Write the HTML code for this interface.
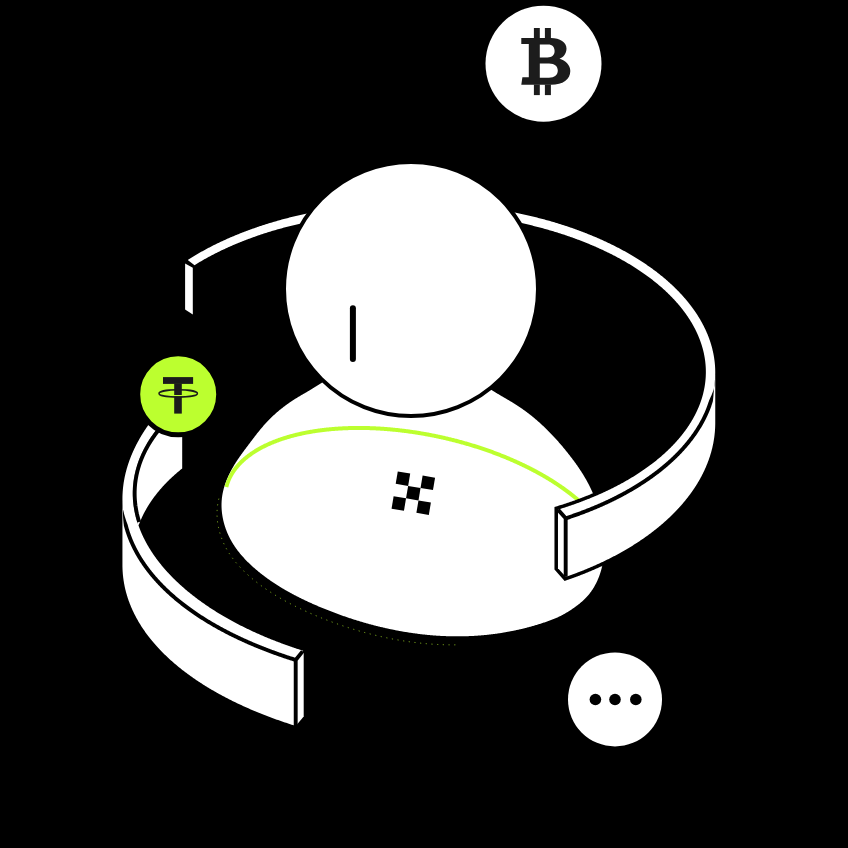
<!DOCTYPE html>
<html><head><meta charset="utf-8"><style>
html,body{margin:0;padding:0;background:#000;overflow:hidden;}
svg{display:block;}
</style></head><body>
<svg width="848" height="848" viewBox="0 0 848 848">
<defs><clipPath id="bc"><path d="M410.99,345.02 L410.36,344.96 L409.73,344.91 L409.11,344.87 L408.48,344.84 L407.85,344.81 L407.22,344.80 L406.59,344.78 L405.96,344.78 L405.32,344.78 L404.69,344.79 L404.06,344.81 L403.43,344.83 L402.79,344.86 L402.16,344.90 L401.52,344.95 L400.89,345.00 L400.25,345.06 L399.62,345.12 L398.98,345.19 L398.34,345.27 L397.71,345.35 L397.07,345.44 L396.43,345.54 L395.79,345.64 L395.15,345.75 L394.51,345.87 L393.87,345.99 L393.23,346.11 L392.59,346.25 L391.95,346.38 L391.31,346.53 L390.67,346.68 L390.03,346.83 L389.39,347.00 L388.75,347.16 L388.10,347.33 L387.46,347.51 L386.82,347.69 L386.18,347.88 L385.53,348.08 L384.89,348.27 L384.24,348.48 L383.60,348.69 L382.96,348.90 L382.31,349.12 L381.67,349.34 L381.02,349.57 L380.38,349.80 L379.73,350.04 L379.09,350.28 L378.44,350.53 L377.80,350.78 L377.15,351.03 L376.51,351.29 L375.86,351.56 L375.22,351.82 L374.57,352.10 L373.92,352.37 L373.28,352.65 L372.63,352.94 L371.99,353.22 L371.34,353.51 L370.70,353.81 L370.05,354.11 L369.40,354.41 L368.76,354.72 L368.11,355.03 L367.47,355.34 L366.82,355.66 L366.18,355.98 L365.53,356.30 L364.89,356.62 L364.24,356.95 L363.60,357.29 L362.95,357.62 L362.31,357.96 L361.66,358.30 L361.02,358.64 L360.37,358.99 L359.73,359.34 L359.09,359.69 L358.44,360.05 L357.80,360.40 L357.15,360.76 L356.51,361.12 L355.87,361.49 L355.23,361.85 L354.58,362.22 L353.94,362.59 L353.30,362.96 L352.66,363.34 L352.02,363.71 L351.38,364.09 L350.74,364.47 L350.10,364.85 L349.46,365.24 L348.82,365.62 L348.18,366.01 L347.54,366.39 L346.90,366.78 L346.26,367.17 L345.63,367.57 L344.99,367.96 L344.35,368.35 L343.72,368.75 L343.08,369.14 L342.44,369.54 L341.81,369.94 L341.17,370.34 L340.54,370.74 L339.91,371.14 L339.27,371.54 L338.64,371.94 L338.01,372.34 L337.38,372.74 L336.75,373.15 L336.12,373.55 L335.49,373.95 L334.86,374.36 L334.23,374.76 L333.60,375.16 L332.97,375.57 L332.35,375.97 L331.72,376.38 L331.10,376.78 L330.47,377.18 L329.85,377.59 L329.22,377.99 L328.60,378.39 L327.98,378.79 L327.36,379.19 L326.74,379.59 L326.12,379.99 L325.50,380.39 L324.88,380.79 L324.26,381.19 L323.64,381.58 L323.03,381.98 L322.41,382.37 L321.80,382.76 L321.18,383.16 L320.57,383.55 L319.96,383.94 L319.35,384.32 L318.74,384.71 L318.13,385.10 L317.52,385.48 L316.91,385.86 L316.30,386.24 L315.70,386.62 L315.09,387.00 L314.49,387.37 L313.88,387.74 L313.28,388.11 L312.68,388.48 L312.08,388.85 L311.48,389.21 L310.88,389.57 L310.28,389.93 L309.69,390.29 L309.09,390.64 L308.49,391.00 L307.90,391.35 L307.31,391.70 L306.72,392.04 L306.13,392.39 L305.54,392.73 L304.95,393.07 L304.36,393.42 L303.77,393.76 L303.18,394.10 L302.60,394.44 L302.01,394.78 L301.43,395.12 L300.85,395.47 L300.26,395.81 L299.68,396.15 L299.10,396.50 L298.52,396.85 L297.94,397.20 L297.36,397.55 L296.78,397.90 L296.21,398.26 L295.63,398.62 L295.05,398.98 L294.48,399.34 L293.90,399.71 L293.33,400.08 L292.75,400.46 L292.18,400.83 L291.61,401.21 L291.04,401.60 L290.47,401.98 L289.90,402.37 L289.33,402.76 L288.76,403.16 L288.20,403.56 L287.63,403.96 L287.07,404.36 L286.51,404.77 L285.95,405.18 L285.39,405.59 L284.83,406.01 L284.28,406.42 L283.72,406.84 L283.17,407.27 L282.62,407.70 L282.07,408.13 L281.52,408.56 L280.98,408.99 L280.43,409.43 L279.89,409.87 L279.35,410.31 L278.81,410.76 L278.28,411.21 L277.74,411.66 L277.21,412.12 L276.68,412.57 L276.15,413.03 L275.63,413.49 L275.11,413.96 L274.59,414.43 L274.07,414.90 L273.56,415.37 L273.04,415.84 L272.53,416.32 L272.03,416.80 L271.52,417.29 L271.02,417.77 L270.52,418.26 L270.03,418.75 L269.53,419.24 L269.05,419.74 L268.56,420.24 L268.08,420.74 L267.59,421.24 L267.12,421.74 L266.64,422.25 L266.17,422.76 L265.70,423.27 L265.24,423.78 L264.77,424.30 L264.31,424.82 L263.85,425.34 L263.40,425.86 L262.94,426.38 L262.49,426.91 L262.04,427.43 L261.60,427.96 L261.15,428.49 L260.71,429.03 L260.27,429.56 L259.83,430.09 L259.39,430.63 L258.96,431.17 L258.52,431.70 L258.09,432.24 L257.66,432.78 L257.23,433.33 L256.80,433.87 L256.38,434.41 L255.95,434.96 L255.53,435.50 L255.11,436.05 L254.68,436.59 L254.26,437.14 L253.84,437.69 L253.42,438.24 L253.00,438.79 L252.59,439.34 L252.17,439.89 L251.75,440.44 L251.34,440.99 L250.92,441.54 L250.50,442.09 L250.09,442.64 L249.67,443.19 L249.26,443.74 L248.84,444.29 L248.43,444.84 L248.01,445.39 L247.60,445.94 L247.18,446.49 L246.77,447.04 L246.35,447.60 L245.94,448.15 L245.52,448.70 L245.11,449.25 L244.70,449.80 L244.29,450.36 L243.87,450.91 L243.46,451.46 L243.06,452.02 L242.65,452.58 L242.24,453.13 L241.84,453.69 L241.43,454.25 L241.03,454.81 L240.63,455.38 L240.23,455.94 L239.83,456.50 L239.44,457.07 L239.04,457.64 L238.65,458.21 L238.26,458.78 L237.87,459.36 L237.48,459.93 L237.10,460.51 L236.72,461.09 L236.34,461.67 L235.96,462.26 L235.59,462.85 L235.22,463.43 L234.85,464.03 L234.48,464.62 L234.12,465.22 L233.76,465.82 L233.41,466.42 L233.05,467.02 L232.70,467.63 L232.36,468.24 L232.01,468.85 L231.68,469.47 L231.34,470.08 L231.01,470.70 L230.68,471.32 L230.36,471.94 L230.04,472.57 L229.72,473.20 L229.41,473.83 L229.11,474.46 L228.80,475.09 L228.51,475.72 L228.22,476.36 L227.93,477.00 L227.65,477.64 L227.37,478.28 L227.10,478.93 L226.83,479.57 L226.57,480.22 L226.31,480.87 L226.06,481.52 L225.82,482.18 L225.58,482.83 L225.34,483.49 L225.12,484.15 L224.89,484.81 L224.68,485.47 L224.47,486.13 L224.27,486.79 L224.07,487.46 L223.88,488.12 L223.70,488.79 L223.52,489.46 L223.35,490.13 L223.19,490.80 L223.03,491.48 L222.89,492.15 L222.75,492.83 L222.61,493.50 L222.49,494.18 L222.37,494.86 L222.26,495.54 L222.15,496.22 L222.06,496.90 L221.97,497.59 L221.89,498.27 L221.82,498.95 L221.76,499.64 L221.70,500.33 L221.65,501.01 L221.61,501.70 L221.58,502.39 L221.55,503.07 L221.53,503.76 L221.52,504.45 L221.52,505.14 L221.52,505.83 L221.53,506.52 L221.55,507.21 L221.58,507.90 L221.61,508.58 L221.65,509.27 L221.70,509.96 L221.76,510.65 L221.82,511.34 L221.89,512.03 L221.96,512.71 L222.05,513.40 L222.14,514.08 L222.23,514.77 L222.34,515.45 L222.45,516.14 L222.57,516.82 L222.69,517.50 L222.82,518.18 L222.96,518.86 L223.10,519.54 L223.25,520.22 L223.41,520.89 L223.57,521.57 L223.74,522.24 L223.92,522.91 L224.10,523.58 L224.29,524.25 L224.48,524.92 L224.69,525.59 L224.89,526.25 L225.11,526.91 L225.33,527.57 L225.55,528.23 L225.78,528.88 L226.02,529.54 L226.27,530.19 L226.52,530.84 L226.77,531.49 L227.03,532.13 L227.30,532.77 L227.57,533.41 L227.85,534.05 L228.14,534.68 L228.43,535.32 L228.72,535.95 L229.02,536.57 L229.33,537.20 L229.64,537.82 L229.96,538.43 L230.28,539.05 L230.61,539.66 L230.94,540.27 L231.28,540.87 L231.62,541.48 L231.97,542.07 L232.33,542.67 L232.69,543.26 L233.05,543.85 L233.42,544.44 L233.79,545.02 L234.17,545.60 L234.55,546.18 L234.94,546.75 L235.33,547.32 L235.73,547.89 L236.13,548.45 L236.54,549.02 L236.95,549.57 L237.36,550.13 L237.78,550.68 L238.20,551.23 L238.63,551.78 L239.06,552.33 L239.49,552.87 L239.93,553.40 L240.37,553.94 L240.82,554.47 L241.27,555.00 L241.72,555.53 L242.17,556.05 L242.63,556.58 L243.10,557.10 L243.57,557.61 L244.04,558.12 L244.51,558.64 L244.99,559.14 L245.47,559.65 L245.95,560.15 L246.43,560.65 L246.92,561.15 L247.41,561.64 L247.91,562.13 L248.41,562.62 L248.91,563.11 L249.41,563.59 L249.92,564.08 L250.42,564.56 L250.93,565.03 L251.45,565.51 L251.96,565.98 L252.48,566.45 L253.00,566.91 L253.52,567.38 L254.04,567.84 L254.57,568.30 L255.10,568.76 L255.63,569.21 L256.16,569.66 L256.69,570.11 L257.23,570.56 L257.76,571.01 L258.30,571.45 L258.84,571.89 L259.38,572.33 L259.93,572.76 L260.47,573.20 L261.02,573.63 L261.56,574.06 L262.11,574.49 L262.66,574.91 L263.21,575.33 L263.77,575.75 L264.32,576.17 L264.88,576.59 L265.43,577.00 L265.99,577.41 L266.55,577.82 L267.11,578.23 L267.67,578.64 L268.24,579.04 L268.80,579.44 L269.37,579.84 L269.94,580.24 L270.51,580.63 L271.08,581.03 L271.65,581.42 L272.22,581.81 L272.79,582.19 L273.37,582.58 L273.95,582.96 L274.52,583.34 L275.10,583.72 L275.68,584.10 L276.26,584.47 L276.84,584.85 L277.43,585.22 L278.01,585.59 L278.60,585.96 L279.19,586.32 L279.77,586.69 L280.36,587.05 L280.95,587.41 L281.54,587.77 L282.14,588.13 L282.73,588.48 L283.32,588.83 L283.92,589.18 L284.52,589.53 L285.11,589.88 L285.71,590.23 L286.31,590.57 L286.91,590.92 L287.51,591.26 L288.12,591.60 L288.72,591.93 L289.32,592.27 L289.93,592.60 L290.54,592.94 L291.14,593.27 L291.75,593.60 L292.36,593.93 L292.97,594.25 L293.58,594.58 L294.19,594.90 L294.81,595.22 L295.42,595.54 L296.03,595.86 L296.65,596.18 L297.26,596.49 L297.88,596.81 L298.50,597.12 L299.12,597.43 L299.74,597.74 L300.36,598.05 L300.98,598.35 L301.60,598.66 L302.22,598.96 L302.84,599.27 L303.47,599.57 L304.09,599.87 L304.72,600.17 L305.34,600.46 L305.97,600.76 L306.59,601.05 L307.22,601.35 L307.85,601.64 L308.48,601.93 L309.11,602.22 L309.74,602.50 L310.37,602.79 L311.00,603.08 L311.63,603.36 L312.27,603.64 L312.90,603.93 L313.53,604.21 L314.17,604.49 L314.80,604.76 L315.44,605.04 L316.07,605.32 L316.71,605.59 L317.35,605.86 L317.98,606.14 L318.62,606.41 L319.26,606.68 L319.90,606.95 L320.54,607.22 L321.18,607.48 L321.82,607.75 L322.46,608.01 L323.10,608.28 L323.74,608.54 L324.38,608.80 L325.02,609.06 L325.67,609.32 L326.31,609.58 L326.95,609.84 L327.60,610.09 L328.24,610.35 L328.89,610.60 L329.53,610.86 L330.18,611.11 L330.82,611.36 L331.47,611.61 L332.12,611.86 L332.76,612.10 L333.41,612.35 L334.06,612.60 L334.71,612.84 L335.36,613.08 L336.01,613.33 L336.66,613.57 L337.31,613.81 L337.96,614.04 L338.61,614.28 L339.26,614.52 L339.91,614.75 L340.56,614.99 L341.22,615.22 L341.87,615.45 L342.52,615.68 L343.18,615.91 L343.83,616.14 L344.49,616.37 L345.14,616.59 L345.80,616.82 L346.45,617.04 L347.11,617.27 L347.77,617.49 L348.42,617.71 L349.08,617.93 L349.74,618.15 L350.40,618.36 L351.05,618.58 L351.71,618.79 L352.37,619.01 L353.03,619.22 L353.69,619.43 L354.35,619.64 L355.01,619.85 L355.68,620.06 L356.34,620.26 L357.00,620.47 L357.66,620.67 L358.33,620.87 L358.99,621.08 L359.65,621.28 L360.32,621.48 L360.98,621.67 L361.64,621.87 L362.31,622.07 L362.98,622.26 L363.64,622.45 L364.31,622.65 L364.97,622.84 L365.64,623.03 L366.31,623.22 L366.98,623.40 L367.64,623.59 L368.31,623.77 L368.98,623.96 L369.65,624.14 L370.32,624.32 L370.99,624.50 L371.66,624.68 L372.33,624.86 L373.00,625.03 L373.67,625.21 L374.34,625.38 L375.01,625.55 L375.69,625.73 L376.36,625.90 L377.03,626.07 L377.70,626.23 L378.38,626.40 L379.05,626.56 L379.73,626.73 L380.40,626.89 L381.07,627.05 L381.75,627.21 L382.42,627.37 L383.10,627.53 L383.78,627.68 L384.45,627.84 L385.13,627.99 L385.81,628.15 L386.48,628.30 L387.16,628.45 L387.84,628.60 L388.52,628.74 L389.20,628.89 L389.87,629.03 L390.55,629.18 L391.23,629.32 L391.91,629.46 L392.59,629.60 L393.27,629.74 L393.95,629.87 L394.63,630.01 L395.31,630.14 L395.99,630.28 L396.68,630.41 L397.36,630.54 L398.04,630.67 L398.72,630.79 L399.40,630.92 L400.09,631.04 L400.77,631.17 L401.45,631.29 L402.14,631.41 L402.82,631.53 L403.50,631.65 L404.19,631.76 L404.87,631.88 L405.56,631.99 L406.24,632.11 L406.93,632.22 L407.61,632.33 L408.30,632.43 L408.98,632.54 L409.67,632.65 L410.35,632.75 L411.04,632.85 L411.73,632.95 L412.41,633.05 L413.10,633.15 L413.79,633.25 L414.47,633.35 L415.16,633.44 L415.85,633.53 L416.53,633.62 L417.22,633.71 L417.91,633.80 L418.60,633.89 L419.29,633.97 L419.98,634.06 L420.66,634.14 L421.35,634.22 L422.04,634.30 L422.73,634.38 L423.42,634.46 L424.11,634.53 L424.80,634.61 L425.49,634.68 L426.18,634.75 L426.87,634.82 L427.56,634.89 L428.25,634.95 L428.94,635.02 L429.63,635.08 L430.32,635.14 L431.01,635.20 L431.70,635.26 L432.39,635.32 L433.08,635.38 L433.77,635.43 L434.46,635.48 L435.15,635.53 L435.85,635.58 L436.54,635.63 L437.23,635.68 L437.92,635.72 L438.61,635.77 L439.30,635.81 L439.99,635.85 L440.69,635.89 L441.38,635.93 L442.07,635.96 L442.76,636.00 L443.45,636.03 L444.15,636.06 L444.84,636.09 L445.53,636.12 L446.22,636.15 L446.92,636.17 L447.61,636.19 L448.30,636.22 L448.99,636.24 L449.69,636.25 L450.38,636.27 L451.07,636.29 L451.76,636.30 L452.46,636.31 L453.15,636.32 L453.84,636.33 L454.53,636.34 L455.23,636.35 L455.92,636.35 L456.61,636.35 L457.30,636.35 L458.00,636.35 L458.69,636.35 L459.38,636.35 L460.07,636.34 L460.77,636.33 L461.46,636.32 L462.15,636.31 L462.85,636.30 L463.54,636.29 L464.23,636.27 L464.92,636.25 L465.62,636.24 L466.31,636.21 L467.00,636.19 L467.69,636.17 L468.38,636.14 L469.08,636.12 L469.77,636.09 L470.46,636.06 L471.15,636.02 L471.85,635.99 L472.54,635.95 L473.23,635.92 L473.92,635.88 L474.61,635.84 L475.31,635.79 L476.00,635.75 L476.69,635.70 L477.38,635.66 L478.07,635.61 L478.76,635.56 L479.45,635.50 L480.14,635.45 L480.83,635.39 L481.53,635.34 L482.22,635.28 L482.91,635.21 L483.60,635.15 L484.29,635.09 L484.98,635.02 L485.67,634.95 L486.36,634.88 L487.04,634.81 L487.73,634.74 L488.42,634.66 L489.11,634.59 L489.80,634.51 L490.49,634.43 L491.18,634.35 L491.87,634.26 L492.55,634.18 L493.24,634.09 L493.93,634.00 L494.62,633.91 L495.30,633.82 L495.99,633.73 L496.68,633.63 L497.36,633.53 L498.05,633.44 L498.73,633.34 L499.42,633.23 L500.10,633.13 L500.79,633.02 L501.47,632.92 L502.16,632.81 L502.84,632.69 L503.52,632.58 L504.21,632.47 L504.89,632.35 L505.57,632.23 L506.26,632.11 L506.94,631.99 L507.62,631.87 L508.30,631.74 L508.98,631.62 L509.66,631.49 L510.34,631.36 L511.03,631.23 L511.70,631.09 L512.38,630.96 L513.06,630.82 L513.74,630.68 L514.42,630.54 L515.10,630.40 L515.78,630.25 L516.45,630.11 L517.13,629.96 L517.81,629.81 L518.48,629.66 L519.16,629.51 L519.83,629.35 L520.51,629.19 L521.18,629.04 L521.86,628.88 L522.53,628.71 L523.20,628.55 L523.88,628.39 L524.55,628.22 L525.22,628.05 L525.89,627.88 L526.56,627.71 L527.23,627.53 L527.90,627.36 L528.57,627.18 L529.24,627.00 L529.91,626.82 L530.58,626.63 L531.24,626.45 L531.91,626.26 L532.58,626.07 L533.24,625.88 L533.91,625.69 L534.57,625.50 L535.24,625.30 L535.90,625.11 L536.57,624.91 L537.23,624.71 L537.89,624.50 L538.55,624.30 L539.21,624.09 L539.87,623.88 L540.53,623.67 L541.19,623.46 L541.85,623.25 L542.51,623.03 L543.17,622.82 L543.83,622.60 L544.48,622.38 L545.14,622.15 L545.79,621.93 L546.45,621.70 L547.10,621.48 L547.76,621.25 L548.41,621.01 L549.06,620.78 L549.71,620.54 L550.36,620.30 L551.01,620.06 L551.66,619.81 L552.30,619.56 L552.94,619.31 L553.59,619.05 L554.23,618.79 L554.87,618.53 L555.50,618.26 L556.14,617.99 L556.77,617.71 L557.40,617.43 L558.03,617.15 L558.66,616.86 L559.28,616.56 L559.91,616.26 L560.53,615.95 L561.14,615.64 L561.76,615.33 L562.37,615.00 L562.98,614.68 L563.59,614.35 L564.19,614.01 L564.79,613.67 L565.39,613.32 L565.99,612.97 L566.59,612.62 L567.18,612.26 L567.77,611.90 L568.36,611.53 L568.95,611.16 L569.54,610.79 L570.12,610.41 L570.71,610.03 L571.29,609.64 L571.86,609.25 L572.44,608.86 L573.02,608.47 L573.59,608.07 L574.16,607.66 L574.73,607.26 L575.30,606.85 L575.86,606.44 L576.43,606.02 L576.99,605.60 L577.54,605.18 L578.10,604.75 L578.65,604.32 L579.20,603.89 L579.74,603.45 L580.28,603.00 L580.81,602.56 L581.35,602.10 L581.87,601.65 L582.39,601.19 L582.91,600.72 L583.42,600.25 L583.93,599.77 L584.43,599.29 L584.93,598.81 L585.42,598.31 L585.90,597.82 L586.38,597.32 L586.85,596.81 L587.31,596.30 L587.77,595.78 L588.22,595.25 L588.66,594.72 L589.10,594.19 L589.53,593.65 L589.96,593.10 L590.37,592.55 L590.78,592.00 L591.19,591.44 L591.59,590.87 L591.98,590.30 L592.36,589.73 L592.74,589.15 L593.11,588.57 L593.47,587.98 L593.83,587.39 L594.19,586.79 L594.53,586.19 L594.87,585.59 L595.20,584.98 L595.53,584.37 L595.85,583.76 L596.16,583.14 L596.47,582.52 L596.77,581.89 L597.07,581.27 L597.35,580.63 L597.64,580.00 L597.91,579.36 L598.18,578.72 L598.45,578.08 L598.70,577.43 L598.95,576.79 L599.20,576.14 L599.44,575.48 L599.67,574.83 L599.90,574.17 L600.12,573.51 L600.34,572.85 L600.54,572.19 L600.75,571.52 L600.94,570.85 L601.13,570.19 L601.32,569.52 L601.50,568.84 L601.67,568.17 L601.84,567.50 L602.00,566.82 L602.16,566.14 L602.31,565.47 L602.45,564.79 L602.59,564.11 L602.72,563.43 L602.85,562.75 L602.97,562.07 L603.09,561.39 L603.20,560.70 L603.30,560.02 L603.40,559.33 L603.49,558.65 L603.58,557.96 L603.67,557.28 L603.74,556.59 L603.82,555.90 L603.88,555.21 L603.95,554.53 L604.00,553.84 L604.05,553.15 L604.10,552.46 L604.14,551.77 L604.18,551.08 L604.21,550.39 L604.24,549.69 L604.26,549.00 L604.28,548.31 L604.29,547.62 L604.30,546.93 L604.30,546.23 L604.30,545.54 L604.29,544.85 L604.28,544.15 L604.26,543.46 L604.24,542.77 L604.22,542.07 L604.19,541.38 L604.15,540.68 L604.12,539.99 L604.07,539.30 L604.03,538.60 L603.98,537.91 L603.92,537.22 L603.86,536.52 L603.80,535.83 L603.73,535.14 L603.66,534.44 L603.58,533.75 L603.50,533.06 L603.42,532.37 L603.33,531.67 L603.24,530.98 L603.15,530.29 L603.05,529.60 L602.95,528.91 L602.84,528.22 L602.73,527.53 L602.62,526.84 L602.50,526.15 L602.38,525.46 L602.25,524.77 L602.13,524.08 L601.99,523.40 L601.86,522.71 L601.72,522.03 L601.58,521.34 L601.44,520.66 L601.29,519.97 L601.14,519.29 L600.98,518.61 L600.83,517.93 L600.67,517.24 L600.50,516.56 L600.34,515.89 L600.17,515.21 L600.00,514.53 L599.82,513.85 L599.64,513.18 L599.46,512.50 L599.28,511.83 L599.09,511.16 L598.90,510.48 L598.71,509.81 L598.52,509.14 L598.32,508.48 L598.12,507.81 L597.92,507.14 L597.71,506.48 L597.50,505.81 L597.29,505.15 L597.08,504.49 L596.86,503.83 L596.64,503.17 L596.42,502.51 L596.19,501.86 L595.96,501.20 L595.73,500.55 L595.49,499.89 L595.25,499.24 L595.01,498.59 L594.77,497.95 L594.52,497.30 L594.27,496.66 L594.01,496.01 L593.75,495.37 L593.49,494.73 L593.23,494.09 L592.96,493.46 L592.69,492.82 L592.41,492.19 L592.14,491.56 L591.85,490.93 L591.57,490.30 L591.28,489.67 L590.99,489.05 L590.70,488.42 L590.40,487.80 L590.10,487.18 L589.79,486.57 L589.49,485.95 L589.18,485.33 L588.86,484.72 L588.55,484.11 L588.23,483.50 L587.90,482.89 L587.58,482.29 L587.25,481.68 L586.92,481.08 L586.58,480.47 L586.25,479.87 L585.91,479.27 L585.57,478.68 L585.22,478.08 L584.87,477.49 L584.52,476.89 L584.17,476.30 L583.81,475.71 L583.46,475.12 L583.10,474.53 L582.73,473.95 L582.37,473.36 L582.00,472.78 L581.63,472.20 L581.26,471.61 L580.88,471.03 L580.50,470.46 L580.12,469.88 L579.74,469.30 L579.36,468.73 L578.97,468.16 L578.58,467.58 L578.19,467.01 L577.80,466.44 L577.41,465.87 L577.01,465.31 L576.61,464.74 L576.21,464.18 L575.81,463.61 L575.40,463.05 L575.00,462.49 L574.59,461.93 L574.18,461.37 L573.77,460.81 L573.36,460.25 L572.94,459.69 L572.53,459.14 L572.11,458.58 L571.69,458.03 L571.27,457.48 L570.84,456.93 L570.42,456.38 L569.99,455.83 L569.57,455.28 L569.14,454.73 L568.71,454.18 L568.28,453.64 L567.85,453.09 L567.41,452.55 L566.98,452.00 L566.54,451.46 L566.10,450.92 L565.67,450.38 L565.23,449.84 L564.78,449.30 L564.34,448.76 L563.90,448.23 L563.45,447.69 L563.01,447.16 L562.56,446.62 L562.11,446.09 L561.66,445.56 L561.21,445.03 L560.75,444.50 L560.30,443.97 L559.84,443.45 L559.38,442.92 L558.93,442.39 L558.47,441.87 L558.01,441.35 L557.54,440.83 L557.08,440.31 L556.61,439.79 L556.15,439.27 L555.68,438.76 L555.21,438.24 L554.74,437.73 L554.27,437.22 L553.79,436.71 L553.32,436.20 L552.84,435.69 L552.37,435.19 L551.89,434.68 L551.41,434.18 L550.92,433.68 L550.44,433.18 L549.96,432.68 L549.47,432.18 L548.98,431.69 L548.49,431.19 L548.00,430.70 L547.51,430.21 L547.02,429.72 L546.53,429.23 L546.03,428.75 L545.53,428.26 L545.03,427.78 L544.53,427.30 L544.03,426.82 L543.53,426.34 L543.03,425.86 L542.52,425.39 L542.01,424.92 L541.51,424.45 L541.00,423.98 L540.48,423.51 L539.97,423.05 L539.46,422.58 L538.94,422.12 L538.42,421.66 L537.91,421.21 L537.38,420.75 L536.86,420.30 L536.34,419.84 L535.82,419.39 L535.29,418.95 L534.76,418.50 L534.23,418.06 L533.70,417.62 L533.17,417.18 L532.64,416.74 L532.10,416.30 L531.57,415.87 L531.03,415.44 L530.49,415.01 L529.95,414.58 L529.41,414.16 L528.86,413.73 L528.32,413.31 L527.77,412.89 L527.22,412.48 L526.67,412.06 L526.12,411.65 L525.57,411.24 L525.01,410.84 L524.46,410.43 L523.90,410.03 L523.34,409.63 L522.78,409.23 L522.22,408.84 L521.65,408.44 L521.09,408.05 L520.52,407.67 L519.95,407.28 L519.38,406.90 L518.81,406.52 L518.24,406.14 L517.66,405.76 L517.09,405.39 L516.51,405.02 L515.93,404.65 L515.35,404.28 L514.77,403.92 L514.18,403.55 L513.60,403.19 L513.01,402.83 L512.43,402.47 L511.84,402.12 L511.25,401.76 L510.66,401.41 L510.07,401.05 L509.48,400.70 L508.88,400.35 L508.29,399.99 L507.70,399.64 L507.10,399.29 L506.50,398.94 L505.91,398.59 L505.31,398.24 L504.71,397.89 L504.11,397.54 L503.51,397.19 L502.91,396.84 L502.31,396.48 L501.71,396.13 L501.11,395.78 L500.50,395.42 L499.90,395.07 L499.30,394.71 L498.70,394.35 L498.09,393.99 L497.49,393.63 L496.88,393.27 L496.28,392.91 L495.68,392.54 L495.07,392.17 L494.47,391.80 L493.87,391.43 L493.26,391.05 L492.66,390.68 L492.06,390.30 L491.45,389.92 L490.85,389.53 L490.25,389.14 L489.65,388.75 L489.04,388.36 L488.44,387.97 L487.84,387.57 L487.24,387.17 L486.64,386.77 L486.04,386.36 L485.44,385.95 L484.83,385.55 L484.23,385.14 L483.63,384.72 L483.03,384.31 L482.43,383.89 L481.83,383.48 L481.24,383.06 L480.64,382.64 L480.04,382.22 L479.44,381.79 L478.84,381.37 L478.24,380.94 L477.64,380.52 L477.04,380.09 L476.44,379.66 L475.85,379.23 L475.25,378.80 L474.65,378.37 L474.05,377.94 L473.45,377.51 L472.86,377.08 L472.26,376.64 L471.66,376.21 L471.06,375.78 L470.46,375.34 L469.87,374.91 L469.27,374.48 L468.67,374.04 L468.07,373.61 L467.48,373.18 L466.88,372.75 L466.28,372.32 L465.68,371.88 L465.08,371.45 L464.49,371.02 L463.89,370.59 L463.29,370.17 L462.69,369.74 L462.10,369.31 L461.50,368.89 L460.90,368.46 L460.30,368.04 L459.70,367.62 L459.10,367.20 L458.51,366.78 L457.91,366.36 L457.31,365.94 L456.71,365.53 L456.11,365.12 L455.51,364.71 L454.91,364.30 L454.31,363.89 L453.71,363.49 L453.12,363.08 L452.52,362.68 L451.92,362.29 L451.32,361.89 L450.72,361.50 L450.11,361.11 L449.51,360.72 L448.91,360.33 L448.31,359.95 L447.71,359.57 L447.11,359.20 L446.51,358.82 L445.91,358.45 L445.30,358.08 L444.70,357.72 L444.10,357.36 L443.50,357.00 L442.89,356.65 L442.29,356.30 L441.68,355.95 L441.08,355.61 L440.48,355.27 L439.87,354.94 L439.27,354.60 L438.66,354.28 L438.06,353.95 L437.45,353.64 L436.84,353.32 L436.24,353.01 L435.63,352.71 L435.02,352.40 L434.42,352.11 L433.81,351.82 L433.20,351.53 L432.59,351.25 L431.98,350.97 L431.37,350.70 L430.76,350.43 L430.15,350.17 L429.54,349.91 L428.93,349.66 L428.32,349.41 L427.70,349.17 L427.09,348.94 L426.48,348.71 L425.87,348.48 L425.25,348.26 L424.64,348.05 L424.02,347.85 L423.41,347.64 L422.79,347.45 L422.17,347.26 L421.56,347.08 L420.94,346.90 L420.32,346.74 L419.70,346.57 L419.09,346.42 L418.47,346.27 L417.85,346.12 L417.23,345.99 L416.60,345.86 L415.98,345.74 L415.36,345.62 L414.74,345.51 L414.11,345.41 L413.49,345.32 L412.87,345.23 L412.24,345.15 L411.62,345.08 Z"/></clipPath></defs>
<rect width="848" height="848" fill="#000"/>
<path d="M218.85,498.63 L218.69,499.30 L218.53,499.98 L218.39,500.65 L218.25,501.33 L218.11,502.00 L217.99,502.68 L217.87,503.36 L217.76,504.04 L217.65,504.72 L217.56,505.40 L217.47,506.09 L217.39,506.77 L217.32,507.45 L217.26,508.14 L217.20,508.83 L217.15,509.51 L217.11,510.20 L217.08,510.89 L217.05,511.57 L217.03,512.26 L217.02,512.95 L217.02,513.64 L217.02,514.33 L217.03,515.02 L217.05,515.71 L217.08,516.40 L217.11,517.08 L217.15,517.77 L217.20,518.46 L217.26,519.15 L217.32,519.84 L217.39,520.53 L217.46,521.21 L217.55,521.90 L217.64,522.58 L217.73,523.27 L217.84,523.95 L217.95,524.64 L218.07,525.32 L218.19,526.00 L218.32,526.68 L218.46,527.36 L218.60,528.04 L218.75,528.72 L218.91,529.39 L219.07,530.07 L219.24,530.74 L219.42,531.41 L219.60,532.08 L219.79,532.75 L219.98,533.42 L220.19,534.09 L220.39,534.75 L220.61,535.41 L220.83,536.07 L221.05,536.73 L221.28,537.38 L221.52,538.04 L221.77,538.69 L222.02,539.34 L222.27,539.99 L222.53,540.63 L222.80,541.27 L223.07,541.91 L223.35,542.55 L223.64,543.18 L223.93,543.82 L224.22,544.45 L224.52,545.07 L224.83,545.70 L225.14,546.32 L225.46,546.93 L225.78,547.55 L226.11,548.16 L226.44,548.77 L226.78,549.37 L227.12,549.98 L227.47,550.57 L227.83,551.17 L228.19,551.76 L228.55,552.35 L228.92,552.94 L229.29,553.52 L229.67,554.10 L230.05,554.68 L230.44,555.25 L230.83,555.82 L231.23,556.39 L231.63,556.95 L232.04,557.52 L232.45,558.07 L232.86,558.63 L233.28,559.18 L233.70,559.73 L234.13,560.28 L234.56,560.83 L234.99,561.37 L235.43,561.90 L235.87,562.44 L236.32,562.97 L236.77,563.50 L237.22,564.03 L237.67,564.55 L238.13,565.08 L238.60,565.60 L239.07,566.11 L239.54,566.62 L240.01,567.14 L240.49,567.64 L240.97,568.15 L241.45,568.65 L241.93,569.15 L242.42,569.65 L242.91,570.14 L243.41,570.63 L243.91,571.12 L244.41,571.61 L244.91,572.09 L245.42,572.58 L245.92,573.06 L246.43,573.53 L246.95,574.01 L247.46,574.48 L247.98,574.95 L248.50,575.41 L249.02,575.88 L249.54,576.34 L250.07,576.80 L250.60,577.26 L251.13,577.71 L251.66,578.16 L252.19,578.61 L252.73,579.06 L253.26,579.51 L253.80,579.95 L254.34,580.39 L254.88,580.83 L255.43,581.26 L255.97,581.70 L256.52,582.13 L257.06,582.56 L257.61,582.99 L258.16,583.41 L258.71,583.83 L259.27,584.25 L259.82,584.67 L260.38,585.09 L260.93,585.50 L261.49,585.91 L262.05,586.32 L262.61,586.73 L263.17,587.14 L263.74,587.54 L264.30,587.94 L264.87,588.34 L265.44,588.74 L266.01,589.13 L266.58,589.53 L267.15,589.92 L267.72,590.31 L268.29,590.69 L268.87,591.08 L269.45,591.46 L270.02,591.84 L270.60,592.22 L271.18,592.60 L271.76,592.97 L272.34,593.35 L272.93,593.72 L273.51,594.09 L274.10,594.46 L274.69,594.82 L275.27,595.19 L275.86,595.55 L276.45,595.91 L277.04,596.27 L277.64,596.63 L278.23,596.98 L278.82,597.33 L279.42,597.68 L280.02,598.03 L280.61,598.38 L281.21,598.73 L281.81,599.07 L282.41,599.42 L283.01,599.76 L283.62,600.10 L284.22,600.43 L284.82,600.77 L285.43,601.10 L286.04,601.44 L286.64,601.77 L287.25,602.10 L287.86,602.43 L288.47,602.75 L289.08,603.08 L289.69,603.40 L290.31,603.72 L290.92,604.04 L291.53,604.36 L292.15,604.68 L292.76,604.99 L293.38,605.31 L294.00,605.62 L294.62,605.93 L295.24,606.24 L295.86,606.55 L296.48,606.85 L297.10,607.16 L297.72,607.46 L298.34,607.77 L298.97,608.07 L299.59,608.37 L300.22,608.67 L300.84,608.96 L301.47,609.26 L302.09,609.55 L302.72,609.85 L303.35,610.14 L303.98,610.43 L304.61,610.72 L305.24,611.00 L305.87,611.29 L306.50,611.58 L307.13,611.86 L307.77,612.14 L308.40,612.43 L309.03,612.71 L309.67,612.99 L310.30,613.26 L310.94,613.54 L311.57,613.82 L312.21,614.09 L312.85,614.36 L313.48,614.64 L314.12,614.91 L314.76,615.18 L315.40,615.45 L316.04,615.72 L316.68,615.98 L317.32,616.25 L317.96,616.51 L318.60,616.78 L319.24,617.04 L319.88,617.30 L320.52,617.56 L321.17,617.82 L321.81,618.08 L322.45,618.34 L323.10,618.59 L323.74,618.85 L324.39,619.10 L325.03,619.36 L325.68,619.61 L326.32,619.86 L326.97,620.11 L327.62,620.36 L328.26,620.60 L328.91,620.85 L329.56,621.10 L330.21,621.34 L330.86,621.58 L331.51,621.83 L332.16,622.07 L332.81,622.31 L333.46,622.54 L334.11,622.78 L334.76,623.02 L335.41,623.25 L336.06,623.49 L336.72,623.72 L337.37,623.95 L338.02,624.18 L338.68,624.41 L339.33,624.64 L339.99,624.87 L340.64,625.09 L341.30,625.32 L341.95,625.54 L342.61,625.77 L343.27,625.99 L343.92,626.21 L344.58,626.43 L345.24,626.65 L345.90,626.86 L346.55,627.08 L347.21,627.29 L347.87,627.51 L348.53,627.72 L349.19,627.93 L349.85,628.14 L350.51,628.35 L351.18,628.56 L351.84,628.76 L352.50,628.97 L353.16,629.17 L353.83,629.37 L354.49,629.58 L355.15,629.78 L355.82,629.98 L356.48,630.17 L357.14,630.37 L357.81,630.57 L358.48,630.76 L359.14,630.95 L359.81,631.15 L360.47,631.34 L361.14,631.53 L361.81,631.72 L362.48,631.90 L363.14,632.09 L363.81,632.27 L364.48,632.46 L365.15,632.64 L365.82,632.82 L366.49,633.00 L367.16,633.18 L367.83,633.36 L368.50,633.53 L369.17,633.71 L369.84,633.88 L370.51,634.05 L371.19,634.23 L371.86,634.40 L372.53,634.57 L373.20,634.73 L373.88,634.90 L374.55,635.06 L375.23,635.23 L375.90,635.39 L376.57,635.55 L377.25,635.71 L377.92,635.87 L378.60,636.03 L379.28,636.18 L379.95,636.34 L380.63,636.49 L381.31,636.65 L381.98,636.80 L382.66,636.95 L383.34,637.10 L384.02,637.24 L384.70,637.39 L385.37,637.53 L386.05,637.68 L386.73,637.82 L387.41,637.96 L388.09,638.10 L388.77,638.24 L389.45,638.37 L390.13,638.51 L390.81,638.64 L391.49,638.78 L392.18,638.91 L392.86,639.04 L393.54,639.17 L394.22,639.29 L394.90,639.42 L395.59,639.54 L396.27,639.67 L396.95,639.79 L397.64,639.91 L398.32,640.03 L399.00,640.15 L399.69,640.26 L400.37,640.38 L401.06,640.49 L401.74,640.61 L402.43,640.72 L403.11,640.83 L403.80,640.93 L404.48,641.04 L405.17,641.15 L405.85,641.25 L406.54,641.35 L407.23,641.45 L407.91,641.55 L408.60,641.65 L409.29,641.75 L409.97,641.85 L410.66,641.94 L411.35,642.03 L412.03,642.12 L412.72,642.21 L413.41,642.30 L414.10,642.39 L414.79,642.47 L415.48,642.56 L416.16,642.64 L416.85,642.72 L417.54,642.80 L418.23,642.88 L418.92,642.96 L419.61,643.03 L420.30,643.11 L420.99,643.18 L421.68,643.25 L422.37,643.32 L423.06,643.39 L423.75,643.45 L424.44,643.52 L425.13,643.58 L425.82,643.64 L426.51,643.70 L427.20,643.76 L427.89,643.82 L428.58,643.88 L429.27,643.93 L429.96,643.98 L430.65,644.03 L431.35,644.08 L432.04,644.13 L432.73,644.18 L433.42,644.22 L434.11,644.27 L434.80,644.31 L435.49,644.35 L436.19,644.39 L436.88,644.43 L437.57,644.46 L438.26,644.50 L438.95,644.53 L439.65,644.56 L440.34,644.59 L441.03,644.62 L441.72,644.65 L442.42,644.67 L443.11,644.69 L443.80,644.72 L444.49,644.74 L445.19,644.75 L445.88,644.77 L446.57,644.79 L447.26,644.80 L447.96,644.81 L448.65,644.82 L449.34,644.83 L450.03,644.84 L450.73,644.85 L451.42,644.85 L452.11,644.85 L452.80,644.85 L453.50,644.85 L454.19,644.85 L454.88,644.85 L455.57,644.84 L456.27,644.83 L456.96,644.82" fill="none" stroke="#bcff2f" stroke-width="0.9" stroke-dasharray="1.2 4.5" opacity="0.7"/>
<path d="M410.99,345.02 L410.36,344.96 L409.73,344.91 L409.11,344.87 L408.48,344.84 L407.85,344.81 L407.22,344.80 L406.59,344.78 L405.96,344.78 L405.32,344.78 L404.69,344.79 L404.06,344.81 L403.43,344.83 L402.79,344.86 L402.16,344.90 L401.52,344.95 L400.89,345.00 L400.25,345.06 L399.62,345.12 L398.98,345.19 L398.34,345.27 L397.71,345.35 L397.07,345.44 L396.43,345.54 L395.79,345.64 L395.15,345.75 L394.51,345.87 L393.87,345.99 L393.23,346.11 L392.59,346.25 L391.95,346.38 L391.31,346.53 L390.67,346.68 L390.03,346.83 L389.39,347.00 L388.75,347.16 L388.10,347.33 L387.46,347.51 L386.82,347.69 L386.18,347.88 L385.53,348.08 L384.89,348.27 L384.24,348.48 L383.60,348.69 L382.96,348.90 L382.31,349.12 L381.67,349.34 L381.02,349.57 L380.38,349.80 L379.73,350.04 L379.09,350.28 L378.44,350.53 L377.80,350.78 L377.15,351.03 L376.51,351.29 L375.86,351.56 L375.22,351.82 L374.57,352.10 L373.92,352.37 L373.28,352.65 L372.63,352.94 L371.99,353.22 L371.34,353.51 L370.70,353.81 L370.05,354.11 L369.40,354.41 L368.76,354.72 L368.11,355.03 L367.47,355.34 L366.82,355.66 L366.18,355.98 L365.53,356.30 L364.89,356.62 L364.24,356.95 L363.60,357.29 L362.95,357.62 L362.31,357.96 L361.66,358.30 L361.02,358.64 L360.37,358.99 L359.73,359.34 L359.09,359.69 L358.44,360.05 L357.80,360.40 L357.15,360.76 L356.51,361.12 L355.87,361.49 L355.23,361.85 L354.58,362.22 L353.94,362.59 L353.30,362.96 L352.66,363.34 L352.02,363.71 L351.38,364.09 L350.74,364.47 L350.10,364.85 L349.46,365.24 L348.82,365.62 L348.18,366.01 L347.54,366.39 L346.90,366.78 L346.26,367.17 L345.63,367.57 L344.99,367.96 L344.35,368.35 L343.72,368.75 L343.08,369.14 L342.44,369.54 L341.81,369.94 L341.17,370.34 L340.54,370.74 L339.91,371.14 L339.27,371.54 L338.64,371.94 L338.01,372.34 L337.38,372.74 L336.75,373.15 L336.12,373.55 L335.49,373.95 L334.86,374.36 L334.23,374.76 L333.60,375.16 L332.97,375.57 L332.35,375.97 L331.72,376.38 L331.10,376.78 L330.47,377.18 L329.85,377.59 L329.22,377.99 L328.60,378.39 L327.98,378.79 L327.36,379.19 L326.74,379.59 L326.12,379.99 L325.50,380.39 L324.88,380.79 L324.26,381.19 L323.64,381.58 L323.03,381.98 L322.41,382.37 L321.80,382.76 L321.18,383.16 L320.57,383.55 L319.96,383.94 L319.35,384.32 L318.74,384.71 L318.13,385.10 L317.52,385.48 L316.91,385.86 L316.30,386.24 L315.70,386.62 L315.09,387.00 L314.49,387.37 L313.88,387.74 L313.28,388.11 L312.68,388.48 L312.08,388.85 L311.48,389.21 L310.88,389.57 L310.28,389.93 L309.69,390.29 L309.09,390.64 L308.49,391.00 L307.90,391.35 L307.31,391.70 L306.72,392.04 L306.13,392.39 L305.54,392.73 L304.95,393.07 L304.36,393.42 L303.77,393.76 L303.18,394.10 L302.60,394.44 L302.01,394.78 L301.43,395.12 L300.85,395.47 L300.26,395.81 L299.68,396.15 L299.10,396.50 L298.52,396.85 L297.94,397.20 L297.36,397.55 L296.78,397.90 L296.21,398.26 L295.63,398.62 L295.05,398.98 L294.48,399.34 L293.90,399.71 L293.33,400.08 L292.75,400.46 L292.18,400.83 L291.61,401.21 L291.04,401.60 L290.47,401.98 L289.90,402.37 L289.33,402.76 L288.76,403.16 L288.20,403.56 L287.63,403.96 L287.07,404.36 L286.51,404.77 L285.95,405.18 L285.39,405.59 L284.83,406.01 L284.28,406.42 L283.72,406.84 L283.17,407.27 L282.62,407.70 L282.07,408.13 L281.52,408.56 L280.98,408.99 L280.43,409.43 L279.89,409.87 L279.35,410.31 L278.81,410.76 L278.28,411.21 L277.74,411.66 L277.21,412.12 L276.68,412.57 L276.15,413.03 L275.63,413.49 L275.11,413.96 L274.59,414.43 L274.07,414.90 L273.56,415.37 L273.04,415.84 L272.53,416.32 L272.03,416.80 L271.52,417.29 L271.02,417.77 L270.52,418.26 L270.03,418.75 L269.53,419.24 L269.05,419.74 L268.56,420.24 L268.08,420.74 L267.59,421.24 L267.12,421.74 L266.64,422.25 L266.17,422.76 L265.70,423.27 L265.24,423.78 L264.77,424.30 L264.31,424.82 L263.85,425.34 L263.40,425.86 L262.94,426.38 L262.49,426.91 L262.04,427.43 L261.60,427.96 L261.15,428.49 L260.71,429.03 L260.27,429.56 L259.83,430.09 L259.39,430.63 L258.96,431.17 L258.52,431.70 L258.09,432.24 L257.66,432.78 L257.23,433.33 L256.80,433.87 L256.38,434.41 L255.95,434.96 L255.53,435.50 L255.11,436.05 L254.68,436.59 L254.26,437.14 L253.84,437.69 L253.42,438.24 L253.00,438.79 L252.59,439.34 L252.17,439.89 L251.75,440.44 L251.34,440.99 L250.92,441.54 L250.50,442.09 L250.09,442.64 L249.67,443.19 L249.26,443.74 L248.84,444.29 L248.43,444.84 L248.01,445.39 L247.60,445.94 L247.18,446.49 L246.77,447.04 L246.35,447.60 L245.94,448.15 L245.52,448.70 L245.11,449.25 L244.70,449.80 L244.29,450.36 L243.87,450.91 L243.46,451.46 L243.06,452.02 L242.65,452.58 L242.24,453.13 L241.84,453.69 L241.43,454.25 L241.03,454.81 L240.63,455.38 L240.23,455.94 L239.83,456.50 L239.44,457.07 L239.04,457.64 L238.65,458.21 L238.26,458.78 L237.87,459.36 L237.48,459.93 L237.10,460.51 L236.72,461.09 L236.34,461.67 L235.96,462.26 L235.59,462.85 L235.22,463.43 L234.85,464.03 L234.48,464.62 L234.12,465.22 L233.76,465.82 L233.41,466.42 L233.05,467.02 L232.70,467.63 L232.36,468.24 L232.01,468.85 L231.68,469.47 L231.34,470.08 L231.01,470.70 L230.68,471.32 L230.36,471.94 L230.04,472.57 L229.72,473.20 L229.41,473.83 L229.11,474.46 L228.80,475.09 L228.51,475.72 L228.22,476.36 L227.93,477.00 L227.65,477.64 L227.37,478.28 L227.10,478.93 L226.83,479.57 L226.57,480.22 L226.31,480.87 L226.06,481.52 L225.82,482.18 L225.58,482.83 L225.34,483.49 L225.12,484.15 L224.89,484.81 L224.68,485.47 L224.47,486.13 L224.27,486.79 L224.07,487.46 L223.88,488.12 L223.70,488.79 L223.52,489.46 L223.35,490.13 L223.19,490.80 L223.03,491.48 L222.89,492.15 L222.75,492.83 L222.61,493.50 L222.49,494.18 L222.37,494.86 L222.26,495.54 L222.15,496.22 L222.06,496.90 L221.97,497.59 L221.89,498.27 L221.82,498.95 L221.76,499.64 L221.70,500.33 L221.65,501.01 L221.61,501.70 L221.58,502.39 L221.55,503.07 L221.53,503.76 L221.52,504.45 L221.52,505.14 L221.52,505.83 L221.53,506.52 L221.55,507.21 L221.58,507.90 L221.61,508.58 L221.65,509.27 L221.70,509.96 L221.76,510.65 L221.82,511.34 L221.89,512.03 L221.96,512.71 L222.05,513.40 L222.14,514.08 L222.23,514.77 L222.34,515.45 L222.45,516.14 L222.57,516.82 L222.69,517.50 L222.82,518.18 L222.96,518.86 L223.10,519.54 L223.25,520.22 L223.41,520.89 L223.57,521.57 L223.74,522.24 L223.92,522.91 L224.10,523.58 L224.29,524.25 L224.48,524.92 L224.69,525.59 L224.89,526.25 L225.11,526.91 L225.33,527.57 L225.55,528.23 L225.78,528.88 L226.02,529.54 L226.27,530.19 L226.52,530.84 L226.77,531.49 L227.03,532.13 L227.30,532.77 L227.57,533.41 L227.85,534.05 L228.14,534.68 L228.43,535.32 L228.72,535.95 L229.02,536.57 L229.33,537.20 L229.64,537.82 L229.96,538.43 L230.28,539.05 L230.61,539.66 L230.94,540.27 L231.28,540.87 L231.62,541.48 L231.97,542.07 L232.33,542.67 L232.69,543.26 L233.05,543.85 L233.42,544.44 L233.79,545.02 L234.17,545.60 L234.55,546.18 L234.94,546.75 L235.33,547.32 L235.73,547.89 L236.13,548.45 L236.54,549.02 L236.95,549.57 L237.36,550.13 L237.78,550.68 L238.20,551.23 L238.63,551.78 L239.06,552.33 L239.49,552.87 L239.93,553.40 L240.37,553.94 L240.82,554.47 L241.27,555.00 L241.72,555.53 L242.17,556.05 L242.63,556.58 L243.10,557.10 L243.57,557.61 L244.04,558.12 L244.51,558.64 L244.99,559.14 L245.47,559.65 L245.95,560.15 L246.43,560.65 L246.92,561.15 L247.41,561.64 L247.91,562.13 L248.41,562.62 L248.91,563.11 L249.41,563.59 L249.92,564.08 L250.42,564.56 L250.93,565.03 L251.45,565.51 L251.96,565.98 L252.48,566.45 L253.00,566.91 L253.52,567.38 L254.04,567.84 L254.57,568.30 L255.10,568.76 L255.63,569.21 L256.16,569.66 L256.69,570.11 L257.23,570.56 L257.76,571.01 L258.30,571.45 L258.84,571.89 L259.38,572.33 L259.93,572.76 L260.47,573.20 L261.02,573.63 L261.56,574.06 L262.11,574.49 L262.66,574.91 L263.21,575.33 L263.77,575.75 L264.32,576.17 L264.88,576.59 L265.43,577.00 L265.99,577.41 L266.55,577.82 L267.11,578.23 L267.67,578.64 L268.24,579.04 L268.80,579.44 L269.37,579.84 L269.94,580.24 L270.51,580.63 L271.08,581.03 L271.65,581.42 L272.22,581.81 L272.79,582.19 L273.37,582.58 L273.95,582.96 L274.52,583.34 L275.10,583.72 L275.68,584.10 L276.26,584.47 L276.84,584.85 L277.43,585.22 L278.01,585.59 L278.60,585.96 L279.19,586.32 L279.77,586.69 L280.36,587.05 L280.95,587.41 L281.54,587.77 L282.14,588.13 L282.73,588.48 L283.32,588.83 L283.92,589.18 L284.52,589.53 L285.11,589.88 L285.71,590.23 L286.31,590.57 L286.91,590.92 L287.51,591.26 L288.12,591.60 L288.72,591.93 L289.32,592.27 L289.93,592.60 L290.54,592.94 L291.14,593.27 L291.75,593.60 L292.36,593.93 L292.97,594.25 L293.58,594.58 L294.19,594.90 L294.81,595.22 L295.42,595.54 L296.03,595.86 L296.65,596.18 L297.26,596.49 L297.88,596.81 L298.50,597.12 L299.12,597.43 L299.74,597.74 L300.36,598.05 L300.98,598.35 L301.60,598.66 L302.22,598.96 L302.84,599.27 L303.47,599.57 L304.09,599.87 L304.72,600.17 L305.34,600.46 L305.97,600.76 L306.59,601.05 L307.22,601.35 L307.85,601.64 L308.48,601.93 L309.11,602.22 L309.74,602.50 L310.37,602.79 L311.00,603.08 L311.63,603.36 L312.27,603.64 L312.90,603.93 L313.53,604.21 L314.17,604.49 L314.80,604.76 L315.44,605.04 L316.07,605.32 L316.71,605.59 L317.35,605.86 L317.98,606.14 L318.62,606.41 L319.26,606.68 L319.90,606.95 L320.54,607.22 L321.18,607.48 L321.82,607.75 L322.46,608.01 L323.10,608.28 L323.74,608.54 L324.38,608.80 L325.02,609.06 L325.67,609.32 L326.31,609.58 L326.95,609.84 L327.60,610.09 L328.24,610.35 L328.89,610.60 L329.53,610.86 L330.18,611.11 L330.82,611.36 L331.47,611.61 L332.12,611.86 L332.76,612.10 L333.41,612.35 L334.06,612.60 L334.71,612.84 L335.36,613.08 L336.01,613.33 L336.66,613.57 L337.31,613.81 L337.96,614.04 L338.61,614.28 L339.26,614.52 L339.91,614.75 L340.56,614.99 L341.22,615.22 L341.87,615.45 L342.52,615.68 L343.18,615.91 L343.83,616.14 L344.49,616.37 L345.14,616.59 L345.80,616.82 L346.45,617.04 L347.11,617.27 L347.77,617.49 L348.42,617.71 L349.08,617.93 L349.74,618.15 L350.40,618.36 L351.05,618.58 L351.71,618.79 L352.37,619.01 L353.03,619.22 L353.69,619.43 L354.35,619.64 L355.01,619.85 L355.68,620.06 L356.34,620.26 L357.00,620.47 L357.66,620.67 L358.33,620.87 L358.99,621.08 L359.65,621.28 L360.32,621.48 L360.98,621.67 L361.64,621.87 L362.31,622.07 L362.98,622.26 L363.64,622.45 L364.31,622.65 L364.97,622.84 L365.64,623.03 L366.31,623.22 L366.98,623.40 L367.64,623.59 L368.31,623.77 L368.98,623.96 L369.65,624.14 L370.32,624.32 L370.99,624.50 L371.66,624.68 L372.33,624.86 L373.00,625.03 L373.67,625.21 L374.34,625.38 L375.01,625.55 L375.69,625.73 L376.36,625.90 L377.03,626.07 L377.70,626.23 L378.38,626.40 L379.05,626.56 L379.73,626.73 L380.40,626.89 L381.07,627.05 L381.75,627.21 L382.42,627.37 L383.10,627.53 L383.78,627.68 L384.45,627.84 L385.13,627.99 L385.81,628.15 L386.48,628.30 L387.16,628.45 L387.84,628.60 L388.52,628.74 L389.20,628.89 L389.87,629.03 L390.55,629.18 L391.23,629.32 L391.91,629.46 L392.59,629.60 L393.27,629.74 L393.95,629.87 L394.63,630.01 L395.31,630.14 L395.99,630.28 L396.68,630.41 L397.36,630.54 L398.04,630.67 L398.72,630.79 L399.40,630.92 L400.09,631.04 L400.77,631.17 L401.45,631.29 L402.14,631.41 L402.82,631.53 L403.50,631.65 L404.19,631.76 L404.87,631.88 L405.56,631.99 L406.24,632.11 L406.93,632.22 L407.61,632.33 L408.30,632.43 L408.98,632.54 L409.67,632.65 L410.35,632.75 L411.04,632.85 L411.73,632.95 L412.41,633.05 L413.10,633.15 L413.79,633.25 L414.47,633.35 L415.16,633.44 L415.85,633.53 L416.53,633.62 L417.22,633.71 L417.91,633.80 L418.60,633.89 L419.29,633.97 L419.98,634.06 L420.66,634.14 L421.35,634.22 L422.04,634.30 L422.73,634.38 L423.42,634.46 L424.11,634.53 L424.80,634.61 L425.49,634.68 L426.18,634.75 L426.87,634.82 L427.56,634.89 L428.25,634.95 L428.94,635.02 L429.63,635.08 L430.32,635.14 L431.01,635.20 L431.70,635.26 L432.39,635.32 L433.08,635.38 L433.77,635.43 L434.46,635.48 L435.15,635.53 L435.85,635.58 L436.54,635.63 L437.23,635.68 L437.92,635.72 L438.61,635.77 L439.30,635.81 L439.99,635.85 L440.69,635.89 L441.38,635.93 L442.07,635.96 L442.76,636.00 L443.45,636.03 L444.15,636.06 L444.84,636.09 L445.53,636.12 L446.22,636.15 L446.92,636.17 L447.61,636.19 L448.30,636.22 L448.99,636.24 L449.69,636.25 L450.38,636.27 L451.07,636.29 L451.76,636.30 L452.46,636.31 L453.15,636.32 L453.84,636.33 L454.53,636.34 L455.23,636.35 L455.92,636.35 L456.61,636.35 L457.30,636.35 L458.00,636.35 L458.69,636.35 L459.38,636.35 L460.07,636.34 L460.77,636.33 L461.46,636.32 L462.15,636.31 L462.85,636.30 L463.54,636.29 L464.23,636.27 L464.92,636.25 L465.62,636.24 L466.31,636.21 L467.00,636.19 L467.69,636.17 L468.38,636.14 L469.08,636.12 L469.77,636.09 L470.46,636.06 L471.15,636.02 L471.85,635.99 L472.54,635.95 L473.23,635.92 L473.92,635.88 L474.61,635.84 L475.31,635.79 L476.00,635.75 L476.69,635.70 L477.38,635.66 L478.07,635.61 L478.76,635.56 L479.45,635.50 L480.14,635.45 L480.83,635.39 L481.53,635.34 L482.22,635.28 L482.91,635.21 L483.60,635.15 L484.29,635.09 L484.98,635.02 L485.67,634.95 L486.36,634.88 L487.04,634.81 L487.73,634.74 L488.42,634.66 L489.11,634.59 L489.80,634.51 L490.49,634.43 L491.18,634.35 L491.87,634.26 L492.55,634.18 L493.24,634.09 L493.93,634.00 L494.62,633.91 L495.30,633.82 L495.99,633.73 L496.68,633.63 L497.36,633.53 L498.05,633.44 L498.73,633.34 L499.42,633.23 L500.10,633.13 L500.79,633.02 L501.47,632.92 L502.16,632.81 L502.84,632.69 L503.52,632.58 L504.21,632.47 L504.89,632.35 L505.57,632.23 L506.26,632.11 L506.94,631.99 L507.62,631.87 L508.30,631.74 L508.98,631.62 L509.66,631.49 L510.34,631.36 L511.03,631.23 L511.70,631.09 L512.38,630.96 L513.06,630.82 L513.74,630.68 L514.42,630.54 L515.10,630.40 L515.78,630.25 L516.45,630.11 L517.13,629.96 L517.81,629.81 L518.48,629.66 L519.16,629.51 L519.83,629.35 L520.51,629.19 L521.18,629.04 L521.86,628.88 L522.53,628.71 L523.20,628.55 L523.88,628.39 L524.55,628.22 L525.22,628.05 L525.89,627.88 L526.56,627.71 L527.23,627.53 L527.90,627.36 L528.57,627.18 L529.24,627.00 L529.91,626.82 L530.58,626.63 L531.24,626.45 L531.91,626.26 L532.58,626.07 L533.24,625.88 L533.91,625.69 L534.57,625.50 L535.24,625.30 L535.90,625.11 L536.57,624.91 L537.23,624.71 L537.89,624.50 L538.55,624.30 L539.21,624.09 L539.87,623.88 L540.53,623.67 L541.19,623.46 L541.85,623.25 L542.51,623.03 L543.17,622.82 L543.83,622.60 L544.48,622.38 L545.14,622.15 L545.79,621.93 L546.45,621.70 L547.10,621.48 L547.76,621.25 L548.41,621.01 L549.06,620.78 L549.71,620.54 L550.36,620.30 L551.01,620.06 L551.66,619.81 L552.30,619.56 L552.94,619.31 L553.59,619.05 L554.23,618.79 L554.87,618.53 L555.50,618.26 L556.14,617.99 L556.77,617.71 L557.40,617.43 L558.03,617.15 L558.66,616.86 L559.28,616.56 L559.91,616.26 L560.53,615.95 L561.14,615.64 L561.76,615.33 L562.37,615.00 L562.98,614.68 L563.59,614.35 L564.19,614.01 L564.79,613.67 L565.39,613.32 L565.99,612.97 L566.59,612.62 L567.18,612.26 L567.77,611.90 L568.36,611.53 L568.95,611.16 L569.54,610.79 L570.12,610.41 L570.71,610.03 L571.29,609.64 L571.86,609.25 L572.44,608.86 L573.02,608.47 L573.59,608.07 L574.16,607.66 L574.73,607.26 L575.30,606.85 L575.86,606.44 L576.43,606.02 L576.99,605.60 L577.54,605.18 L578.10,604.75 L578.65,604.32 L579.20,603.89 L579.74,603.45 L580.28,603.00 L580.81,602.56 L581.35,602.10 L581.87,601.65 L582.39,601.19 L582.91,600.72 L583.42,600.25 L583.93,599.77 L584.43,599.29 L584.93,598.81 L585.42,598.31 L585.90,597.82 L586.38,597.32 L586.85,596.81 L587.31,596.30 L587.77,595.78 L588.22,595.25 L588.66,594.72 L589.10,594.19 L589.53,593.65 L589.96,593.10 L590.37,592.55 L590.78,592.00 L591.19,591.44 L591.59,590.87 L591.98,590.30 L592.36,589.73 L592.74,589.15 L593.11,588.57 L593.47,587.98 L593.83,587.39 L594.19,586.79 L594.53,586.19 L594.87,585.59 L595.20,584.98 L595.53,584.37 L595.85,583.76 L596.16,583.14 L596.47,582.52 L596.77,581.89 L597.07,581.27 L597.35,580.63 L597.64,580.00 L597.91,579.36 L598.18,578.72 L598.45,578.08 L598.70,577.43 L598.95,576.79 L599.20,576.14 L599.44,575.48 L599.67,574.83 L599.90,574.17 L600.12,573.51 L600.34,572.85 L600.54,572.19 L600.75,571.52 L600.94,570.85 L601.13,570.19 L601.32,569.52 L601.50,568.84 L601.67,568.17 L601.84,567.50 L602.00,566.82 L602.16,566.14 L602.31,565.47 L602.45,564.79 L602.59,564.11 L602.72,563.43 L602.85,562.75 L602.97,562.07 L603.09,561.39 L603.20,560.70 L603.30,560.02 L603.40,559.33 L603.49,558.65 L603.58,557.96 L603.67,557.28 L603.74,556.59 L603.82,555.90 L603.88,555.21 L603.95,554.53 L604.00,553.84 L604.05,553.15 L604.10,552.46 L604.14,551.77 L604.18,551.08 L604.21,550.39 L604.24,549.69 L604.26,549.00 L604.28,548.31 L604.29,547.62 L604.30,546.93 L604.30,546.23 L604.30,545.54 L604.29,544.85 L604.28,544.15 L604.26,543.46 L604.24,542.77 L604.22,542.07 L604.19,541.38 L604.15,540.68 L604.12,539.99 L604.07,539.30 L604.03,538.60 L603.98,537.91 L603.92,537.22 L603.86,536.52 L603.80,535.83 L603.73,535.14 L603.66,534.44 L603.58,533.75 L603.50,533.06 L603.42,532.37 L603.33,531.67 L603.24,530.98 L603.15,530.29 L603.05,529.60 L602.95,528.91 L602.84,528.22 L602.73,527.53 L602.62,526.84 L602.50,526.15 L602.38,525.46 L602.25,524.77 L602.13,524.08 L601.99,523.40 L601.86,522.71 L601.72,522.03 L601.58,521.34 L601.44,520.66 L601.29,519.97 L601.14,519.29 L600.98,518.61 L600.83,517.93 L600.67,517.24 L600.50,516.56 L600.34,515.89 L600.17,515.21 L600.00,514.53 L599.82,513.85 L599.64,513.18 L599.46,512.50 L599.28,511.83 L599.09,511.16 L598.90,510.48 L598.71,509.81 L598.52,509.14 L598.32,508.48 L598.12,507.81 L597.92,507.14 L597.71,506.48 L597.50,505.81 L597.29,505.15 L597.08,504.49 L596.86,503.83 L596.64,503.17 L596.42,502.51 L596.19,501.86 L595.96,501.20 L595.73,500.55 L595.49,499.89 L595.25,499.24 L595.01,498.59 L594.77,497.95 L594.52,497.30 L594.27,496.66 L594.01,496.01 L593.75,495.37 L593.49,494.73 L593.23,494.09 L592.96,493.46 L592.69,492.82 L592.41,492.19 L592.14,491.56 L591.85,490.93 L591.57,490.30 L591.28,489.67 L590.99,489.05 L590.70,488.42 L590.40,487.80 L590.10,487.18 L589.79,486.57 L589.49,485.95 L589.18,485.33 L588.86,484.72 L588.55,484.11 L588.23,483.50 L587.90,482.89 L587.58,482.29 L587.25,481.68 L586.92,481.08 L586.58,480.47 L586.25,479.87 L585.91,479.27 L585.57,478.68 L585.22,478.08 L584.87,477.49 L584.52,476.89 L584.17,476.30 L583.81,475.71 L583.46,475.12 L583.10,474.53 L582.73,473.95 L582.37,473.36 L582.00,472.78 L581.63,472.20 L581.26,471.61 L580.88,471.03 L580.50,470.46 L580.12,469.88 L579.74,469.30 L579.36,468.73 L578.97,468.16 L578.58,467.58 L578.19,467.01 L577.80,466.44 L577.41,465.87 L577.01,465.31 L576.61,464.74 L576.21,464.18 L575.81,463.61 L575.40,463.05 L575.00,462.49 L574.59,461.93 L574.18,461.37 L573.77,460.81 L573.36,460.25 L572.94,459.69 L572.53,459.14 L572.11,458.58 L571.69,458.03 L571.27,457.48 L570.84,456.93 L570.42,456.38 L569.99,455.83 L569.57,455.28 L569.14,454.73 L568.71,454.18 L568.28,453.64 L567.85,453.09 L567.41,452.55 L566.98,452.00 L566.54,451.46 L566.10,450.92 L565.67,450.38 L565.23,449.84 L564.78,449.30 L564.34,448.76 L563.90,448.23 L563.45,447.69 L563.01,447.16 L562.56,446.62 L562.11,446.09 L561.66,445.56 L561.21,445.03 L560.75,444.50 L560.30,443.97 L559.84,443.45 L559.38,442.92 L558.93,442.39 L558.47,441.87 L558.01,441.35 L557.54,440.83 L557.08,440.31 L556.61,439.79 L556.15,439.27 L555.68,438.76 L555.21,438.24 L554.74,437.73 L554.27,437.22 L553.79,436.71 L553.32,436.20 L552.84,435.69 L552.37,435.19 L551.89,434.68 L551.41,434.18 L550.92,433.68 L550.44,433.18 L549.96,432.68 L549.47,432.18 L548.98,431.69 L548.49,431.19 L548.00,430.70 L547.51,430.21 L547.02,429.72 L546.53,429.23 L546.03,428.75 L545.53,428.26 L545.03,427.78 L544.53,427.30 L544.03,426.82 L543.53,426.34 L543.03,425.86 L542.52,425.39 L542.01,424.92 L541.51,424.45 L541.00,423.98 L540.48,423.51 L539.97,423.05 L539.46,422.58 L538.94,422.12 L538.42,421.66 L537.91,421.21 L537.38,420.75 L536.86,420.30 L536.34,419.84 L535.82,419.39 L535.29,418.95 L534.76,418.50 L534.23,418.06 L533.70,417.62 L533.17,417.18 L532.64,416.74 L532.10,416.30 L531.57,415.87 L531.03,415.44 L530.49,415.01 L529.95,414.58 L529.41,414.16 L528.86,413.73 L528.32,413.31 L527.77,412.89 L527.22,412.48 L526.67,412.06 L526.12,411.65 L525.57,411.24 L525.01,410.84 L524.46,410.43 L523.90,410.03 L523.34,409.63 L522.78,409.23 L522.22,408.84 L521.65,408.44 L521.09,408.05 L520.52,407.67 L519.95,407.28 L519.38,406.90 L518.81,406.52 L518.24,406.14 L517.66,405.76 L517.09,405.39 L516.51,405.02 L515.93,404.65 L515.35,404.28 L514.77,403.92 L514.18,403.55 L513.60,403.19 L513.01,402.83 L512.43,402.47 L511.84,402.12 L511.25,401.76 L510.66,401.41 L510.07,401.05 L509.48,400.70 L508.88,400.35 L508.29,399.99 L507.70,399.64 L507.10,399.29 L506.50,398.94 L505.91,398.59 L505.31,398.24 L504.71,397.89 L504.11,397.54 L503.51,397.19 L502.91,396.84 L502.31,396.48 L501.71,396.13 L501.11,395.78 L500.50,395.42 L499.90,395.07 L499.30,394.71 L498.70,394.35 L498.09,393.99 L497.49,393.63 L496.88,393.27 L496.28,392.91 L495.68,392.54 L495.07,392.17 L494.47,391.80 L493.87,391.43 L493.26,391.05 L492.66,390.68 L492.06,390.30 L491.45,389.92 L490.85,389.53 L490.25,389.14 L489.65,388.75 L489.04,388.36 L488.44,387.97 L487.84,387.57 L487.24,387.17 L486.64,386.77 L486.04,386.36 L485.44,385.95 L484.83,385.55 L484.23,385.14 L483.63,384.72 L483.03,384.31 L482.43,383.89 L481.83,383.48 L481.24,383.06 L480.64,382.64 L480.04,382.22 L479.44,381.79 L478.84,381.37 L478.24,380.94 L477.64,380.52 L477.04,380.09 L476.44,379.66 L475.85,379.23 L475.25,378.80 L474.65,378.37 L474.05,377.94 L473.45,377.51 L472.86,377.08 L472.26,376.64 L471.66,376.21 L471.06,375.78 L470.46,375.34 L469.87,374.91 L469.27,374.48 L468.67,374.04 L468.07,373.61 L467.48,373.18 L466.88,372.75 L466.28,372.32 L465.68,371.88 L465.08,371.45 L464.49,371.02 L463.89,370.59 L463.29,370.17 L462.69,369.74 L462.10,369.31 L461.50,368.89 L460.90,368.46 L460.30,368.04 L459.70,367.62 L459.10,367.20 L458.51,366.78 L457.91,366.36 L457.31,365.94 L456.71,365.53 L456.11,365.12 L455.51,364.71 L454.91,364.30 L454.31,363.89 L453.71,363.49 L453.12,363.08 L452.52,362.68 L451.92,362.29 L451.32,361.89 L450.72,361.50 L450.11,361.11 L449.51,360.72 L448.91,360.33 L448.31,359.95 L447.71,359.57 L447.11,359.20 L446.51,358.82 L445.91,358.45 L445.30,358.08 L444.70,357.72 L444.10,357.36 L443.50,357.00 L442.89,356.65 L442.29,356.30 L441.68,355.95 L441.08,355.61 L440.48,355.27 L439.87,354.94 L439.27,354.60 L438.66,354.28 L438.06,353.95 L437.45,353.64 L436.84,353.32 L436.24,353.01 L435.63,352.71 L435.02,352.40 L434.42,352.11 L433.81,351.82 L433.20,351.53 L432.59,351.25 L431.98,350.97 L431.37,350.70 L430.76,350.43 L430.15,350.17 L429.54,349.91 L428.93,349.66 L428.32,349.41 L427.70,349.17 L427.09,348.94 L426.48,348.71 L425.87,348.48 L425.25,348.26 L424.64,348.05 L424.02,347.85 L423.41,347.64 L422.79,347.45 L422.17,347.26 L421.56,347.08 L420.94,346.90 L420.32,346.74 L419.70,346.57 L419.09,346.42 L418.47,346.27 L417.85,346.12 L417.23,345.99 L416.60,345.86 L415.98,345.74 L415.36,345.62 L414.74,345.51 L414.11,345.41 L413.49,345.32 L412.87,345.23 L412.24,345.15 L411.62,345.08 Z" fill="#fff"/>
<path clip-path="url(#bc)" d="M226.30,487.07 L226.39,486.70 L226.49,486.33 L226.59,485.96 L226.69,485.59 L226.80,485.22 L226.91,484.85 L227.02,484.48 L227.14,484.12 L227.26,483.75 L227.38,483.39 L227.51,483.02 L227.63,482.66 L227.77,482.29 L227.90,481.93 L228.04,481.57 L228.18,481.21 L228.32,480.85 L228.47,480.49 L228.62,480.13 L228.77,479.77 L228.93,479.42 L229.09,479.06 L229.25,478.70 L229.41,478.35 L229.58,478.00 L229.75,477.64 L229.93,477.29 L230.11,476.94 L230.29,476.59 L230.47,476.24 L230.66,475.89 L230.85,475.55 L231.04,475.20 L231.23,474.85 L231.43,474.51 L231.64,474.16 L231.84,473.82 L232.05,473.48 L232.26,473.14 L232.47,472.80 L232.69,472.46 L232.91,472.12 L233.13,471.78 L233.36,471.45 L233.59,471.11 L233.82,470.78 L234.05,470.44 L234.29,470.11 L234.53,469.78 L234.77,469.45 L235.02,469.12 L235.27,468.79 L235.52,468.46 L235.78,468.13 L236.04,467.81 L236.30,467.48 L236.56,467.16 L236.83,466.84 L237.10,466.51 L237.37,466.19 L237.65,465.87 L237.93,465.56 L238.21,465.24 L238.50,464.92 L238.78,464.61 L239.07,464.29 L239.37,463.98 L239.66,463.67 L239.96,463.35 L240.27,463.04 L240.57,462.73 L240.88,462.43 L241.19,462.12 L241.50,461.81 L241.82,461.51 L242.14,461.21 L242.46,460.90 L242.79,460.60 L243.12,460.30 L243.45,460.00 L243.78,459.70 L244.12,459.41 L244.46,459.11 L244.80,458.82 L245.14,458.52 L245.49,458.23 L245.84,457.94 L246.19,457.65 L246.55,457.36 L246.91,457.07 L247.27,456.79 L247.64,456.50 L248.00,456.22 L248.37,455.94 L248.75,455.65 L249.12,455.37 L249.50,455.09 L249.88,454.82 L250.26,454.54 L250.65,454.26 L251.04,453.99 L251.43,453.72 L251.83,453.44 L252.22,453.17 L252.62,452.90 L253.03,452.64 L253.43,452.37 L253.84,452.10 L254.25,451.84 L254.66,451.58 L255.08,451.31 L255.50,451.05 L255.92,450.79 L256.34,450.54 L256.77,450.28 L257.20,450.02 L257.63,449.77 L258.06,449.52 L258.50,449.27 L258.94,449.02 L259.38,448.77 L259.83,448.52 L260.27,448.27 L260.72,448.03 L261.18,447.78 L261.63,447.54 L262.09,447.30 L262.55,447.06 L263.01,446.82 L263.48,446.59 L263.94,446.35 L264.41,446.12 L264.89,445.88 L265.36,445.65 L265.84,445.42 L266.32,445.19 L266.80,444.97 L267.29,444.74 L267.77,444.51 L268.26,444.29 L268.76,444.07 L269.25,443.85 L269.75,443.63 L270.25,443.41 L270.75,443.20 L271.25,442.98 L271.76,442.77 L272.27,442.55 L272.78,442.34 L273.29,442.13 L273.81,441.93 L274.33,441.72 L274.85,441.52 L275.37,441.31 L275.90,441.11 L276.42,440.91 L276.95,440.71 L277.49,440.51 L278.02,440.32 L278.56,440.12 L279.10,439.93 L279.64,439.73 L280.18,439.54 L280.73,439.35 L281.28,439.17 L281.83,438.98 L282.38,438.80 L282.93,438.61 L283.49,438.43 L284.05,438.25 L284.61,438.07 L285.17,437.89 L285.74,437.72 L286.31,437.54 L286.88,437.37 L287.45,437.20 L288.02,437.03 L288.60,436.86 L289.18,436.70 L289.76,436.53 L290.34,436.37 L290.93,436.20 L291.51,436.04 L292.10,435.88 L292.69,435.73 L293.29,435.57 L293.88,435.42 L294.48,435.26 L295.08,435.11 L295.68,434.96 L296.28,434.81 L296.88,434.66 L297.49,434.52 L298.10,434.38 L298.71,434.23 L299.32,434.09 L299.94,433.95 L300.56,433.81 L301.17,433.68 L301.79,433.54 L302.42,433.41 L303.04,433.28 L303.67,433.15 L304.29,433.02 L304.92,432.89 L305.56,432.77 L306.19,432.65 L306.82,432.52 L307.46,432.40 L308.10,432.28 L308.74,432.17 L309.38,432.05 L310.03,431.94 L310.67,431.82 L311.32,431.71 L311.97,431.60 L312.62,431.49 L313.28,431.39 L313.93,431.28 L314.59,431.18 L315.24,431.08 L315.90,430.98 L316.57,430.88 L317.23,430.78 L317.89,430.69 L318.56,430.60 L319.23,430.50 L319.90,430.41 L320.57,430.32 L321.24,430.24 L321.92,430.15 L322.59,430.07 L323.27,429.99 L323.95,429.91 L324.63,429.83 L325.31,429.75 L325.99,429.67 L326.68,429.60 L327.37,429.53 L328.05,429.46 L328.74,429.39 L329.43,429.32 L330.13,429.25 L330.82,429.19 L331.52,429.13 L332.21,429.06 L332.91,429.00 L333.61,428.95 L334.31,428.89 L335.01,428.84 L335.72,428.78 L336.42,428.73 L337.13,428.68 L337.84,428.63 L338.55,428.59 L339.26,428.54 L339.97,428.50 L340.68,428.46 L341.39,428.42 L342.11,428.38 L342.83,428.34 L343.54,428.31 L344.26,428.27 L344.98,428.24 L345.70,428.21 L346.43,428.18 L347.15,428.16 L347.88,428.13 L348.60,428.11 L349.33,428.09 L350.06,428.07 L350.79,428.05 L351.52,428.03 L352.25,428.02 L352.98,428.00 L353.72,427.99 L354.45,427.98 L355.19,427.97 L355.93,427.97 L356.66,427.96 L357.40,427.96 L358.14,427.95 L358.88,427.95 L359.63,427.96 L360.37,427.96 L361.11,427.96 L361.86,427.97 L362.60,427.98 L363.35,427.99 L364.10,428.00 L364.85,428.01 L365.60,428.02 L366.35,428.04 L367.10,428.06 L367.85,428.08 L368.60,428.10 L369.36,428.12 L370.11,428.15 L370.87,428.17 L371.62,428.20 L372.38,428.23 L373.14,428.26 L373.89,428.29 L374.65,428.33 L375.41,428.36 L376.17,428.40 L376.93,428.44 L377.70,428.48 L378.46,428.52 L379.22,428.57 L379.99,428.61 L380.75,428.66 L381.52,428.71 L382.28,428.76 L383.05,428.81 L383.81,428.86 L384.58,428.92 L385.35,428.98 L386.12,429.04 L386.89,429.10 L387.66,429.16 L388.43,429.22 L389.20,429.29 L389.97,429.35 L390.74,429.42 L391.51,429.49 L392.29,429.56 L393.06,429.64 L393.83,429.71 L394.61,429.79 L395.38,429.87 L396.16,429.95 L396.93,430.03 L397.71,430.11 L398.48,430.20 L399.26,430.28 L400.03,430.37 L400.81,430.46 L401.59,430.55 L402.37,430.64 L403.14,430.74 L403.92,430.83 L404.70,430.93 L405.48,431.03 L406.26,431.13 L407.03,431.23 L407.81,431.34 L408.59,431.44 L409.37,431.55 L410.15,431.66 L410.93,431.77 L411.71,431.88 L412.49,431.99 L413.27,432.11 L414.05,432.23 L414.83,432.34 L415.61,432.46 L416.39,432.59 L417.17,432.71 L417.95,432.83 L418.73,432.96 L419.51,433.09 L420.30,433.22 L421.08,433.35 L421.86,433.48 L422.64,433.61 L423.42,433.75 L424.20,433.89 L424.98,434.02 L425.76,434.16 L426.54,434.31 L427.32,434.45 L428.10,434.59 L428.88,434.74 L429.66,434.89 L430.44,435.04 L431.22,435.19 L431.99,435.34 L432.77,435.49 L433.55,435.65 L434.33,435.81 L435.11,435.97 L435.89,436.13 L436.66,436.29 L437.44,436.45 L438.22,436.62 L439.00,436.78 L439.77,436.95 L440.55,437.12 L441.32,437.29 L442.10,437.46 L442.88,437.63 L443.65,437.81 L444.42,437.99 L445.20,438.16 L445.97,438.34 L446.75,438.52 L447.52,438.71 L448.29,438.89 L449.06,439.08 L449.83,439.26 L450.60,439.45 L451.37,439.64 L452.14,439.83 L452.91,440.03 L453.68,440.22 L454.45,440.42 L455.22,440.61 L455.99,440.81 L456.75,441.01 L457.52,441.21 L458.28,441.42 L459.05,441.62 L459.81,441.83 L460.58,442.03 L461.34,442.24 L462.10,442.45 L462.86,442.66 L463.62,442.88 L464.38,443.09 L465.14,443.31 L465.90,443.52 L466.66,443.74 L467.42,443.96 L468.17,444.18 L468.93,444.41 L469.68,444.63 L470.44,444.86 L471.19,445.08 L471.94,445.31 L472.69,445.54 L473.44,445.77 L474.19,446.00 L474.94,446.24 L475.69,446.47 L476.44,446.71 L477.18,446.95 L477.93,447.18 L478.67,447.42 L479.42,447.67 L480.16,447.91 L480.90,448.15 L481.64,448.40 L482.38,448.65 L483.12,448.89 L483.86,449.14 L484.59,449.40 L485.33,449.65 L486.06,449.90 L486.80,450.16 L487.53,450.41 L488.26,450.67 L488.99,450.93 L489.72,451.19 L490.45,451.45 L491.17,451.71 L491.90,451.98 L492.62,452.24 L493.34,452.51 L494.07,452.77 L494.79,453.04 L495.51,453.31 L496.22,453.58 L496.94,453.86 L497.66,454.13 L498.37,454.41 L499.09,454.68 L499.80,454.96 L500.51,455.24 L501.22,455.52 L501.93,455.80 L502.63,456.08 L503.34,456.36 L504.04,456.65 L504.74,456.93 L505.45,457.22 L506.15,457.51 L506.84,457.80 L507.54,458.09 L508.24,458.38 L508.93,458.67 L509.63,458.97 L510.32,459.26 L511.01,459.56 L511.70,459.86 L512.38,460.16 L513.07,460.46 L513.75,460.76 L514.43,461.06 L515.12,461.36 L515.80,461.67 L516.47,461.97 L517.15,462.28 L517.82,462.58 L518.50,462.89 L519.17,463.20 L519.84,463.51 L520.51,463.83 L521.18,464.14 L521.84,464.45 L522.50,464.77 L523.17,465.08 L523.83,465.40 L524.49,465.72 L525.14,466.04 L525.80,466.36 L526.45,466.68 L527.10,467.00 L527.75,467.33 L528.40,467.65 L529.05,467.97 L529.69,468.30 L530.34,468.63 L530.98,468.96 L531.62,469.29 L532.25,469.62 L532.89,469.95 L533.52,470.28 L534.16,470.61 L534.79,470.95 L535.42,471.28 L536.04,471.62 L536.67,471.96 L537.29,472.29 L537.91,472.63 L538.53,472.97 L539.15,473.31 L539.76,473.66 L540.38,474.00 L540.99,474.34 L541.60,474.69 L542.20,475.03 L542.81,475.38 L543.41,475.72 L544.02,476.07 L544.62,476.42 L545.21,476.77 L545.81,477.12 L546.40,477.47 L546.99,477.83 L547.58,478.18 L548.17,478.53 L548.76,478.89 L549.34,479.24 L549.92,479.60 L550.50,479.96 L551.08,480.32 L551.65,480.67 L552.22,481.03 L552.79,481.39 L553.36,481.76 L553.93,482.12 L554.49,482.48 L555.06,482.84 L555.62,483.21 L556.17,483.57 L556.73,483.94 L557.28,484.31 L557.83,484.67 L558.38,485.04 L558.93,485.41 L559.47,485.78 L560.02,486.15 L560.56,486.52 L561.09,486.89 L561.63,487.27 L562.16,487.64 L562.69,488.01 L563.22,488.39 L563.75,488.76 L564.27,489.14 L564.79,489.52 L565.31,489.89 L565.83,490.27 L566.34,490.65 L566.85,491.03 L567.36,491.41 L567.87,491.79 L568.38,492.17 L568.88,492.55 L569.38,492.93 L569.88,493.32 L570.37,493.70 L570.87,494.08 L571.36,494.47 L571.84,494.85 L572.33,495.24 L572.81,495.63 L573.29,496.01 L573.77,496.40 L574.25,496.79 L574.72,497.18 L575.19,497.57 L575.66,497.95 L576.13,498.35 L576.59,498.74 L577.05,499.13 L577.51,499.52 L577.97,499.91 L578.42,500.30 L578.87,500.70 L579.32,501.09 L579.76,501.48 L580.21,501.88 L580.65,502.27 L581.08,502.67 L581.52,503.07 L581.95,503.46 L582.38,503.86 L582.81,504.26 L583.23,504.65 L583.66,505.05 L584.08,505.45 L584.49,505.85 L584.91,506.25 L585.32,506.65 L585.73,507.05 L586.13,507.45 L586.54,507.85 L586.94,508.25 L587.34,508.65 L587.73,509.05 L588.12,509.46 L588.51,509.86 L588.90,510.26 L589.29,510.66 L589.67,511.07 L590.05,511.47 L590.42,511.88 L590.80,512.28 L591.17,512.69 L591.54,513.09 L591.90,513.50 L592.26,513.90 L592.62,514.31 L592.98,514.71 L593.34,515.12 L593.69,515.53 L594.04,515.93 L594.38,516.34 L594.73,516.75 L595.07,517.15 L595.40,517.56 L595.74,517.97 L596.07,518.38 L596.40,518.79 L596.73,519.20 L597.05,519.60 L597.37,520.01 L597.69,520.42 L598.00,520.83 L598.31,521.24 L598.62,521.65 L598.93,522.06 L599.23,522.47 L599.53,522.88 L599.83,523.29 L600.12,523.70 L600.42,524.11 L600.70,524.52 L600.99,524.93 L601.27,525.34 L601.55,525.75 L601.83,526.16 L602.10,526.57 L602.38,526.99 L602.64,527.40 L602.91,527.81 L603.17,528.22 L603.43,528.63 L603.69,529.04 L603.94,529.45 L604.19,529.86 L604.44,530.27 L604.68,530.69 L604.93,531.10 L605.17,531.51 L605.40,531.92 L605.63,532.33 L605.86,532.74 L606.09,533.15 L606.31,533.56 L606.54,533.97 L606.75,534.38 L606.97,534.80 L607.18,535.21 L607.39,535.62 L607.59,536.03 L607.80,536.44 L608.00,536.85 L608.19,537.26 L608.39,537.67 L608.58,538.08 L608.77,538.49 L608.95,538.90 L609.13,539.31 L609.31,539.72 L609.49,540.13 L609.66,540.54 L609.83,540.95 L609.99,541.36 L610.16,541.76 L610.32,542.17 L610.47,542.58 L610.63,542.99 L610.78,543.40 L610.93,543.81 L611.07,544.21 L611.21,544.62 L611.35,545.03 L611.49,545.43 L611.62,545.84 L611.75,546.25 L611.88,546.65 L612.00,547.06 L612.12,547.46 L612.24,547.87 L612.35,548.28 L612.46,548.68 L612.57,549.08 L612.67,549.49 L612.77,549.89 L612.87,550.30 L612.97,550.70 L613.06,551.10 L613.15,551.51 L613.24,551.91 L613.32,552.31 L613.40,552.71 L613.48,553.11 L613.55,553.51 L613.62,553.91 L613.69,554.31 L613.75,554.71 L613.81,555.11 L613.87,555.51 L613.93,555.91 L613.98,556.31 L614.03,556.71 L614.07,557.10 L614.11,557.50 L614.15,557.90 L614.19,558.29 L614.22,558.69 L614.25,559.08 L614.28,559.48 L614.30,559.87 L614.32,560.27 L614.34,560.66 L614.35,561.05 L614.37,561.45 L614.37,561.84 L614.38,562.23 L614.38,562.62 L614.38,563.01 L614.37,563.40 L614.37,563.79 L614.36,564.18 L614.34,564.57 L614.32,564.95 L614.30,565.34 L614.28,565.73 L614.25,566.11 L614.23,566.50 L614.19,566.88 L614.16,567.27 L614.12,567.65 L614.08,568.03 L614.03,568.42 L613.98,568.80 L613.93,569.18 L613.88,569.56 L613.82,569.94 L613.76,570.32 L613.69,570.70 L613.63,571.07 L613.56,571.45 L613.48,571.83 L613.41,572.20 L613.33,572.58 L613.25,572.95 L613.16,573.33 L613.07,573.70 L612.98,574.07 L612.88,574.45 L612.79,574.82 L612.68,575.19 L612.58,575.56 L612.47,575.93 L612.36,576.30 L612.25,576.66 L612.13,577.03 L612.01,577.40 L611.89,577.76 L611.76,578.13 L611.63,578.49 L611.50,578.85 L611.37,579.22 L611.23,579.58 L611.09,579.94 L610.94,580.30 L610.79,580.66 L610.64,581.02 L610.49,581.37 L610.33,581.73 L610.17,582.09 L610.01,582.44 L609.84,582.79 L609.68,583.15 L609.50,583.50 L609.33,583.85 L609.15,584.20 L608.97,584.55 L608.79,584.90 L608.60,585.25 L608.41,585.60 L608.21,585.94 L608.02,586.29 L607.82,586.63 L607.62,586.98 L607.41,587.32 L607.20,587.66 L606.99,588.00 L606.78,588.34 L606.56,588.68 L606.34,589.02 L606.11,589.36 L605.89,589.69 L605.66,590.03 L605.43,590.36 L605.19,590.70 L604.95,591.03 L604.71,591.36 L604.47,591.69 L604.22,592.02 L603.97,592.35 L603.72,592.68 L603.46,593.01 L603.20,593.33 L602.94,593.66 L602.67,593.98 L602.41,594.30 L602.13,594.62 L601.86,594.94 L601.58,595.26 L601.30,595.58 L601.02,595.90 L600.74,596.22 L600.45,596.53 L600.16,596.84 L599.86,597.16 L599.56,597.47 L599.26,597.78 L598.96,598.09 L598.66,598.40" fill="none" stroke="#bcff2f" stroke-width="4"/>
<g transform="translate(413.3 493.15) rotate(9.5)" fill="#000">
<rect x="-6.3" y="-6.3" width="12.6" height="12.6"/>
<rect x="-18.9" y="-18.9" width="12.6" height="12.6"/>
<rect x="6.3" y="-18.9" width="12.6" height="12.6"/>
<rect x="-18.9" y="6.3" width="12.6" height="12.6"/>
<rect x="6.3" y="6.3" width="12.6" height="12.6"/>
</g>
<g fill="none" stroke="#000" stroke-width="7" stroke-linejoin="miter" stroke-miterlimit="10">
<path d="M194.56,265.16 L195.33,264.68 L196.10,264.21 L196.87,263.73 L197.65,263.26 L198.42,262.79 L199.21,262.33 L199.99,261.86 L200.78,261.40 L201.57,260.93 L202.37,260.47 L203.17,260.01 L203.97,259.55 L204.78,259.10 L205.59,258.65 L206.40,258.19 L207.22,257.74 L208.04,257.29 L208.86,256.85 L209.69,256.40 L210.52,255.96 L211.35,255.52 L212.19,255.08 L213.03,254.64 L213.87,254.21 L214.72,253.77 L215.57,253.34 L216.42,252.91 L217.27,252.48 L218.13,252.06 L218.99,251.63 L219.86,251.21 L220.73,250.79 L221.60,250.37 L222.47,249.95 L223.35,249.54 L224.23,249.13 L225.11,248.71 L226.00,248.31 L226.89,247.90 L227.78,247.49 L228.68,247.09 L229.58,246.69 L230.48,246.29 L231.38,245.89 L232.29,245.50 L233.20,245.11 L234.11,244.71 L235.03,244.33 L235.95,243.94 L236.87,243.55 L237.80,243.17 L238.72,242.79 L239.65,242.41 L240.59,242.03 L241.52,241.66 L242.46,241.29 L243.40,240.92 L244.35,240.55 L245.30,240.18 L246.25,239.82 L247.20,239.45 L248.15,239.09 L249.11,238.74 L250.07,238.38 L251.03,238.03 L252.00,237.67 L252.97,237.33 L253.94,236.98 L254.91,236.63 L255.89,236.29 L256.87,235.95 L257.85,235.61 L258.83,235.27 L259.82,234.94 L260.81,234.61 L261.80,234.28 L262.79,233.95 L263.79,233.62 L264.79,233.30 L265.79,232.98 L266.79,232.66 L267.80,232.34 L268.80,232.03 L269.82,231.71 L270.83,231.40 L271.84,231.09 L272.86,230.79 L273.88,230.49 L274.90,230.18 L275.93,229.88 L276.95,229.59 L277.98,229.29 L279.01,229.00 L280.04,228.71 L281.08,228.42 L282.12,228.14 L283.16,227.85 L284.20,227.57 L285.24,227.29 L286.29,227.02 L287.33,226.74 L288.38,226.47 L289.43,226.20 L290.49,225.94 L291.54,225.67 L292.60,225.41 L293.66,225.15 L294.72,224.89 L295.79,224.63 L296.85,224.38 L297.92,224.13 L298.99,223.88 L300.06,223.64 L301.13,223.39 L302.21,223.15 L303.28,222.91 L304.36,222.67 L305.44,222.44 L306.52,222.21 L307.61,221.98 L308.69,221.75 L309.78,221.53 L310.87,221.30 L311.96,221.08 L313.05,220.87 L314.14,220.65 L315.24,220.44 L316.33,220.23 L317.43,220.02 L318.53,219.81 L319.63,219.61 L320.74,219.41 L321.84,219.21 L322.95,219.02 L324.06,218.82 L325.16,218.63 L326.27,218.44 L327.39,218.26 L328.50,218.07 L329.61,217.89 L330.73,217.71 L331.85,217.54 L332.97,217.36 L334.09,217.19 L335.21,217.02 L336.33,216.85 L337.45,216.69 L338.58,216.53 L339.70,216.37 L340.83,216.21 L341.96,216.06 L343.09,215.91 L344.22,215.76 L345.35,215.61 L346.49,215.47 L347.62,215.32 L348.76,215.19 L349.89,215.05 L351.03,214.91 L352.17,214.78 L353.31,214.65 L354.45,214.53 L355.59,214.40 L356.73,214.28 L357.87,214.16 L359.02,214.04 L360.16,213.93 L361.31,213.82 L362.46,213.71 L363.60,213.60 L364.75,213.50 L365.90,213.39 L367.05,213.30 L368.20,213.20 L369.35,213.10 L370.51,213.01 L371.66,212.92 L372.81,212.84 L373.97,212.75 L375.12,212.67 L376.28,212.59 L377.43,212.51 L378.59,212.44 L379.75,212.37 L380.91,212.30 L382.06,212.23 L383.22,212.17 L384.38,212.11 L385.54,212.05 L386.70,211.99 L387.86,211.94 L389.02,211.89 L390.19,211.84 L391.35,211.79 L392.51,211.75 L393.67,211.71 L394.84,211.67 L396.00,211.63 L397.16,211.60 L398.33,211.57 L399.49,211.54 L400.66,211.52 L401.82,211.49 L402.99,211.47 L404.15,211.45 L405.32,211.44 L406.48,211.43 L407.65,211.42 L408.82,211.41 L409.98,211.40 L411.15,211.40 L412.31,211.40 L413.48,211.40 L414.65,211.41 L415.81,211.41 L416.98,211.42 L418.14,211.44 L419.31,211.45 L420.48,211.47 L421.64,211.49 L422.81,211.51 L423.97,211.54 L425.14,211.56 L426.30,211.60 L427.47,211.63 L428.63,211.66 L429.80,211.70 L430.96,211.74 L432.13,211.79 L433.29,211.83 L434.45,211.88 L435.62,211.93 L436.78,211.98 L437.94,212.04 L439.11,212.10 L440.27,212.16 L441.43,212.22 L442.59,212.29 L443.75,212.36 L444.91,212.43 L446.07,212.50 L447.23,212.58 L448.39,212.66 L449.54,212.74 L450.70,212.82 L451.86,212.91 L453.02,212.99 L454.17,213.09 L455.33,213.18 L456.48,213.28 L457.63,213.38 L458.79,213.48 L459.94,213.58 L461.09,213.69 L462.24,213.80 L463.39,213.91 L464.54,214.02 L465.69,214.14 L466.84,214.26 L467.98,214.38 L469.13,214.50 L470.28,214.63 L471.42,214.76 L472.56,214.89 L473.71,215.02 L474.85,215.16 L475.99,215.30 L477.13,215.44 L478.26,215.58 L479.40,215.73 L480.54,215.88 L481.67,216.03 L482.81,216.18 L483.94,216.34 L485.07,216.50 L486.20,216.66 L487.33,216.82 L488.46,216.99 L489.59,217.16 L490.72,217.33 L491.84,217.50 L492.97,217.68 L494.09,217.86 L495.21,218.04 L496.33,218.22 L497.45,218.41 L498.57,218.59 L499.68,218.79 L500.80,218.98 L501.91,219.17 L503.02,219.37 L504.13,219.57 L505.24,219.78 L506.35,219.98 L507.45,220.19 L508.56,220.40 L509.66,220.61 L510.76,220.82 L511.86,221.04 L512.96,221.26 L514.06,221.48 L515.15,221.71 L516.25,221.93 L517.34,222.16 L518.43,222.40 L519.52,222.63 L520.61,222.87 L521.69,223.10 L522.77,223.35 L523.86,223.59 L524.94,223.83 L526.02,224.08 L527.09,224.33 L528.17,224.59 L529.24,224.84 L530.31,225.10 L531.38,225.36 L532.45,225.62 L533.51,225.88 L534.58,226.15 L535.64,226.42 L536.70,226.69 L537.76,226.97 L538.81,227.24 L539.87,227.52 L540.92,227.80 L541.97,228.08 L543.01,228.37 L544.06,228.66 L545.10,228.94 L546.15,229.24 L547.19,229.53 L548.22,229.83 L549.26,230.13 L550.29,230.43 L551.32,230.73 L552.35,231.04 L553.38,231.34 L554.40,231.65 L555.42,231.97 L556.44,232.28 L557.46,232.60 L558.48,232.92 L559.49,233.24 L560.50,233.56 L561.51,233.88 L562.51,234.21 L563.52,234.54 L564.52,234.87 L565.52,235.21 L566.51,235.54 L567.51,235.88 L568.50,236.22 L569.49,236.57 L570.47,236.91 L571.46,237.26 L572.44,237.61 L573.42,237.96 L574.39,238.31 L575.37,238.67 L576.34,239.03 L577.31,239.38 L578.27,239.75 L579.24,240.11 L580.20,240.48 L581.15,240.84 L582.11,241.22 L583.06,241.59 L584.01,241.96 L584.96,242.34 L585.90,242.72 L586.85,243.10 L587.79,243.48 L588.72,243.86 L589.65,244.25 L590.59,244.64 L591.51,245.03 L592.44,245.42 L593.36,245.82 L594.28,246.21 L595.20,246.61 L596.11,247.01 L597.02,247.42 L597.93,247.82 L598.83,248.23 L599.73,248.64 L600.63,249.05 L601.53,249.46 L602.42,249.87 L603.31,250.29 L604.20,250.71 L605.08,251.13 L605.96,251.55 L606.84,251.97 L607.72,252.40 L608.59,252.83 L609.46,253.26 L610.32,253.69 L611.18,254.12 L612.04,254.56 L612.90,254.99 L613.75,255.43 L614.60,255.87 L615.45,256.32 L616.29,256.76 L617.13,257.21 L617.96,257.66 L618.80,258.11 L619.63,258.56 L620.45,259.01 L621.28,259.47 L622.10,259.92 L622.91,260.38 L623.73,260.84 L624.54,261.31 L625.35,261.77 L626.15,262.24 L626.95,262.70 L627.74,263.17 L628.54,263.64 L629.33,264.12 L630.11,264.59 L630.90,265.07 L631.68,265.55 L632.45,266.02 L633.22,266.51 L633.99,266.99 L634.76,267.47 L635.52,267.96 L636.28,268.45 L637.03,268.94 L637.78,269.43 L638.53,269.92 L639.28,270.42 L640.02,270.91 L640.75,271.41 L641.49,271.91 L642.21,272.41 L642.94,272.91 L643.66,273.41 L644.38,273.92 L645.10,274.43 L645.81,274.94 L646.51,275.45 L647.22,275.96 L647.92,276.47 L648.61,276.98 L649.31,277.50 L650.00,278.02 L650.68,278.54 L651.36,279.06 L652.04,279.58 L652.71,280.10 L653.38,280.63 L654.05,281.15 L654.71,281.68 L655.37,282.21 L656.02,282.74 L656.67,283.27 L657.32,283.81 L657.96,284.34 L658.60,284.88 L659.24,285.42 L659.87,285.95 L660.49,286.50 L661.12,287.04 L661.74,287.58 L662.35,288.12 L662.96,288.67 L663.57,289.22 L664.17,289.76 L664.77,290.31 L665.37,290.86 L665.96,291.42 L666.55,291.97 L667.13,292.52 L667.71,293.08 L668.28,293.64 L668.85,294.20 L669.42,294.76 L669.98,295.32 L670.54,295.88 L671.10,296.44 L671.65,297.01 L672.19,297.57 L672.74,298.14 L673.27,298.71 L673.81,299.27 L674.34,299.84 L674.86,300.42 L675.38,300.99 L675.90,301.56 L676.41,302.14 L676.92,302.71 L677.43,303.29 L677.93,303.87 L678.42,304.45 L678.92,305.03 L679.40,305.61 L679.89,306.19 L680.37,306.77 L680.84,307.36 L681.31,307.94 L681.78,308.53 L682.24,309.11 L682.70,309.70 L683.15,310.29 L683.60,310.88 L684.05,311.47 L684.49,312.06 L684.92,312.66 L685.36,313.25 L685.78,313.85 L686.21,314.44 L686.63,315.04 L687.04,315.64 L687.45,316.23 L687.86,316.83 L688.26,317.43 L688.65,318.03 L689.05,318.64 L689.44,319.24 L689.82,319.84 L690.20,320.45 L690.57,321.05 L690.94,321.66 L691.31,322.26 L691.67,322.87 L692.03,323.48 L692.38,324.09 L692.73,324.70 L693.07,325.31 L693.41,325.92 L693.75,326.53 L694.08,327.14 L694.41,327.76 L694.73,328.37 L695.04,328.98 L695.36,329.60 L695.66,330.21 L695.97,330.83 L696.27,331.45 L696.56,332.07 L696.85,332.68 L697.14,333.30 L697.42,333.92 L697.69,334.54 L697.97,335.16 L698.23,335.79 L698.50,336.41 L698.75,337.03 L699.01,337.65 L699.26,338.28 L699.50,338.90 L699.74,339.52 L699.98,340.15 L700.21,340.77 L700.43,341.40 L700.66,342.03 L700.87,342.65 L701.09,343.28 L701.29,343.91 L701.50,344.54 L701.70,345.17 L701.89,345.79 L702.08,346.42 L702.26,347.05 L702.44,347.68 L702.62,348.31 L702.79,348.94 L702.96,349.58 L703.12,350.21 L703.28,350.84 L703.43,351.47 L703.58,352.10 L703.72,352.74 L703.86,353.37 L703.99,354.00 L704.12,354.64 L704.25,355.27 L704.37,355.90 L704.48,356.54 L704.59,357.17 L704.70,357.81 L704.80,358.44 L704.90,359.08 L704.99,359.71 L705.08,360.35 L705.16,360.98 L705.24,361.62 L705.31,362.26 L705.38,362.89 L705.44,363.53 L705.50,364.16 L705.56,364.80 L705.61,365.44 L705.65,366.07 L705.70,366.71 L705.73,367.35 L705.76,367.98 L705.79,368.62 L705.81,369.26 L705.83,369.89 L705.84,370.53 L705.85,371.17 L705.85,371.80 L705.85,372.44 L705.85,373.08 L705.84,373.72 L705.82,374.35 L705.80,374.99 L705.78,375.62 L705.75,376.26 L705.71,376.90 L705.68,377.53 L705.63,378.17 L705.58,378.81 L705.53,379.44 L705.47,380.08 L705.41,380.71 L705.35,381.35 L705.28,381.98 L705.20,382.62 L705.12,383.25 L705.03,383.89 L704.94,384.52 L704.85,385.16 L704.75,385.79 L704.65,386.42 L704.54,387.06 L704.43,387.69 L704.31,388.32 L704.18,388.96 L704.06,389.59 L703.93,390.22 L703.79,390.85 L703.65,391.48 L703.50,392.12 L703.35,392.75 L703.20,393.38 L703.04,394.01 L702.88,394.64 L702.71,395.27 L702.53,395.89 L702.36,396.52 L702.17,397.15 L701.99,397.78 L701.79,398.41 L701.60,399.03 L701.40,399.66 L701.19,400.28 L700.98,400.91 L700.77,401.53 L700.55,402.16 L700.32,402.78 L700.09,403.40 L699.86,404.03 L699.62,404.65 L699.38,405.27 L699.13,405.89 L698.88,406.51 L698.63,407.13 L698.37,407.75 L698.10,408.37 L697.83,408.99 L697.56,409.61 L697.28,410.22 L697.00,410.84 L696.71,411.46 L696.42,412.07 L696.12,412.68 L695.82,413.30 L695.51,413.91 L695.20,414.52 L694.89,415.13 L694.57,415.75 L694.24,416.36 L693.92,416.96 L693.58,417.57 L693.25,418.18 L692.90,418.79 L692.56,419.39 L692.21,420.00 L691.85,420.60 L691.49,421.21 L691.13,421.81 L690.76,422.41 L690.39,423.01 L690.01,423.62 L689.63,424.22 L689.24,424.81 L688.85,425.41 L688.46,426.01 L688.06,426.61 L687.66,427.20 L687.25,427.79 L686.83,428.39 L686.42,428.98 L686.00,429.57 L685.57,430.16 L685.14,430.75 L684.71,431.34 L684.27,431.93 L683.83,432.52 L683.38,433.10 L682.93,433.69 L682.47,434.27 L682.01,434.85 L681.55,435.43 L681.08,436.02 L680.61,436.59 L680.13,437.17 L679.65,437.75 L679.16,438.33 L678.67,438.90 L678.18,439.48 L677.68,440.05 L677.18,440.62 L676.67,441.19 L676.16,441.76 L675.64,442.33 L675.13,442.90 L674.60,443.46 L674.07,444.03 L673.54,444.59 L673.01,445.16 L672.47,445.72 L671.92,446.28 L671.37,446.84 L670.82,447.39 L670.26,447.95 L669.70,448.51 L669.14,449.06 L668.57,449.61 L668.00,450.16 L667.42,450.72 L666.84,451.26 L666.25,451.81 L665.66,452.36 L665.07,452.90 L664.47,453.45 L663.87,453.99 L663.27,454.53 L662.66,455.07 L662.05,455.61 L661.43,456.15 L660.81,456.68 L660.18,457.22 L659.55,457.75 L658.92,458.28 L658.28,458.81 L657.64,459.34 L657.00,459.87 L656.35,460.39 L655.70,460.92 L655.04,461.44 L654.38,461.96 L653.72,462.48 L653.05,463.00 L652.38,463.52 L651.70,464.03 L651.02,464.55 L650.34,465.06 L649.65,465.57 L648.96,466.08 L648.27,466.59 L647.57,467.09 L646.87,467.60 L646.16,468.10 L645.45,468.60 L644.74,469.10 L644.02,469.60 L643.30,470.10 L642.58,470.59 L641.85,471.09 L641.12,471.58 L640.39,472.07 L639.65,472.56 L638.91,473.05 L638.16,473.53 L637.41,474.02 L636.66,474.50 L635.90,474.98 L635.14,475.46 L634.38,475.93 L633.61,476.41 L632.84,476.88 L632.07,477.36 L631.29,477.83 L630.51,478.29 L629.72,478.76 L628.94,479.23 L628.14,479.69 L627.35,480.15 L626.55,480.61 L625.75,481.07 L624.94,481.53 L624.14,481.98 L623.32,482.43 L622.51,482.89 L621.69,483.33 L620.87,483.78 L620.04,484.23 L619.22,484.67 L618.38,485.11 L617.55,485.55 L616.71,485.99 L615.87,486.43 L615.03,486.86 L614.18,487.30 L613.33,487.73 L612.47,488.16 L611.61,488.58 L610.75,489.01 L609.89,489.43 L609.02,489.85 L608.15,490.27 L607.28,490.69 L606.40,491.10 L605.53,491.52 L604.64,491.93 L603.76,492.34 L602.87,492.75 L601.98,493.15 L601.08,493.56 L600.19,493.96 L599.29,494.36 L598.38,494.76 L597.48,495.15 L596.57,495.55 L595.66,495.94 L594.74,496.33 L593.82,496.72 L592.90,497.10 L591.98,497.49 L591.05,497.87 L590.12,498.25 L589.19,498.63 L588.26,499.00 L587.32,499.37 L586.38,499.75 L585.43,500.12 L584.49,500.48 L583.54,500.85 L582.59,501.21 L581.63,501.57 L580.68,501.93 L579.72,502.29 L578.76,502.64 L577.79,503.00 L576.82,503.35 L575.86,503.69 L574.88,504.04 L573.91,504.38 L572.93,504.73 L571.95,505.07 L570.97,505.40 L569.98,505.74 L568.99,506.07 L568.00,506.40 L567.01,506.73 L566.02,507.06 L565.02,507.38 L564.02,507.71 L563.02,508.03 L562.01,508.34 L561.01,508.66 L560.00,508.97 L558.98,509.28 L557.97,509.59 L557.97,568.14 L565.68,576.86 L565.68,576.86 L566.72,576.50 L567.77,576.14 L568.81,575.77 L569.85,575.40 L570.89,575.03 L571.92,574.66 L572.95,574.28 L573.98,573.91 L575.01,573.53 L576.03,573.14 L577.05,572.76 L578.07,572.37 L579.09,571.98 L580.10,571.59 L581.11,571.19 L582.12,570.79 L583.13,570.39 L584.13,569.99 L585.13,569.58 L586.12,569.18 L587.12,568.77 L588.11,568.36 L589.10,567.94 L590.09,567.52 L591.07,567.11 L592.05,566.68 L593.03,566.26 L594.00,565.83 L594.97,565.40 L595.94,564.97 L596.90,564.54 L597.87,564.10 L598.83,563.67 L599.78,563.23 L600.74,562.78 L601.69,562.34 L602.64,561.89 L603.58,561.44 L604.52,560.99 L605.46,560.54 L606.39,560.08 L607.33,559.62 L608.26,559.16 L609.18,558.70 L610.10,558.24 L611.02,557.77 L611.94,557.30 L612.85,556.83 L613.76,556.35 L614.67,555.88 L615.57,555.40 L616.47,554.92 L617.37,554.44 L618.26,553.95 L619.15,553.46 L620.04,552.98 L620.92,552.48 L621.80,551.99 L622.68,551.50 L623.55,551.00 L624.42,550.50 L625.29,550.00 L626.15,549.49 L627.01,548.99 L627.87,548.48 L628.72,547.97 L629.57,547.46 L630.42,546.94 L631.26,546.43 L632.10,545.91 L632.93,545.39 L633.76,544.87 L634.59,544.35 L635.42,543.82 L636.24,543.29 L637.05,542.76 L637.87,542.23 L638.68,541.70 L639.48,541.16 L640.29,540.62 L641.09,540.08 L641.88,539.54 L642.67,539.00 L643.46,538.45 L644.25,537.90 L645.03,537.36 L645.80,536.80 L646.58,536.25 L647.34,535.70 L648.11,535.14 L648.87,534.58 L649.63,534.02 L650.38,533.46 L651.13,532.90 L651.88,532.33 L652.62,531.76 L653.36,531.19 L654.10,530.62 L654.83,530.05 L655.55,529.47 L656.28,528.90 L657.00,528.32 L657.71,527.74 L658.42,527.16 L659.13,526.58 L659.83,525.99 L660.53,525.40 L661.23,524.82 L661.92,524.23 L662.61,523.64 L663.29,523.04 L663.97,522.45 L664.64,521.85 L665.32,521.25 L665.98,520.65 L666.65,520.05 L667.30,519.45 L667.96,518.84 L668.61,518.24 L669.26,517.63 L669.90,517.02 L670.54,516.41 L671.17,515.80 L671.80,515.18 L672.43,514.57 L673.05,513.95 L673.66,513.33 L674.28,512.71 L674.89,512.09 L675.49,511.47 L676.09,510.85 L676.69,510.22 L677.28,509.59 L677.87,508.96 L678.45,508.33 L679.03,507.70 L679.60,507.07 L680.17,506.44 L680.74,505.80 L681.30,505.16 L681.86,504.53 L682.41,503.89 L682.96,503.25 L683.51,502.60 L684.05,501.96 L684.58,501.32 L685.11,500.67 L685.64,500.02 L686.16,499.37 L686.68,498.72 L687.19,498.07 L687.70,497.42 L688.21,496.77 L688.71,496.11 L689.20,495.46 L689.69,494.80 L690.18,494.14 L690.66,493.48 L691.14,492.82 L691.61,492.16 L692.08,491.50 L692.55,490.83 L693.01,490.17 L693.46,489.50 L693.91,488.83 L694.36,488.16 L694.80,487.49 L695.24,486.82 L695.67,486.15 L696.10,485.48 L696.52,484.81 L696.94,484.13 L697.36,483.46 L697.77,482.78 L698.17,482.10 L698.57,481.42 L698.97,480.74 L699.36,480.06 L699.74,479.38 L700.13,478.70 L700.50,478.01 L700.88,477.33 L701.24,476.64 L701.61,475.96 L701.97,475.27 L702.32,474.58 L702.67,473.89 L703.01,473.20 L703.35,472.51 L703.69,471.82 L704.02,471.13 L704.35,470.44 L704.67,469.74 L704.98,469.05 L705.30,468.36 L705.60,467.66 L705.90,466.96 L706.20,466.27 L706.49,465.57 L706.78,464.87 L707.07,464.17 L707.34,463.47 L707.62,462.77 L707.89,462.07 L708.15,461.36 L708.41,460.66 L708.67,459.96 L708.92,459.25 L709.16,458.55 L709.40,457.84 L709.64,457.14 L709.87,456.43 L710.09,455.72 L710.31,455.02 L710.53,454.31 L710.74,453.60 L710.95,452.89 L711.15,452.18 L711.35,451.47 L711.54,450.76 L711.73,450.05 L711.91,449.34 L712.09,448.63 L712.26,447.91 L712.43,447.20 L712.59,446.49 L712.75,445.77 L712.90,445.06 L713.05,444.35 L713.20,443.63 L713.34,442.92 L713.47,442.20 L713.60,441.49 L713.72,440.77 L713.84,440.05 L713.96,439.34 L714.07,438.62 L714.17,437.90 L714.27,437.18 L714.37,436.47 L714.46,435.75 L714.54,435.03 L714.62,434.31 L714.70,433.59 L714.77,432.87 L714.84,432.16 L714.90,431.44 L714.95,430.72 L715.00,430.00 L715.05,429.28 L715.09,428.56 L715.13,427.84 L715.16,427.12 L715.19,426.40 L715.21,425.68 L715.23,424.96 L715.24,424.24 L715.25,423.52 L715.25,422.80 L715.25,372.47 L715.25,371.79 L715.24,371.11 L715.23,370.43 L715.21,369.76 L715.19,369.08 L715.16,368.40 L715.13,367.72 L715.09,367.05 L715.05,366.37 L715.01,365.69 L714.96,365.01 L714.90,364.34 L714.84,363.66 L714.78,362.98 L714.71,362.31 L714.63,361.63 L714.55,360.95 L714.47,360.28 L714.38,359.60 L714.28,358.92 L714.18,358.25 L714.08,357.57 L713.97,356.90 L713.86,356.22 L713.74,355.55 L713.62,354.87 L713.49,354.20 L713.36,353.52 L713.22,352.85 L713.08,352.18 L712.93,351.50 L712.78,350.83 L712.62,350.16 L712.46,349.49 L712.29,348.82 L712.12,348.14 L711.95,347.47 L711.77,346.80 L711.58,346.13 L711.39,345.46 L711.20,344.79 L711.00,344.12 L710.79,343.46 L710.58,342.79 L710.37,342.12 L710.15,341.45 L709.93,340.79 L709.70,340.12 L709.47,339.46 L709.23,338.79 L708.99,338.13 L708.74,337.46 L708.49,336.80 L708.23,336.14 L707.97,335.47 L707.71,334.81 L707.44,334.15 L707.16,333.49 L706.88,332.83 L706.60,332.17 L706.31,331.51 L706.01,330.85 L705.71,330.20 L705.41,329.54 L705.10,328.88 L704.79,328.23 L704.47,327.57 L704.15,326.92 L703.82,326.27 L703.49,325.61 L703.16,324.96 L702.81,324.31 L702.47,323.66 L702.12,323.01 L701.76,322.36 L701.41,321.72 L701.04,321.07 L700.67,320.42 L700.30,319.78 L699.92,319.13 L699.54,318.49 L699.15,317.85 L698.76,317.20 L698.37,316.56 L697.97,315.92 L697.56,315.28 L697.15,314.64 L696.74,314.01 L696.32,313.37 L695.90,312.74 L695.47,312.10 L695.04,311.47 L694.60,310.83 L694.16,310.20 L693.71,309.57 L693.26,308.94 L692.81,308.31 L692.35,307.68 L691.89,307.06 L691.42,306.43 L690.95,305.81 L690.47,305.18 L689.99,304.56 L689.50,303.94 L689.01,303.32 L688.52,302.70 L688.02,302.08 L687.51,301.46 L687.01,300.85 L686.50,300.23 L685.98,299.62 L685.46,299.01 L684.93,298.40 L684.40,297.79 L683.87,297.18 L683.33,296.57 L682.79,295.96 L682.24,295.36 L681.69,294.75 L681.14,294.15 L680.58,293.55 L680.01,292.95 L679.44,292.35 L678.87,291.75 L678.29,291.16 L677.71,290.56 L677.13,289.97 L676.54,289.37 L675.94,288.78 L675.35,288.19 L674.75,287.60 L674.14,287.02 L673.53,286.43 L672.91,285.85 L672.30,285.26 L671.67,284.68 L671.05,284.10 L670.41,283.52 L669.78,282.94 L669.14,282.37 L668.50,281.79 L667.85,281.22 L667.20,280.65 L666.54,280.08 L665.88,279.51 L665.22,278.94 L664.55,278.38 L663.88,277.81 L663.20,277.25 L662.52,276.69 L661.84,276.13 L661.15,275.57 L660.46,275.01 L659.77,274.46 L659.07,273.90 L658.36,273.35 L657.66,272.80 L656.94,272.25 L656.23,271.70 L655.51,271.16 L654.79,270.61 L654.06,270.07 L653.33,269.53 L652.60,268.99 L651.86,268.45 L651.12,267.92 L650.37,267.38 L649.62,266.85 L648.87,266.32 L648.11,265.79 L647.35,265.26 L646.58,264.74 L645.81,264.21 L645.04,263.69 L644.27,263.17 L643.49,262.65 L642.70,262.13 L641.92,261.62 L641.13,261.11 L640.33,260.59 L639.53,260.08 L638.73,259.58 L637.93,259.07 L637.12,258.56 L636.31,258.06 L635.49,257.56 L634.67,257.06 L633.85,256.56 L633.02,256.07 L632.19,255.58 L631.36,255.08 L630.52,254.59 L629.68,254.11 L628.84,253.62 L627.99,253.14 L627.14,252.65 L626.29,252.17 L625.43,251.69 L624.57,251.22 L623.70,250.74 L622.84,250.27 L621.97,249.80 L621.09,249.33 L620.21,248.86 L619.33,248.40 L618.45,247.94 L617.56,247.48 L616.67,247.02 L615.78,246.56 L614.88,246.11 L613.98,245.65 L613.08,245.20 L612.17,244.75 L611.26,244.31 L610.35,243.86 L609.43,243.42 L608.51,242.98 L607.59,242.54 L606.66,242.10 L605.73,241.67 L604.80,241.24 L603.87,240.81 L602.93,240.38 L601.99,239.95 L601.04,239.53 L600.10,239.11 L599.15,238.69 L598.19,238.27 L597.24,237.85 L596.28,237.44 L595.32,237.03 L594.35,236.62 L593.39,236.21 L592.42,235.81 L591.44,235.41 L590.47,235.01 L589.49,234.61 L588.51,234.21 L587.52,233.82 L586.53,233.43 L585.54,233.04 L584.55,232.65 L583.56,232.27 L582.56,231.89 L581.56,231.51 L580.55,231.13 L579.55,230.75 L578.54,230.38 L577.53,230.01 L576.51,229.64 L575.50,229.27 L574.48,228.91 L573.45,228.55 L572.43,228.19 L571.40,227.83 L570.37,227.48 L569.34,227.12 L568.31,226.77 L567.27,226.42 L566.23,226.08 L565.19,225.73 L564.14,225.39 L563.10,225.05 L562.05,224.72 L561.00,224.38 L559.94,224.05 L558.89,223.72 L557.83,223.40 L556.77,223.07 L555.70,222.75 L554.64,222.43 L553.57,222.11 L552.50,221.80 L551.43,221.49 L550.35,221.18 L549.28,220.87 L548.20,220.56 L547.12,220.26 L546.04,219.96 L544.95,219.66 L543.86,219.37 L542.77,219.07 L541.68,218.78 L540.59,218.49 L539.49,218.21 L538.40,217.93 L537.30,217.64 L536.20,217.37 L535.09,217.09 L533.99,216.82 L532.88,216.55 L531.77,216.28 L530.66,216.01 L529.55,215.75 L528.43,215.49 L527.32,215.23 L526.20,214.97 L525.08,214.72 L523.96,214.47 L522.83,214.22 L521.71,213.98 L520.58,213.73 L519.45,213.49 L518.32,213.25 L517.19,213.02 L516.06,212.78 L514.92,212.55 L513.78,212.33 L512.65,212.10 L511.51,211.88 L510.36,211.66 L509.22,211.44 L508.08,211.23 L506.93,211.01 L505.78,210.80 L504.63,210.60 L503.48,210.39 L502.33,210.19 L501.18,209.99 L500.02,209.79 L498.87,209.60 L497.71,209.41 L496.55,209.22 L495.39,209.03 L494.23,208.85 L493.06,208.66 L491.90,208.49 L490.73,208.31 L489.57,208.14 L488.40,207.97 L487.23,207.80 L486.06,207.63 L484.89,207.47 L483.72,207.31 L482.54,207.15 L481.37,207.00 L480.19,206.84 L479.02,206.69 L477.84,206.55 L476.66,206.40 L475.48,206.26 L474.30,206.12 L473.12,205.98 L471.93,205.85 L470.75,205.72 L469.57,205.59 L468.38,205.47 L467.19,205.34 L466.01,205.22 L464.82,205.10 L463.63,204.99 L462.44,204.88 L461.25,204.77 L460.06,204.66 L458.87,204.55 L457.67,204.45 L456.48,204.35 L455.29,204.26 L454.09,204.16 L452.90,204.07 L451.70,203.98 L450.51,203.90 L449.31,203.82 L448.11,203.74 L446.91,203.66 L445.71,203.58 L444.51,203.51 L443.31,203.44 L442.11,203.38 L440.91,203.31 L439.71,203.25 L438.51,203.19 L437.31,203.14 L436.11,203.08 L434.91,203.03 L433.70,202.98 L432.50,202.94 L431.30,202.90 L430.09,202.86 L428.89,202.82 L427.68,202.79 L426.48,202.75 L425.28,202.73 L424.07,202.70 L422.87,202.68 L421.66,202.66 L420.46,202.64 L419.25,202.62 L418.04,202.61 L416.84,202.60 L415.63,202.59 L414.43,202.59 L413.22,202.59 L412.02,202.59 L410.81,202.59 L409.61,202.60 L408.40,202.61 L407.20,202.62 L405.99,202.63 L404.79,202.65 L403.58,202.67 L402.38,202.70 L401.17,202.72 L399.97,202.75 L398.76,202.78 L397.56,202.81 L396.36,202.85 L395.15,202.89 L393.95,202.93 L392.75,202.98 L391.55,203.02 L390.35,203.07 L389.14,203.13 L387.94,203.18 L386.74,203.24 L385.54,203.30 L384.34,203.36 L383.14,203.43 L381.94,203.50 L380.75,203.57 L379.55,203.64 L378.35,203.72 L377.16,203.80 L375.96,203.88 L374.76,203.97 L373.57,204.06 L372.38,204.15 L371.18,204.24 L369.99,204.33 L368.80,204.43 L367.61,204.53 L366.42,204.64 L365.23,204.74 L364.04,204.85 L362.85,204.97 L361.66,205.08 L360.48,205.20 L359.29,205.32 L358.11,205.44 L356.92,205.57 L355.74,205.69 L354.56,205.82 L353.38,205.96 L352.20,206.09 L351.02,206.23 L349.84,206.37 L348.66,206.52 L347.49,206.66 L346.31,206.81 L345.14,206.97 L343.97,207.12 L342.79,207.28 L341.62,207.44 L340.46,207.60 L339.29,207.76 L338.12,207.93 L336.96,208.10 L335.79,208.28 L334.63,208.45 L333.47,208.63 L332.31,208.81 L331.15,208.99 L329.99,209.18 L328.83,209.37 L327.68,209.56 L326.52,209.75 L325.37,209.95 L324.22,210.15 L323.07,210.35 L321.92,210.55 L320.78,210.76 L319.63,210.97 L318.49,211.18 L317.35,211.40 L316.21,211.61 L315.07,211.83 L313.93,212.06 L312.80,212.28 L311.66,212.51 L310.53,212.74 L309.40,212.97 L308.27,213.21 L307.14,213.44 L306.02,213.68 L304.90,213.93 L303.77,214.17 L302.65,214.42 L301.54,214.67 L300.42,214.92 L299.30,215.18 L298.19,215.44 L297.08,215.70 L295.97,215.96 L294.86,216.22 L293.76,216.49 L292.66,216.76 L291.55,217.04 L290.45,217.31 L289.36,217.59 L288.26,217.87 L287.17,218.15 L286.08,218.44 L284.99,218.72 L283.90,219.02 L282.82,219.31 L281.73,219.60 L280.65,219.90 L279.57,220.20 L278.50,220.50 L277.42,220.81 L276.35,221.11 L275.28,221.42 L274.21,221.74 L273.15,222.05 L272.08,222.37 L271.02,222.69 L269.96,223.01 L268.91,223.33 L267.85,223.66 L266.80,223.99 L265.75,224.32 L264.71,224.65 L263.66,224.99 L262.62,225.33 L261.58,225.67 L260.54,226.01 L259.51,226.36 L258.48,226.70 L257.45,227.05 L256.42,227.40 L255.39,227.76 L254.37,228.12 L253.35,228.48 L252.34,228.84 L251.32,229.20 L250.31,229.57 L249.30,229.94 L248.29,230.31 L247.29,230.68 L246.29,231.05 L245.29,231.43 L244.30,231.81 L243.30,232.19 L242.31,232.58 L241.33,232.96 L240.34,233.35 L239.36,233.74 L238.38,234.14 L237.40,234.53 L236.43,234.93 L235.46,235.33 L234.49,235.73 L233.53,236.13 L232.57,236.54 L231.61,236.95 L230.65,237.36 L229.70,237.77 L228.75,238.19 L227.80,238.60 L226.86,239.02 L225.92,239.44 L224.98,239.87 L224.04,240.29 L223.11,240.72 L222.18,241.15 L221.26,241.58 L220.33,242.02 L219.41,242.45 L218.50,242.89 L217.58,243.33 L216.67,243.77 L215.77,244.22 L214.86,244.66 L213.96,245.11 L213.07,245.56 L212.17,246.02 L211.28,246.47 L210.39,246.93 L209.51,247.38 L208.63,247.84 L207.75,248.31 L206.88,248.77 L206.00,249.24 L205.14,249.71 L204.27,250.18 L203.41,250.65 L202.55,251.12 L201.70,251.60 L200.85,252.08 L200.00,252.56 L199.16,253.04 L198.32,253.52 L197.48,254.01 L196.65,254.50 L195.82,254.99 L194.99,255.48 L194.17,255.97 L193.35,256.47 L192.53,256.96 L191.72,257.46 L190.91,257.96 L190.10,258.46 L189.30,258.97 L188.51,259.47 L187.71,259.98 Z"/>
</g>
<g fill="#fff">
<path d="M185.10,263.60 L192.80,267.80 L192.80,314.40 L185.10,309.50 Z"/><path d="M715.25,372.47 L715.25,373.15 L715.24,373.83 L715.23,374.51 L715.21,375.19 L715.19,375.88 L715.16,376.56 L715.13,377.24 L715.09,377.92 L715.05,378.60 L715.00,379.28 L714.95,379.96 L714.90,380.64 L714.84,381.33 L714.77,382.01 L714.70,382.69 L714.62,383.37 L714.54,384.05 L714.46,384.73 L714.37,385.41 L714.27,386.09 L714.17,386.76 L714.07,387.44 L713.96,388.12 L713.84,388.80 L713.72,389.48 L713.60,390.16 L713.47,390.83 L713.34,391.51 L713.20,392.19 L713.05,392.87 L712.90,393.54 L712.75,394.22 L712.59,394.89 L712.43,395.57 L712.26,396.24 L712.09,396.92 L711.91,397.59 L711.73,398.27 L711.54,398.94 L711.35,399.61 L711.15,400.28 L710.95,400.96 L710.74,401.63 L710.53,402.30 L710.31,402.97 L710.09,403.64 L709.87,404.31 L709.64,404.98 L709.40,405.64 L709.16,406.31 L708.92,406.98 L708.67,407.65 L708.41,408.31 L708.15,408.98 L707.89,409.64 L707.62,410.31 L707.34,410.97 L707.07,411.63 L706.78,412.29 L706.49,412.96 L706.20,413.62 L705.90,414.28 L705.60,414.94 L705.30,415.60 L704.98,416.25 L704.67,416.91 L704.35,417.57 L704.02,418.22 L703.69,418.88 L703.35,419.53 L703.01,420.19 L702.67,420.84 L702.32,421.49 L701.97,422.14 L701.61,422.79 L701.24,423.44 L700.88,424.09 L700.50,424.74 L700.13,425.39 L699.74,426.03 L699.36,426.68 L698.97,427.32 L698.57,427.97 L698.17,428.61 L697.77,429.25 L697.36,429.89 L696.94,430.53 L696.52,431.17 L696.10,431.81 L695.67,432.44 L695.24,433.08 L694.80,433.71 L694.36,434.35 L693.91,434.98 L693.46,435.61 L693.01,436.24 L692.55,436.87 L692.08,437.50 L691.61,438.13 L691.14,438.76 L690.66,439.38 L690.18,440.01 L689.69,440.63 L689.20,441.25 L688.71,441.87 L688.21,442.49 L687.70,443.11 L687.19,443.73 L686.68,444.35 L686.16,444.96 L685.64,445.57 L685.11,446.19 L684.58,446.80 L684.05,447.41 L683.51,448.02 L682.96,448.63 L682.41,449.23 L681.86,449.84 L681.30,450.44 L680.74,451.05 L680.17,451.65 L679.60,452.25 L679.03,452.85 L678.45,453.44 L677.87,454.04 L677.28,454.64 L676.69,455.23 L676.09,455.82 L675.49,456.41 L674.89,457.00 L674.28,457.59 L673.66,458.18 L673.05,458.76 L672.43,459.35 L671.80,459.93 L671.17,460.51 L670.54,461.09 L669.90,461.67 L669.26,462.24 L668.61,462.82 L667.96,463.39 L667.30,463.97 L666.65,464.54 L665.98,465.11 L665.32,465.67 L664.64,466.24 L663.97,466.80 L663.29,467.37 L662.61,467.93 L661.92,468.49 L661.23,469.05 L660.53,469.60 L659.83,470.16 L659.13,470.71 L658.42,471.27 L657.71,471.82 L657.00,472.36 L656.28,472.91 L655.55,473.46 L654.83,474.00 L654.10,474.54 L653.36,475.08 L652.62,475.62 L651.88,476.16 L651.13,476.70 L650.38,477.23 L649.63,477.76 L648.87,478.29 L648.11,478.82 L647.34,479.35 L646.58,479.87 L645.80,480.40 L645.03,480.92 L644.25,481.44 L643.46,481.96 L642.67,482.47 L641.88,482.99 L641.09,483.50 L640.29,484.01 L639.48,484.52 L638.68,485.03 L637.87,485.53 L637.05,486.04 L636.24,486.54 L635.42,487.04 L634.59,487.53 L633.76,488.03 L632.93,488.53 L632.10,489.02 L631.26,489.51 L630.42,490.00 L629.57,490.48 L628.72,490.97 L627.87,491.45 L627.01,491.93 L626.15,492.41 L625.29,492.89 L624.42,493.36 L623.55,493.83 L622.68,494.30 L621.80,494.77 L620.92,495.24 L620.04,495.71 L619.15,496.17 L618.26,496.63 L617.37,497.09 L616.47,497.54 L615.57,498.00 L614.67,498.45 L613.76,498.90 L612.85,499.35 L611.94,499.80 L611.02,500.24 L610.10,500.68 L609.18,501.12 L608.26,501.56 L607.33,502.00 L606.39,502.43 L605.46,502.86 L604.52,503.29 L603.58,503.72 L602.64,504.15 L601.69,504.57 L600.74,504.99 L599.78,505.41 L598.83,505.83 L597.87,506.24 L596.90,506.65 L595.94,507.06 L594.97,507.47 L594.00,507.88 L593.03,508.28 L592.05,508.68 L591.07,509.08 L590.09,509.48 L589.10,509.87 L588.11,510.27 L587.12,510.66 L586.12,511.04 L585.13,511.43 L584.13,511.81 L583.13,512.19 L582.12,512.57 L581.11,512.95 L580.10,513.32 L579.09,513.70 L578.07,514.06 L577.05,514.43 L576.03,514.80 L575.01,515.16 L573.98,515.52 L572.95,515.88 L571.92,516.23 L570.89,516.59 L569.85,516.94 L568.81,517.29 L567.77,517.63 L566.72,517.98 L565.68,518.32 L565.68,576.86 L566.72,576.50 L567.77,576.14 L568.81,575.77 L569.85,575.40 L570.89,575.03 L571.92,574.66 L572.95,574.28 L573.98,573.91 L575.01,573.53 L576.03,573.14 L577.05,572.76 L578.07,572.37 L579.09,571.98 L580.10,571.59 L581.11,571.19 L582.12,570.79 L583.13,570.39 L584.13,569.99 L585.13,569.58 L586.12,569.18 L587.12,568.77 L588.11,568.36 L589.10,567.94 L590.09,567.52 L591.07,567.11 L592.05,566.68 L593.03,566.26 L594.00,565.83 L594.97,565.40 L595.94,564.97 L596.90,564.54 L597.87,564.10 L598.83,563.67 L599.78,563.23 L600.74,562.78 L601.69,562.34 L602.64,561.89 L603.58,561.44 L604.52,560.99 L605.46,560.54 L606.39,560.08 L607.33,559.62 L608.26,559.16 L609.18,558.70 L610.10,558.24 L611.02,557.77 L611.94,557.30 L612.85,556.83 L613.76,556.35 L614.67,555.88 L615.57,555.40 L616.47,554.92 L617.37,554.44 L618.26,553.95 L619.15,553.46 L620.04,552.98 L620.92,552.48 L621.80,551.99 L622.68,551.50 L623.55,551.00 L624.42,550.50 L625.29,550.00 L626.15,549.49 L627.01,548.99 L627.87,548.48 L628.72,547.97 L629.57,547.46 L630.42,546.94 L631.26,546.43 L632.10,545.91 L632.93,545.39 L633.76,544.87 L634.59,544.35 L635.42,543.82 L636.24,543.29 L637.05,542.76 L637.87,542.23 L638.68,541.70 L639.48,541.16 L640.29,540.62 L641.09,540.08 L641.88,539.54 L642.67,539.00 L643.46,538.45 L644.25,537.90 L645.03,537.36 L645.80,536.80 L646.58,536.25 L647.34,535.70 L648.11,535.14 L648.87,534.58 L649.63,534.02 L650.38,533.46 L651.13,532.90 L651.88,532.33 L652.62,531.76 L653.36,531.19 L654.10,530.62 L654.83,530.05 L655.55,529.47 L656.28,528.90 L657.00,528.32 L657.71,527.74 L658.42,527.16 L659.13,526.58 L659.83,525.99 L660.53,525.40 L661.23,524.82 L661.92,524.23 L662.61,523.64 L663.29,523.04 L663.97,522.45 L664.64,521.85 L665.32,521.25 L665.98,520.65 L666.65,520.05 L667.30,519.45 L667.96,518.84 L668.61,518.24 L669.26,517.63 L669.90,517.02 L670.54,516.41 L671.17,515.80 L671.80,515.18 L672.43,514.57 L673.05,513.95 L673.66,513.33 L674.28,512.71 L674.89,512.09 L675.49,511.47 L676.09,510.85 L676.69,510.22 L677.28,509.59 L677.87,508.96 L678.45,508.33 L679.03,507.70 L679.60,507.07 L680.17,506.44 L680.74,505.80 L681.30,505.16 L681.86,504.53 L682.41,503.89 L682.96,503.25 L683.51,502.60 L684.05,501.96 L684.58,501.32 L685.11,500.67 L685.64,500.02 L686.16,499.37 L686.68,498.72 L687.19,498.07 L687.70,497.42 L688.21,496.77 L688.71,496.11 L689.20,495.46 L689.69,494.80 L690.18,494.14 L690.66,493.48 L691.14,492.82 L691.61,492.16 L692.08,491.50 L692.55,490.83 L693.01,490.17 L693.46,489.50 L693.91,488.83 L694.36,488.16 L694.80,487.49 L695.24,486.82 L695.67,486.15 L696.10,485.48 L696.52,484.81 L696.94,484.13 L697.36,483.46 L697.77,482.78 L698.17,482.10 L698.57,481.42 L698.97,480.74 L699.36,480.06 L699.74,479.38 L700.13,478.70 L700.50,478.01 L700.88,477.33 L701.24,476.64 L701.61,475.96 L701.97,475.27 L702.32,474.58 L702.67,473.89 L703.01,473.20 L703.35,472.51 L703.69,471.82 L704.02,471.13 L704.35,470.44 L704.67,469.74 L704.98,469.05 L705.30,468.36 L705.60,467.66 L705.90,466.96 L706.20,466.27 L706.49,465.57 L706.78,464.87 L707.07,464.17 L707.34,463.47 L707.62,462.77 L707.89,462.07 L708.15,461.36 L708.41,460.66 L708.67,459.96 L708.92,459.25 L709.16,458.55 L709.40,457.84 L709.64,457.14 L709.87,456.43 L710.09,455.72 L710.31,455.02 L710.53,454.31 L710.74,453.60 L710.95,452.89 L711.15,452.18 L711.35,451.47 L711.54,450.76 L711.73,450.05 L711.91,449.34 L712.09,448.63 L712.26,447.91 L712.43,447.20 L712.59,446.49 L712.75,445.77 L712.90,445.06 L713.05,444.35 L713.20,443.63 L713.34,442.92 L713.47,442.20 L713.60,441.49 L713.72,440.77 L713.84,440.05 L713.96,439.34 L714.07,438.62 L714.17,437.90 L714.27,437.18 L714.37,436.47 L714.46,435.75 L714.54,435.03 L714.62,434.31 L714.70,433.59 L714.77,432.87 L714.84,432.16 L714.90,431.44 L714.95,430.72 L715.00,430.00 L715.05,429.28 L715.09,428.56 L715.13,427.84 L715.16,427.12 L715.19,426.40 L715.21,425.68 L715.23,424.96 L715.24,424.24 L715.25,423.52 L715.25,422.80 Z"/><path d="M557.97,509.59 L565.68,518.32 L565.68,576.86 L557.97,568.14 Z"/><path d="M187.71,259.98 L188.50,259.48 L189.30,258.97 L190.10,258.47 L190.91,257.96 L191.72,257.46 L192.53,256.96 L193.34,256.47 L194.16,255.97 L194.99,255.48 L195.81,254.99 L196.64,254.50 L197.47,254.01 L198.31,253.53 L199.15,253.04 L199.99,252.56 L200.84,252.08 L201.69,251.60 L202.55,251.13 L203.40,250.65 L204.26,250.18 L205.13,249.71 L205.99,249.24 L206.86,248.78 L207.74,248.31 L208.62,247.85 L209.50,247.39 L210.38,246.93 L211.27,246.48 L212.16,246.02 L213.05,245.57 L213.95,245.12 L214.85,244.67 L215.75,244.23 L216.66,243.78 L217.57,243.34 L218.48,242.90 L219.40,242.46 L220.31,242.03 L221.24,241.59 L222.16,241.16 L223.09,240.73 L224.02,240.30 L224.96,239.88 L225.89,239.45 L226.83,239.03 L227.78,238.61 L228.72,238.20 L229.67,237.78 L230.63,237.37 L231.58,236.96 L232.54,236.55 L233.50,236.15 L234.47,235.74 L235.43,235.34 L236.40,234.94 L237.37,234.54 L238.35,234.15 L239.33,233.76 L240.31,233.36 L241.29,232.98 L242.28,232.59 L243.27,232.21 L244.26,231.82 L245.26,231.44 L246.26,231.07 L247.26,230.69 L248.26,230.32 L249.26,229.95 L250.27,229.58 L251.28,229.21 L252.30,228.85 L253.31,228.49 L254.33,228.13 L255.35,227.77 L256.38,227.42 L257.40,227.07 L258.43,226.72 L259.47,226.37 L260.50,226.02 L261.54,225.68 L262.57,225.34 L263.62,225.00 L264.66,224.67 L265.71,224.33 L266.75,224.00 L267.81,223.67 L268.86,223.35 L269.91,223.02 L270.97,222.70 L272.03,222.38 L273.09,222.07 L274.16,221.75 L275.23,221.44 L276.30,221.13 L277.37,220.82 L278.44,220.52 L279.52,220.22 L280.60,219.92 L281.68,219.62 L282.76,219.32 L283.84,219.03 L284.93,218.74 L286.02,218.45 L287.11,218.17 L288.20,217.89 L289.30,217.60 L290.39,217.33 L291.49,217.05 L292.59,216.78 L293.69,216.51 L294.80,216.24 L295.90,215.98 L297.01,215.71 L298.12,215.45 L299.24,215.19 L300.35,214.94 L301.47,214.69 L302.58,214.44 L303.70,214.19 L304.82,213.94 L305.95,213.70 L307.07,213.46 L308.20,213.22 L309.33,212.99 L310.46,212.75 L311.59,212.52 L312.72,212.30 L313.85,212.07 L314.99,211.85 L316.13,211.63 L317.27,211.41 L318.41,211.20 L319.55,210.99 L320.70,210.78 L321.84,210.57 L322.99,210.36 L324.14,210.16 L325.29,209.96 L326.44,209.77 L327.59,209.57 L328.75,209.38 L329.90,209.19 L331.06,209.01 L332.22,208.82 L333.38,208.64 L334.54,208.46 L335.70,208.29 L336.86,208.12 L338.03,207.95 L339.19,207.78 L340.36,207.61 L341.53,207.45 L342.70,207.29 L343.87,207.13 L345.04,206.98 L346.21,206.83 L347.39,206.68 L348.56,206.53 L349.74,206.39 L350.92,206.24 L352.10,206.11 L353.27,205.97 L354.45,205.84 L355.64,205.71 L356.82,205.58 L358.00,205.45 L359.18,205.33 L360.37,205.21 L361.56,205.09 L362.74,204.98 L363.93,204.86 L365.12,204.75 L366.31,204.65 L367.50,204.54 L368.69,204.44 L369.88,204.34 L371.07,204.25 L372.26,204.15 L373.46,204.06 L374.65,203.98 L375.84,203.89 L377.04,203.81 L378.23,203.73 L379.43,203.65 L380.63,203.58 L381.83,203.50 L383.02,203.44 L384.22,203.37 L385.42,203.31 L386.62,203.24 L387.82,203.19 L389.02,203.13 L390.22,203.08 L391.42,203.03 L392.62,202.98 L393.83,202.94 L395.03,202.89 L396.23,202.85 L397.43,202.82 L398.64,202.78 L399.84,202.75 L401.04,202.72 L402.25,202.70 L403.45,202.67 L404.65,202.65 L405.86,202.64 L407.06,202.62 L408.27,202.61 L409.47,202.60 L410.68,202.59 L411.88,202.59 L413.09,202.59 L414.29,202.59 L415.50,202.59 L416.70,202.60 L417.91,202.61 L419.11,202.62 L420.32,202.64 L421.52,202.65 L422.72,202.67 L423.93,202.70 L425.13,202.72 L426.34,202.75 L427.54,202.78 L428.74,202.82 L429.95,202.85 L431.15,202.89 L432.35,202.93 L433.56,202.98 L434.76,203.03 L435.96,203.08 L437.16,203.13 L438.36,203.18 L439.56,203.24 L440.76,203.30 L441.96,203.37 L443.16,203.43 L444.36,203.50 L445.56,203.57 L446.76,203.65 L447.96,203.73 L449.15,203.81 L450.35,203.89 L451.55,203.97 L452.74,204.06 L453.94,204.15 L455.13,204.25 L456.32,204.34 L457.52,204.44 L458.71,204.54 L459.90,204.65 L461.09,204.75 L462.28,204.86 L463.47,204.97 L464.66,205.09 L465.84,205.21 L467.03,205.33 L468.22,205.45 L469.40,205.57 L470.59,205.70 L471.77,205.83 L472.95,205.97 L474.13,206.10 L475.31,206.24 L476.49,206.38 L477.67,206.53 L478.85,206.67 L480.02,206.82 L481.20,206.97 L482.37,207.13 L483.55,207.29 L484.72,207.45 L485.89,207.61 L487.06,207.77 L488.23,207.94 L489.40,208.11 L490.56,208.28 L491.73,208.46 L492.89,208.64 L494.05,208.82 L495.21,209.00 L496.37,209.19 L497.53,209.38 L498.69,209.57 L499.85,209.76 L501.00,209.96 L502.15,210.16 L503.30,210.36 L504.46,210.56 L505.60,210.77 L506.75,210.98 L507.90,211.19 L509.04,211.41 L510.18,211.62 L511.33,211.84 L512.47,212.07 L513.60,212.29 L514.74,212.52 L515.88,212.75 L517.01,212.98 L518.14,213.22 L519.27,213.45 L520.40,213.69 L521.53,213.94 L522.65,214.18 L523.77,214.43 L524.90,214.68 L526.02,214.93 L527.13,215.19 L528.25,215.44 L529.36,215.71 L530.48,215.97 L531.59,216.23 L532.70,216.50 L533.80,216.77 L534.91,217.04 L536.01,217.32 L537.11,217.60 L538.21,217.88 L539.31,218.16 L540.40,218.44 L541.50,218.73 L542.59,219.02 L543.68,219.32 L544.76,219.61 L545.85,219.91 L546.93,220.21 L548.01,220.51 L549.09,220.81 L550.16,221.12 L551.24,221.43 L552.31,221.74 L553.38,222.06 L554.45,222.37 L555.51,222.69 L556.58,223.01 L557.64,223.34 L558.70,223.66 L559.75,223.99 L560.80,224.32 L561.86,224.66 L562.91,224.99 L563.95,225.33 L565.00,225.67 L566.04,226.01 L567.08,226.36 L568.11,226.71 L569.15,227.06 L570.18,227.41 L571.21,227.76 L572.24,228.12 L573.26,228.48 L574.28,228.84 L575.30,229.20 L576.32,229.57 L577.33,229.94 L578.34,230.31 L579.35,230.68 L580.36,231.06 L581.36,231.43 L582.36,231.81 L583.36,232.19 L584.36,232.58 L585.35,232.97 L586.34,233.35 L587.33,233.74 L588.31,234.14 L589.29,234.53 L590.27,234.93 L591.25,235.33 L592.22,235.73 L593.19,236.13 L594.16,236.54 L595.13,236.95 L596.09,237.36 L597.05,237.77 L598.00,238.19 L598.95,238.60 L599.90,239.02 L600.85,239.44 L601.80,239.87 L602.74,240.29 L603.67,240.72 L604.61,241.15 L605.54,241.58 L606.47,242.01 L607.40,242.45 L608.32,242.89 L609.24,243.33 L610.16,243.77 L611.07,244.21 L611.98,244.66 L612.89,245.11 L613.79,245.56 L614.69,246.01 L615.59,246.46 L616.48,246.92 L617.37,247.38 L618.26,247.84 L619.14,248.30 L620.03,248.76 L620.90,249.23 L621.78,249.70 L622.65,250.17 L623.52,250.64 L624.38,251.11 L625.24,251.59 L626.10,252.07 L626.95,252.55 L627.81,253.03 L628.65,253.51 L629.50,254.00 L630.34,254.49 L631.18,254.97 L632.01,255.47 L632.84,255.96 L633.67,256.45 L634.49,256.95 L635.31,257.45 L636.12,257.95 L636.94,258.45 L637.75,258.96 L638.55,259.46 L639.35,259.97 L640.15,260.48 L640.95,260.99 L641.74,261.50 L642.52,262.02 L643.31,262.53 L644.09,263.05 L644.86,263.57 L645.64,264.09 L646.41,264.62 L647.17,265.14 L647.93,265.67 L648.69,266.20 L649.44,266.73 L650.19,267.26 L650.94,267.79 L651.68,268.33 L652.42,268.86 L653.16,269.40 L653.89,269.94 L654.62,270.48 L655.34,271.03 L656.06,271.57 L656.77,272.12 L657.49,272.67 L658.19,273.22 L658.90,273.77 L659.60,274.32 L660.29,274.88 L660.99,275.43 L661.67,275.99 L662.36,276.55 L663.04,277.11 L663.72,277.67 L664.39,278.24 L665.06,278.80 L665.72,279.37 L666.38,279.94 L667.04,280.51 L667.69,281.08 L668.34,281.65 L668.98,282.22 L669.62,282.80 L670.26,283.38 L670.89,283.96 L671.52,284.54 L672.14,285.12 L672.76,285.70 L673.37,286.28 L673.99,286.87 L674.59,287.45 L675.19,288.04 L675.79,288.63 L676.39,289.22 L676.98,289.81 L677.56,290.41 L678.15,291.00 L678.72,291.60 L679.30,292.20 L679.87,292.79 L680.43,293.39 L680.99,293.99 L681.55,294.60 L682.10,295.20 L682.65,295.81 L683.19,296.41 L683.73,297.02 L684.26,297.63 L684.79,298.24 L685.32,298.85 L685.84,299.46 L686.36,300.07 L686.87,300.69 L687.38,301.30 L687.88,301.92 L688.38,302.54 L688.88,303.15 L689.37,303.77 L689.86,304.39 L690.34,305.02 L690.82,305.64 L691.29,306.26 L691.76,306.89 L692.22,307.51 L692.68,308.14 L693.14,308.77 L693.59,309.40 L694.04,310.03 L694.48,310.66 L694.92,311.29 L695.35,311.93 L695.78,312.56 L696.20,313.20 L696.62,313.83 L697.04,314.47 L697.45,315.11 L697.85,315.75 L698.26,316.38 L698.65,317.03 L699.05,317.67 L699.43,318.31 L699.82,318.95 L700.20,319.60 L700.57,320.24 L700.94,320.89 L701.30,321.53 L701.66,322.18 L702.02,322.83 L702.37,323.48 L702.72,324.13 L703.06,324.78 L703.40,325.43 L703.73,326.08 L704.06,326.73 L704.38,327.39 L704.70,328.04 L705.01,328.70 L705.32,329.35 L705.63,330.01 L705.93,330.66 L706.22,331.32 L706.51,331.98 L706.80,332.64 L707.08,333.30 L707.36,333.96 L707.63,334.62 L707.89,335.28 L708.16,335.94 L708.41,336.60 L708.67,337.27 L708.92,337.93 L709.16,338.59 L709.40,339.26 L709.63,339.92 L709.86,340.59 L710.09,341.25 L710.31,341.92 L710.52,342.59 L710.73,343.26 L710.94,343.92 L711.14,344.59 L711.33,345.26 L711.53,345.93 L711.71,346.60 L711.89,347.27 L712.07,347.94 L712.24,348.61 L712.41,349.28 L712.57,349.95 L712.73,350.63 L712.88,351.30 L713.03,351.97 L713.18,352.64 L713.32,353.32 L713.45,353.99 L713.58,354.66 L713.70,355.34 L713.82,356.01 L713.94,356.69 L714.05,357.36 L714.15,358.04 L714.25,358.71 L714.35,359.39 L714.44,360.06 L714.52,360.74 L714.61,361.42 L714.68,362.09 L714.75,362.77 L714.82,363.45 L714.88,364.12 L714.94,364.80 L714.99,365.48 L715.04,366.15 L715.08,366.83 L715.12,367.51 L715.15,368.18 L715.18,368.86 L715.20,369.54 L715.22,370.22 L715.24,370.89 L715.24,371.57 L715.25,372.25 L715.25,372.93 L715.24,373.60 L715.23,374.28 L715.22,374.96 L715.20,375.63 L715.17,376.31 L715.14,376.99 L715.11,377.67 L715.07,378.34 L715.02,379.02 L714.97,379.70 L714.92,380.37 L714.86,381.05 L714.80,381.73 L714.73,382.40 L714.66,383.08 L714.58,383.75 L714.50,384.43 L714.41,385.10 L714.32,385.78 L714.22,386.46 L714.12,387.13 L714.01,387.80 L713.90,388.48 L713.78,389.15 L713.66,389.83 L713.53,390.50 L713.40,391.17 L713.27,391.85 L713.13,392.52 L712.98,393.19 L712.83,393.86 L712.68,394.53 L712.52,395.20 L712.35,395.87 L712.18,396.55 L712.01,397.21 L711.83,397.88 L711.65,398.55 L711.46,399.22 L711.27,399.89 L711.07,400.56 L710.87,401.23 L710.66,401.89 L710.45,402.56 L710.23,403.22 L710.01,403.89 L709.78,404.55 L709.55,405.22 L709.32,405.88 L709.08,406.55 L708.83,407.21 L708.58,407.87 L708.33,408.53 L708.07,409.19 L707.80,409.85 L707.53,410.51 L707.26,411.17 L706.98,411.83 L706.70,412.49 L706.41,413.14 L706.12,413.80 L705.82,414.46 L705.52,415.11 L705.21,415.77 L704.90,416.42 L704.59,417.07 L704.27,417.73 L703.94,418.38 L703.61,419.03 L703.28,419.68 L702.94,420.33 L702.60,420.98 L702.25,421.62 L701.90,422.27 L701.54,422.92 L701.18,423.56 L700.81,424.21 L700.44,424.85 L700.06,425.49 L699.68,426.13 L699.30,426.78 L698.91,427.42 L698.52,428.05 L698.12,428.69 L697.71,429.33 L697.31,429.97 L696.89,430.60 L696.48,431.24 L696.06,431.87 L695.63,432.50 L695.20,433.13 L694.77,433.77 L694.33,434.40 L693.88,435.02 L693.43,435.65 L692.98,436.28 L692.53,436.90 L692.06,437.53 L691.60,438.15 L691.13,438.77 L690.65,439.40 L690.17,440.02 L689.69,440.64 L689.20,441.25 L688.71,441.87 L688.21,442.49 L687.71,443.10 L687.20,443.71 L686.69,444.33 L686.18,444.94 L685.66,445.55 L685.14,446.16 L684.61,446.77 L684.08,447.37 L683.54,447.98 L683.00,448.58 L682.46,449.18 L681.91,449.79 L681.35,450.39 L680.80,450.99 L680.23,451.58 L679.67,452.18 L679.10,452.78 L678.52,453.37 L677.94,453.96 L677.36,454.55 L676.77,455.14 L676.18,455.73 L675.59,456.32 L674.99,456.90 L674.38,457.49 L673.77,458.07 L673.16,458.65 L672.54,459.24 L671.92,459.81 L671.30,460.39 L670.67,460.97 L670.04,461.54 L669.40,462.12 L668.76,462.69 L668.11,463.26 L667.46,463.83 L666.81,464.39 L666.15,464.96 L665.49,465.53 L664.82,466.09 L664.15,466.65 L663.48,467.21 L662.80,467.77 L662.12,468.33 L661.44,468.88 L660.75,469.43 L660.05,469.99 L659.35,470.54 L658.65,471.09 L657.95,471.63 L657.24,472.18 L656.53,472.72 L655.81,473.27 L655.09,473.81 L654.36,474.35 L653.63,474.88 L652.90,475.42 L652.17,475.95 L651.43,476.49 L650.68,477.02 L649.93,477.55 L649.18,478.08 L648.43,478.60 L647.67,479.13 L646.91,479.65 L646.14,480.17 L645.37,480.69 L644.59,481.21 L643.82,481.72 L643.04,482.24 L642.25,482.75 L641.46,483.26 L640.67,483.77 L639.87,484.27 L639.07,484.78 L638.27,485.28 L637.47,485.78 L636.65,486.28 L635.84,486.78 L635.02,487.27 L634.20,487.77 L633.38,488.26 L632.55,488.75 L631.72,489.24 L630.88,489.72 L630.05,490.21 L629.20,490.69 L628.36,491.17 L627.51,491.65 L626.66,492.13 L625.80,492.60 L624.94,493.08 L624.08,493.55 L623.22,494.02 L622.35,494.48 L621.47,494.95 L620.60,495.41 L619.72,495.87 L618.84,496.33 L617.95,496.79 L617.06,497.24 L616.17,497.70 L615.28,498.15 L614.38,498.60 L613.48,499.04 L612.57,499.49 L611.66,499.93 L610.75,500.37 L609.84,500.81 L608.92,501.25 L608.00,501.68 L607.07,502.12 L606.15,502.55 L605.22,502.98 L604.28,503.40 L603.35,503.83 L602.41,504.25 L601.47,504.67 L600.52,505.09 L599.57,505.50 L598.62,505.92 L597.67,506.33 L596.71,506.74 L595.75,507.14 L594.79,507.55 L593.82,507.95 L592.86,508.35 L591.88,508.75 L590.91,509.15 L589.93,509.54 L588.95,509.93 L587.97,510.32 L586.99,510.71 L586.00,511.09 L585.01,511.48 L584.01,511.86 L583.02,512.24 L582.02,512.61 L581.01,512.99 L580.01,513.36 L579.00,513.73 L577.99,514.09 L576.98,514.46 L575.97,514.82 L574.95,515.18 L573.93,515.54 L572.91,515.89 L571.88,516.25 L570.85,516.60 L569.82,516.95 L568.79,517.29 L567.75,517.64 L566.72,517.98 L565.68,518.32 L557.97,509.59 L558.98,509.28 L560.00,508.97 L561.01,508.66 L562.01,508.34 L563.02,508.03 L564.02,507.71 L565.02,507.38 L566.02,507.06 L567.01,506.73 L568.00,506.40 L568.99,506.07 L569.98,505.74 L570.97,505.40 L571.95,505.07 L572.93,504.73 L573.91,504.38 L574.88,504.04 L575.86,503.69 L576.82,503.35 L577.79,503.00 L578.76,502.64 L579.72,502.29 L580.68,501.93 L581.63,501.57 L582.59,501.21 L583.54,500.85 L584.49,500.48 L585.43,500.12 L586.38,499.75 L587.32,499.37 L588.26,499.00 L589.19,498.63 L590.12,498.25 L591.05,497.87 L591.98,497.49 L592.90,497.10 L593.82,496.72 L594.74,496.33 L595.66,495.94 L596.57,495.55 L597.48,495.15 L598.38,494.76 L599.29,494.36 L600.19,493.96 L601.08,493.56 L601.98,493.15 L602.87,492.75 L603.76,492.34 L604.64,491.93 L605.53,491.52 L606.40,491.10 L607.28,490.69 L608.15,490.27 L609.02,489.85 L609.89,489.43 L610.75,489.01 L611.61,488.58 L612.47,488.16 L613.33,487.73 L614.18,487.30 L615.03,486.86 L615.87,486.43 L616.71,485.99 L617.55,485.55 L618.38,485.11 L619.22,484.67 L620.04,484.23 L620.87,483.78 L621.69,483.33 L622.51,482.89 L623.32,482.43 L624.14,481.98 L624.94,481.53 L625.75,481.07 L626.55,480.61 L627.35,480.15 L628.14,479.69 L628.94,479.23 L629.72,478.76 L630.51,478.29 L631.29,477.83 L632.07,477.36 L632.84,476.88 L633.61,476.41 L634.38,475.93 L635.14,475.46 L635.90,474.98 L636.66,474.50 L637.41,474.02 L638.16,473.53 L638.91,473.05 L639.65,472.56 L640.39,472.07 L641.12,471.58 L641.85,471.09 L642.58,470.59 L643.30,470.10 L644.02,469.60 L644.74,469.10 L645.45,468.60 L646.16,468.10 L646.87,467.60 L647.57,467.09 L648.27,466.59 L648.96,466.08 L649.65,465.57 L650.34,465.06 L651.02,464.55 L651.70,464.03 L652.38,463.52 L653.05,463.00 L653.72,462.48 L654.38,461.96 L655.04,461.44 L655.70,460.92 L656.35,460.39 L657.00,459.87 L657.64,459.34 L658.28,458.81 L658.92,458.28 L659.55,457.75 L660.18,457.22 L660.81,456.68 L661.43,456.15 L662.05,455.61 L662.66,455.07 L663.27,454.53 L663.87,453.99 L664.47,453.45 L665.07,452.90 L665.66,452.36 L666.25,451.81 L666.84,451.26 L667.42,450.72 L668.00,450.16 L668.57,449.61 L669.14,449.06 L669.70,448.51 L670.26,447.95 L670.82,447.39 L671.37,446.84 L671.92,446.28 L672.47,445.72 L673.01,445.16 L673.54,444.59 L674.07,444.03 L674.60,443.46 L675.13,442.90 L675.64,442.33 L676.16,441.76 L676.67,441.19 L677.18,440.62 L677.68,440.05 L678.18,439.48 L678.67,438.90 L679.16,438.33 L679.65,437.75 L680.13,437.17 L680.61,436.59 L681.08,436.02 L681.55,435.43 L682.01,434.85 L682.47,434.27 L682.93,433.69 L683.38,433.10 L683.83,432.52 L684.27,431.93 L684.71,431.34 L685.14,430.75 L685.57,430.16 L686.00,429.57 L686.42,428.98 L686.83,428.39 L687.25,427.79 L687.66,427.20 L688.06,426.61 L688.46,426.01 L688.85,425.41 L689.24,424.81 L689.63,424.22 L690.01,423.62 L690.39,423.01 L690.76,422.41 L691.13,421.81 L691.49,421.21 L691.85,420.60 L692.21,420.00 L692.56,419.39 L692.90,418.79 L693.25,418.18 L693.58,417.57 L693.92,416.96 L694.24,416.36 L694.57,415.75 L694.89,415.13 L695.20,414.52 L695.51,413.91 L695.82,413.30 L696.12,412.68 L696.42,412.07 L696.71,411.46 L697.00,410.84 L697.28,410.22 L697.56,409.61 L697.83,408.99 L698.10,408.37 L698.37,407.75 L698.63,407.13 L698.88,406.51 L699.13,405.89 L699.38,405.27 L699.62,404.65 L699.86,404.03 L700.09,403.40 L700.32,402.78 L700.55,402.16 L700.77,401.53 L700.98,400.91 L701.19,400.28 L701.40,399.66 L701.60,399.03 L701.79,398.41 L701.99,397.78 L702.17,397.15 L702.36,396.52 L702.53,395.89 L702.71,395.27 L702.88,394.64 L703.04,394.01 L703.20,393.38 L703.35,392.75 L703.50,392.12 L703.65,391.48 L703.79,390.85 L703.93,390.22 L704.06,389.59 L704.18,388.96 L704.31,388.32 L704.43,387.69 L704.54,387.06 L704.65,386.42 L704.75,385.79 L704.85,385.16 L704.94,384.52 L705.03,383.89 L705.12,383.25 L705.20,382.62 L705.28,381.98 L705.35,381.35 L705.41,380.71 L705.47,380.08 L705.53,379.44 L705.58,378.81 L705.63,378.17 L705.68,377.53 L705.71,376.90 L705.75,376.26 L705.78,375.62 L705.80,374.99 L705.82,374.35 L705.84,373.72 L705.85,373.08 L705.85,372.44 L705.85,371.80 L705.85,371.17 L705.84,370.53 L705.83,369.89 L705.81,369.26 L705.79,368.62 L705.76,367.98 L705.73,367.35 L705.70,366.71 L705.65,366.07 L705.61,365.44 L705.56,364.80 L705.50,364.16 L705.44,363.53 L705.38,362.89 L705.31,362.26 L705.24,361.62 L705.16,360.98 L705.08,360.35 L704.99,359.71 L704.90,359.08 L704.80,358.44 L704.70,357.81 L704.59,357.17 L704.48,356.54 L704.37,355.90 L704.25,355.27 L704.12,354.64 L703.99,354.00 L703.86,353.37 L703.72,352.74 L703.58,352.10 L703.43,351.47 L703.28,350.84 L703.12,350.21 L702.96,349.58 L702.79,348.94 L702.62,348.31 L702.44,347.68 L702.26,347.05 L702.08,346.42 L701.89,345.79 L701.70,345.17 L701.50,344.54 L701.29,343.91 L701.09,343.28 L700.87,342.65 L700.66,342.03 L700.43,341.40 L700.21,340.77 L699.98,340.15 L699.74,339.52 L699.50,338.90 L699.26,338.28 L699.01,337.65 L698.75,337.03 L698.50,336.41 L698.23,335.79 L697.97,335.16 L697.69,334.54 L697.42,333.92 L697.14,333.30 L696.85,332.68 L696.56,332.07 L696.27,331.45 L695.97,330.83 L695.66,330.21 L695.36,329.60 L695.04,328.98 L694.73,328.37 L694.41,327.76 L694.08,327.14 L693.75,326.53 L693.41,325.92 L693.07,325.31 L692.73,324.70 L692.38,324.09 L692.03,323.48 L691.67,322.87 L691.31,322.26 L690.94,321.66 L690.57,321.05 L690.20,320.45 L689.82,319.84 L689.44,319.24 L689.05,318.64 L688.65,318.03 L688.26,317.43 L687.86,316.83 L687.45,316.23 L687.04,315.64 L686.63,315.04 L686.21,314.44 L685.78,313.85 L685.36,313.25 L684.92,312.66 L684.49,312.06 L684.05,311.47 L683.60,310.88 L683.15,310.29 L682.70,309.70 L682.24,309.11 L681.78,308.53 L681.31,307.94 L680.84,307.36 L680.37,306.77 L679.89,306.19 L679.40,305.61 L678.92,305.03 L678.42,304.45 L677.93,303.87 L677.43,303.29 L676.92,302.71 L676.41,302.14 L675.90,301.56 L675.38,300.99 L674.86,300.42 L674.34,299.84 L673.81,299.27 L673.27,298.71 L672.74,298.14 L672.19,297.57 L671.65,297.01 L671.10,296.44 L670.54,295.88 L669.98,295.32 L669.42,294.76 L668.85,294.20 L668.28,293.64 L667.71,293.08 L667.13,292.52 L666.55,291.97 L665.96,291.42 L665.37,290.86 L664.77,290.31 L664.17,289.76 L663.57,289.22 L662.96,288.67 L662.35,288.12 L661.74,287.58 L661.12,287.04 L660.49,286.50 L659.87,285.95 L659.24,285.42 L658.60,284.88 L657.96,284.34 L657.32,283.81 L656.67,283.27 L656.02,282.74 L655.37,282.21 L654.71,281.68 L654.05,281.15 L653.38,280.63 L652.71,280.10 L652.04,279.58 L651.36,279.06 L650.68,278.54 L650.00,278.02 L649.31,277.50 L648.61,276.98 L647.92,276.47 L647.22,275.96 L646.51,275.45 L645.81,274.94 L645.10,274.43 L644.38,273.92 L643.66,273.41 L642.94,272.91 L642.21,272.41 L641.49,271.91 L640.75,271.41 L640.02,270.91 L639.28,270.42 L638.53,269.92 L637.78,269.43 L637.03,268.94 L636.28,268.45 L635.52,267.96 L634.76,267.47 L633.99,266.99 L633.22,266.51 L632.45,266.02 L631.68,265.55 L630.90,265.07 L630.11,264.59 L629.33,264.12 L628.54,263.64 L627.74,263.17 L626.95,262.70 L626.15,262.24 L625.35,261.77 L624.54,261.31 L623.73,260.84 L622.91,260.38 L622.10,259.92 L621.28,259.47 L620.45,259.01 L619.63,258.56 L618.80,258.11 L617.96,257.66 L617.13,257.21 L616.29,256.76 L615.45,256.32 L614.60,255.87 L613.75,255.43 L612.90,254.99 L612.04,254.56 L611.18,254.12 L610.32,253.69 L609.46,253.26 L608.59,252.83 L607.72,252.40 L606.84,251.97 L605.96,251.55 L605.08,251.13 L604.20,250.71 L603.31,250.29 L602.42,249.87 L601.53,249.46 L600.63,249.05 L599.73,248.64 L598.83,248.23 L597.93,247.82 L597.02,247.42 L596.11,247.01 L595.20,246.61 L594.28,246.21 L593.36,245.82 L592.44,245.42 L591.51,245.03 L590.59,244.64 L589.65,244.25 L588.72,243.86 L587.79,243.48 L586.85,243.10 L585.90,242.72 L584.96,242.34 L584.01,241.96 L583.06,241.59 L582.11,241.22 L581.15,240.84 L580.20,240.48 L579.24,240.11 L578.27,239.75 L577.31,239.38 L576.34,239.03 L575.37,238.67 L574.39,238.31 L573.42,237.96 L572.44,237.61 L571.46,237.26 L570.47,236.91 L569.49,236.57 L568.50,236.22 L567.51,235.88 L566.51,235.54 L565.52,235.21 L564.52,234.87 L563.52,234.54 L562.51,234.21 L561.51,233.88 L560.50,233.56 L559.49,233.24 L558.48,232.92 L557.46,232.60 L556.44,232.28 L555.42,231.97 L554.40,231.65 L553.38,231.34 L552.35,231.04 L551.32,230.73 L550.29,230.43 L549.26,230.13 L548.22,229.83 L547.19,229.53 L546.15,229.24 L545.10,228.94 L544.06,228.66 L543.01,228.37 L541.97,228.08 L540.92,227.80 L539.87,227.52 L538.81,227.24 L537.76,226.97 L536.70,226.69 L535.64,226.42 L534.58,226.15 L533.51,225.88 L532.45,225.62 L531.38,225.36 L530.31,225.10 L529.24,224.84 L528.17,224.59 L527.09,224.33 L526.02,224.08 L524.94,223.83 L523.86,223.59 L522.77,223.35 L521.69,223.10 L520.61,222.87 L519.52,222.63 L518.43,222.40 L517.34,222.16 L516.25,221.93 L515.15,221.71 L514.06,221.48 L512.96,221.26 L511.86,221.04 L510.76,220.82 L509.66,220.61 L508.56,220.40 L507.45,220.19 L506.35,219.98 L505.24,219.78 L504.13,219.57 L503.02,219.37 L501.91,219.17 L500.80,218.98 L499.68,218.79 L498.57,218.59 L497.45,218.41 L496.33,218.22 L495.21,218.04 L494.09,217.86 L492.97,217.68 L491.84,217.50 L490.72,217.33 L489.59,217.16 L488.46,216.99 L487.33,216.82 L486.20,216.66 L485.07,216.50 L483.94,216.34 L482.81,216.18 L481.67,216.03 L480.54,215.88 L479.40,215.73 L478.26,215.58 L477.13,215.44 L475.99,215.30 L474.85,215.16 L473.71,215.02 L472.56,214.89 L471.42,214.76 L470.28,214.63 L469.13,214.50 L467.98,214.38 L466.84,214.26 L465.69,214.14 L464.54,214.02 L463.39,213.91 L462.24,213.80 L461.09,213.69 L459.94,213.58 L458.79,213.48 L457.63,213.38 L456.48,213.28 L455.33,213.18 L454.17,213.09 L453.02,212.99 L451.86,212.91 L450.70,212.82 L449.54,212.74 L448.39,212.66 L447.23,212.58 L446.07,212.50 L444.91,212.43 L443.75,212.36 L442.59,212.29 L441.43,212.22 L440.27,212.16 L439.11,212.10 L437.94,212.04 L436.78,211.98 L435.62,211.93 L434.45,211.88 L433.29,211.83 L432.13,211.79 L430.96,211.74 L429.80,211.70 L428.63,211.66 L427.47,211.63 L426.30,211.60 L425.14,211.56 L423.97,211.54 L422.81,211.51 L421.64,211.49 L420.48,211.47 L419.31,211.45 L418.14,211.44 L416.98,211.42 L415.81,211.41 L414.65,211.41 L413.48,211.40 L412.31,211.40 L411.15,211.40 L409.98,211.40 L408.82,211.41 L407.65,211.42 L406.48,211.43 L405.32,211.44 L404.15,211.45 L402.99,211.47 L401.82,211.49 L400.66,211.52 L399.49,211.54 L398.33,211.57 L397.16,211.60 L396.00,211.63 L394.84,211.67 L393.67,211.71 L392.51,211.75 L391.35,211.79 L390.19,211.84 L389.02,211.89 L387.86,211.94 L386.70,211.99 L385.54,212.05 L384.38,212.11 L383.22,212.17 L382.06,212.23 L380.91,212.30 L379.75,212.37 L378.59,212.44 L377.43,212.51 L376.28,212.59 L375.12,212.67 L373.97,212.75 L372.81,212.84 L371.66,212.92 L370.51,213.01 L369.35,213.10 L368.20,213.20 L367.05,213.30 L365.90,213.39 L364.75,213.50 L363.60,213.60 L362.46,213.71 L361.31,213.82 L360.16,213.93 L359.02,214.04 L357.87,214.16 L356.73,214.28 L355.59,214.40 L354.45,214.53 L353.31,214.65 L352.17,214.78 L351.03,214.91 L349.89,215.05 L348.76,215.19 L347.62,215.32 L346.49,215.47 L345.35,215.61 L344.22,215.76 L343.09,215.91 L341.96,216.06 L340.83,216.21 L339.70,216.37 L338.58,216.53 L337.45,216.69 L336.33,216.85 L335.21,217.02 L334.09,217.19 L332.97,217.36 L331.85,217.54 L330.73,217.71 L329.61,217.89 L328.50,218.07 L327.39,218.26 L326.27,218.44 L325.16,218.63 L324.06,218.82 L322.95,219.02 L321.84,219.21 L320.74,219.41 L319.63,219.61 L318.53,219.81 L317.43,220.02 L316.33,220.23 L315.24,220.44 L314.14,220.65 L313.05,220.87 L311.96,221.08 L310.87,221.30 L309.78,221.53 L308.69,221.75 L307.61,221.98 L306.52,222.21 L305.44,222.44 L304.36,222.67 L303.28,222.91 L302.21,223.15 L301.13,223.39 L300.06,223.64 L298.99,223.88 L297.92,224.13 L296.85,224.38 L295.79,224.63 L294.72,224.89 L293.66,225.15 L292.60,225.41 L291.54,225.67 L290.49,225.94 L289.43,226.20 L288.38,226.47 L287.33,226.74 L286.29,227.02 L285.24,227.29 L284.20,227.57 L283.16,227.85 L282.12,228.14 L281.08,228.42 L280.04,228.71 L279.01,229.00 L277.98,229.29 L276.95,229.59 L275.93,229.88 L274.90,230.18 L273.88,230.49 L272.86,230.79 L271.84,231.09 L270.83,231.40 L269.82,231.71 L268.80,232.03 L267.80,232.34 L266.79,232.66 L265.79,232.98 L264.79,233.30 L263.79,233.62 L262.79,233.95 L261.80,234.28 L260.81,234.61 L259.82,234.94 L258.83,235.27 L257.85,235.61 L256.87,235.95 L255.89,236.29 L254.91,236.63 L253.94,236.98 L252.97,237.33 L252.00,237.67 L251.03,238.03 L250.07,238.38 L249.11,238.74 L248.15,239.09 L247.20,239.45 L246.25,239.82 L245.30,240.18 L244.35,240.55 L243.40,240.92 L242.46,241.29 L241.52,241.66 L240.59,242.03 L239.65,242.41 L238.72,242.79 L237.80,243.17 L236.87,243.55 L235.95,243.94 L235.03,244.33 L234.11,244.71 L233.20,245.11 L232.29,245.50 L231.38,245.89 L230.48,246.29 L229.58,246.69 L228.68,247.09 L227.78,247.49 L226.89,247.90 L226.00,248.31 L225.11,248.71 L224.23,249.13 L223.35,249.54 L222.47,249.95 L221.60,250.37 L220.73,250.79 L219.86,251.21 L218.99,251.63 L218.13,252.06 L217.27,252.48 L216.42,252.91 L215.57,253.34 L214.72,253.77 L213.87,254.21 L213.03,254.64 L212.19,255.08 L211.35,255.52 L210.52,255.96 L209.69,256.40 L208.86,256.85 L208.04,257.29 L207.22,257.74 L206.40,258.19 L205.59,258.65 L204.78,259.10 L203.97,259.55 L203.17,260.01 L202.37,260.47 L201.57,260.93 L200.78,261.40 L199.99,261.86 L199.21,262.33 L198.42,262.79 L197.65,263.26 L196.87,263.73 L196.10,264.21 L195.33,264.68 L194.56,265.16 Z"/>
</g>
<path d="M713.75,389.35 L713.57,389.84 L713.39,390.33 L713.22,390.82 L713.03,391.31 L712.85,391.80 L712.66,392.29 L712.47,392.77 L712.28,393.26 L712.08,393.74 L711.89,394.22 L711.69,394.71 L711.48,395.19 L711.28,395.67 L711.07,396.14 L710.86,396.62 L710.65,397.10 L710.43,397.57 L710.21,398.05 L709.99,398.52 L709.77,398.99 L709.54,399.46 L709.32,399.93 L709.09,400.40 L708.93,400.89 L708.77,401.39 L708.62,401.88 L708.46,402.37 L708.30,402.86 L708.13,403.35 L707.96,403.85 L707.79,404.34 L707.62,404.83 L707.45,405.32 L707.27,405.81 L707.09,406.30 L706.90,406.79 L706.72,407.28 L706.53,407.77 L706.34,408.26 L706.15,408.74 L705.95,409.23 L705.75,409.72 L705.55,410.21 L705.34,410.70 L705.14,411.18 L704.93,411.67 L704.72,412.16 L704.50,412.64 L704.28,413.13 L704.06,413.61 L703.84,414.10 L703.62,414.58 L703.39,415.07 L703.16,415.55 L702.92,416.03 L702.69,416.52 L702.45,417.00 L702.21,417.48 L701.97,417.97 L701.72,418.45 L701.47,418.93 L701.22,419.41 L700.97,419.89 L700.71,420.37 L700.45,420.85 L700.19,421.33 L699.92,421.81 L699.66,422.29 L699.39,422.76 L699.12,423.24 L698.84,423.72 L698.56,424.20 L698.28,424.67 L698.00,425.15 L697.72,425.62 L697.43,426.10 L697.14,426.57 L696.85,427.05 L696.55,427.52 L696.25,427.99 L695.95,428.47 L695.65,428.94 L695.34,429.41 L695.04,429.88 L694.73,430.35 L694.41,430.82 L694.10,431.29 L693.78,431.76 L693.46,432.23 L693.13,432.70 L692.81,433.16 L692.48,433.63 L692.15,434.10 L691.82,434.56 L691.48,435.03 L691.14,435.49 L690.80,435.96 L690.46,436.42 L690.11,436.89 L689.76,437.35 L689.41,437.81 L689.06,438.27 L688.70,438.73 L688.34,439.19 L687.98,439.65 L687.62,440.11 L687.25,440.57 L686.88,441.03 L686.51,441.49 L686.14,441.94 L685.76,442.40 L685.38,442.86 L685.00,443.31 L684.62,443.76 L684.23,444.22 L683.84,444.67 L683.45,445.12 L683.06,445.58 L682.66,446.03 L682.27,446.48 L681.87,446.93 L681.46,447.38 L681.06,447.83 L680.65,448.27 L680.24,448.72 L679.83,449.17 L679.41,449.61 L678.99,450.06 L678.57,450.50 L678.15,450.95 L677.72,451.39 L677.30,451.83 L676.87,452.27 L676.44,452.71 L676.00,453.15 L675.56,453.59 L675.12,454.03 L674.68,454.47 L674.24,454.91 L673.79,455.35 L673.34,455.78 L672.89,456.22 L672.44,456.65 L671.98,457.08 L671.52,457.52 L671.06,457.95 L670.60,458.38 L670.14,458.81 L669.67,459.24 L669.20,459.67 L668.73,460.10 L668.25,460.53 L667.77,460.95 L667.29,461.38 L666.81,461.80 L666.33,462.23 L665.84,462.65 L665.35,463.07 L664.86,463.50 L664.37,463.92 L663.87,464.34 L663.38,464.76 L662.88,465.18 L662.37,465.59 L661.87,466.01 L661.36,466.43 L660.85,466.84 L660.34,467.26 L659.83,467.67 L659.31,468.08 L658.79,468.49 L658.27,468.91 L657.75,469.32 L657.23,469.72 L656.70,470.13 L656.17,470.54 L655.64,470.95 L655.11,471.35 L654.57,471.76 L654.03,472.16 L653.49,472.56 L652.95,472.97 L652.40,473.37 L651.86,473.77 L651.31,474.17 L650.76,474.57 L650.20,474.96 L649.65,475.36 L649.09,475.76 L648.53,476.15 L647.97,476.54 L647.41,476.94 L646.84,477.33 L646.27,477.72 L645.70,478.11 L645.13,478.50 L644.55,478.89 L643.98,479.27 L643.40,479.66 L642.82,480.05 L642.23,480.43 L641.65,480.81 L641.06,481.19 L640.47,481.58 L639.88,481.96 L639.29,482.34 L638.69,482.71 L638.09,483.09 L637.49,483.47 L636.89,483.84 L636.29,484.22 L635.68,484.59 L635.07,484.96 L634.46,485.33 L633.85,485.70 L633.24,486.07 L632.62,486.44 L632.00,486.81 L631.38,487.17 L630.76,487.54 L630.14,487.90 L629.51,488.27 L628.89,488.63 L628.26,488.99 L627.62,489.35 L626.99,489.71 L626.35,490.06 L625.72,490.42 L625.08,490.78 L624.44,491.13 L623.79,491.48 L623.15,491.84 L622.50,492.19 L621.85,492.54 L621.20,492.88 L620.55,493.23 L619.89,493.58 L619.24,493.92 L618.58,494.27 L617.92,494.61 L617.25,494.95 L616.59,495.30 L615.92,495.64 L615.26,495.97 L614.59,496.31 L613.91,496.65 L613.24,496.98 L612.57,497.32 L611.89,497.65 L611.21,497.98 L610.53,498.31 L609.85,498.64 L609.16,498.97 L608.48,499.30 L607.79,499.63 L607.10,499.95 L606.41,500.28 L605.71,500.60 L605.02,500.92 L604.32,501.24 L603.62,501.56 L602.92,501.88 L602.22,502.19 L601.52,502.51 L600.81,502.82 L600.11,503.14 L599.40,503.45 L598.69,503.76 L597.98,504.07 L597.26,504.38 L596.55,504.69 L595.83,504.99 L595.11,505.30 L594.39,505.60 L593.67,505.90 L592.94,506.20 L592.22,506.50 L591.49,506.80 L590.76,507.10 L590.03,507.40 L589.30,507.69 L588.57,507.99 L587.83,508.28 L587.10,508.57 L586.36,508.86 L585.62,509.15 L584.88,509.44 L584.13,509.72 L583.39,510.01 L582.64,510.29 L581.90,510.57 L581.15,510.85 L580.40,511.13 L579.64,511.41 L578.89,511.69 L578.14,511.97 L577.38,512.24 L576.62,512.52 L575.86,512.79 L575.10,513.06 L574.34,513.33 L573.57,513.60 L572.81,513.86 L572.04,514.13 L571.27,514.39 L570.50,514.66 L569.73,514.92 L568.96,515.18 L568.18,515.44 L567.41,515.70 L566.63,515.95 L565.85,516.21 L565.07,516.46 L566.28,520.17 L567.07,519.92 L567.85,519.66 L568.64,519.40 L569.42,519.14 L570.20,518.88 L570.98,518.61 L571.76,518.35 L572.54,518.08 L573.31,517.82 L574.09,517.55 L574.86,517.28 L575.63,517.01 L576.40,516.73 L577.17,516.46 L577.94,516.19 L578.71,515.91 L579.47,515.63 L580.23,515.35 L581.00,515.07 L581.76,514.79 L582.51,514.51 L583.27,514.22 L584.03,513.94 L584.78,513.65 L585.53,513.36 L586.28,513.07 L587.03,512.78 L587.78,512.49 L588.53,512.20 L589.27,511.90 L590.01,511.61 L590.76,511.31 L591.50,511.01 L592.23,510.71 L592.97,510.41 L593.71,510.11 L594.44,509.81 L595.17,509.50 L595.90,509.20 L596.63,508.89 L597.36,508.58 L598.08,508.27 L598.81,507.96 L599.53,507.65 L600.25,507.34 L600.97,507.02 L601.68,506.71 L602.40,506.39 L603.11,506.07 L603.82,505.75 L604.53,505.43 L605.24,505.11 L605.95,504.79 L606.65,504.46 L607.36,504.14 L608.06,503.81 L608.76,503.48 L609.46,503.15 L610.15,502.82 L610.85,502.49 L611.54,502.16 L612.23,501.82 L612.92,501.49 L613.61,501.15 L614.29,500.82 L614.98,500.48 L615.66,500.14 L616.34,499.80 L617.02,499.45 L617.69,499.11 L618.37,498.77 L619.04,498.42 L619.71,498.08 L620.38,497.73 L621.05,497.38 L621.71,497.03 L622.38,496.68 L623.04,496.32 L623.70,495.97 L624.35,495.62 L625.01,495.26 L625.66,494.90 L626.32,494.55 L626.97,494.19 L627.62,493.83 L628.26,493.47 L628.91,493.10 L629.55,492.74 L630.19,492.37 L630.83,492.01 L631.46,491.64 L632.10,491.27 L632.73,490.90 L633.36,490.53 L633.99,490.16 L634.62,489.79 L635.24,489.42 L635.87,489.04 L636.49,488.67 L637.11,488.29 L637.72,487.91 L638.34,487.53 L638.95,487.15 L639.56,486.77 L640.17,486.39 L640.78,486.01 L641.38,485.62 L641.98,485.24 L642.58,484.85 L643.18,484.47 L643.78,484.08 L644.37,483.69 L644.97,483.30 L645.56,482.91 L646.14,482.52 L646.73,482.12 L647.31,481.73 L647.90,481.33 L648.48,480.94 L649.05,480.54 L649.63,480.14 L650.20,479.74 L650.77,479.34 L651.34,478.94 L651.91,478.54 L652.48,478.13 L653.04,477.73 L653.60,477.32 L654.16,476.92 L654.71,476.51 L655.27,476.10 L655.82,475.69 L656.37,475.28 L656.92,474.87 L657.46,474.46 L658.00,474.05 L658.55,473.63 L659.08,473.22 L659.62,472.80 L660.15,472.39 L660.69,471.97 L661.22,471.55 L661.74,471.13 L662.27,470.71 L662.79,470.29 L663.31,469.87 L663.83,469.45 L664.35,469.02 L664.86,468.60 L665.38,468.17 L665.88,467.74 L666.39,467.32 L666.90,466.89 L667.40,466.46 L667.90,466.03 L668.40,465.60 L668.89,465.17 L669.39,464.73 L669.88,464.30 L670.37,463.86 L670.86,463.43 L671.34,462.99 L671.82,462.56 L672.30,462.12 L672.78,461.68 L673.25,461.24 L673.73,460.80 L674.20,460.36 L674.67,459.92 L675.13,459.47 L675.59,459.03 L676.06,458.58 L676.51,458.14 L676.97,457.69 L677.42,457.25 L677.88,456.80 L678.32,456.35 L678.77,455.90 L679.22,455.45 L679.66,455.00 L680.10,454.55 L680.53,454.09 L680.97,453.64 L681.40,453.19 L681.83,452.73 L682.26,452.28 L682.68,451.82 L683.11,451.36 L683.53,450.90 L683.94,450.45 L684.36,449.99 L684.77,449.53 L685.18,449.07 L685.59,448.60 L686.00,448.14 L686.40,447.68 L686.80,447.22 L687.20,446.75 L687.59,446.29 L687.99,445.82 L688.38,445.35 L688.77,444.89 L689.15,444.42 L689.53,443.95 L689.92,443.48 L690.29,443.01 L690.67,442.54 L691.04,442.07 L691.41,441.60 L691.78,441.12 L692.15,440.65 L692.51,440.18 L692.87,439.70 L693.23,439.23 L693.58,438.75 L693.94,438.27 L694.29,437.80 L694.64,437.32 L694.98,436.84 L695.32,436.36 L695.66,435.88 L696.00,435.40 L696.34,434.92 L696.67,434.44 L697.00,433.96 L697.33,433.47 L697.65,432.99 L697.98,432.51 L698.30,432.02 L698.61,431.54 L698.93,431.05 L699.24,430.57 L699.55,430.08 L699.86,429.59 L700.16,429.10 L700.46,428.61 L700.76,428.13 L701.06,427.64 L701.35,427.15 L701.64,426.66 L701.93,426.16 L702.22,425.67 L702.50,425.18 L702.78,424.69 L703.06,424.19 L703.33,423.70 L703.61,423.21 L703.88,422.71 L704.14,422.22 L704.41,421.72 L704.67,421.22 L704.93,420.73 L705.19,420.23 L705.44,419.73 L705.69,419.23 L705.94,418.73 L706.19,418.24 L706.43,417.74 L706.67,417.24 L706.91,416.74 L707.15,416.23 L707.38,415.73 L707.61,415.23 L707.84,414.73 L708.06,414.23 L708.29,413.72 L708.51,413.22 L708.72,412.72 L708.94,412.21 L709.15,411.71 L709.36,411.20 L709.56,410.70 L709.77,410.19 L709.97,409.68 L710.17,409.18 L710.36,408.67 L710.55,408.16 L710.74,407.66 L710.93,407.15 L711.12,406.64 L711.30,406.13 L711.48,405.62 L711.65,405.11 L711.83,404.60 L712.00,404.09 L712.17,403.58 L712.33,403.07 L712.49,402.56 L712.65,402.05 L712.80,401.53 L712.88,401.00 L712.95,400.46 L713.01,399.93 L713.08,399.39 L713.14,398.86 L713.20,398.32 L713.25,397.79 L713.30,397.26 L713.35,396.73 L713.40,396.20 L713.44,395.66 L713.48,395.14 L713.52,394.61 L713.56,394.08 L713.59,393.55 L713.62,393.02 L713.65,392.50 L713.67,391.97 L713.69,391.44 L713.71,390.92 L713.72,390.40 L713.74,389.87 L713.75,389.35 Z" fill="#000"/>
<g fill="none" stroke="#000" stroke-width="3.9" stroke-linejoin="miter" stroke-linecap="butt">
<path d="M557.97,509.59 L565.68,518.32 L565.68,576.86"/>
</g>
<circle cx="411" cy="289" r="127" fill="#fff" stroke="#000" stroke-width="4"/>
<line x1="352.9" y1="308.3" x2="352.9" y2="358.9" stroke="#000" stroke-width="6" stroke-linecap="round"/>
<g fill="#fff">
<path d="M182.20,404.46 L181.53,404.99 L180.87,405.53 L180.21,406.07 L179.56,406.61 L178.91,407.15 L178.26,407.69 L177.62,408.24 L176.98,408.78 L176.34,409.33 L175.71,409.88 L175.09,410.43 L174.47,410.99 L173.85,411.54 L173.24,412.10 L172.63,412.65 L172.03,413.21 L171.43,413.77 L170.83,414.34 L170.24,414.90 L169.65,415.46 L169.07,416.03 L168.49,416.60 L167.92,417.17 L167.35,417.74 L166.78,418.31 L166.22,418.89 L165.67,419.46 L165.12,420.04 L164.57,420.62 L164.03,421.20 L163.49,421.78 L162.95,422.36 L162.42,422.94 L161.90,423.53 L161.38,424.11 L160.86,424.70 L160.35,425.29 L159.84,425.88 L159.34,426.47 L158.84,427.07 L158.35,427.66 L157.86,428.26 L157.38,428.85 L156.90,429.45 L156.42,430.05 L155.95,430.65 L155.49,431.25 L155.02,431.86 L154.57,432.46 L154.11,433.06 L153.67,433.67 L153.22,434.28 L152.78,434.89 L152.35,435.50 L151.92,436.11 L151.50,436.72 L151.08,437.34 L150.66,437.95 L150.25,438.57 L149.84,439.18 L149.44,439.80 L149.05,440.42 L148.65,441.04 L148.27,441.66 L147.89,442.29 L147.51,442.91 L147.13,443.53 L146.77,444.16 L146.40,444.79 L146.04,445.41 L145.69,446.04 L145.34,446.67 L144.99,447.30 L144.65,447.93 L144.32,448.57 L143.99,449.20 L143.66,449.83 L143.34,450.47 L143.03,451.10 L142.71,451.74 L142.41,452.38 L142.11,453.02 L141.81,453.66 L141.52,454.30 L141.23,454.94 L140.95,455.58 L140.67,456.23 L140.40,456.87 L140.13,457.51 L139.86,458.16 L139.61,458.81 L139.35,459.45 L139.10,460.10 L138.86,460.75 L138.62,461.40 L138.39,462.05 L138.16,462.70 L137.93,463.35 L137.71,464.00 L137.50,464.66 L137.29,465.31 L137.08,465.96 L136.88,466.62 L136.69,467.28 L136.50,467.93 L136.31,468.59 L136.13,469.25 L135.95,469.90 L135.78,470.56 L135.62,471.22 L135.46,471.88 L135.30,472.54 L135.15,473.20 L135.00,473.86 L134.86,474.53 L134.73,475.19 L134.59,475.85 L134.47,476.52 L134.35,477.18 L134.23,477.85 L134.12,478.51 L134.01,479.18 L133.91,479.84 L133.81,480.51 L133.72,481.17 L133.63,481.84 L133.55,482.51 L133.47,483.18 L133.40,483.85 L133.33,484.52 L133.27,485.18 L133.21,485.85 L133.16,486.52 L133.11,487.19 L133.07,487.86 L133.03,488.54 L133.00,489.21 L132.97,489.88 L132.95,490.55 L132.93,491.22 L132.92,491.89 L132.91,492.57 L132.90,493.24 L132.91,493.91 L132.91,494.58 L132.93,495.26 L132.94,495.93 L132.96,496.61 L132.99,497.28 L133.02,497.95 L133.06,498.63 L133.10,499.30 L133.15,499.98 L133.20,500.65 L133.25,501.32 L133.31,502.00 L133.38,502.67 L133.45,503.35 L133.53,504.02 L133.61,504.70 L133.69,505.37 L133.78,506.05 L133.88,506.72 L133.98,507.40 L134.09,508.07 L134.20,508.75 L134.31,509.42 L134.43,510.10 L134.56,510.77 L134.69,511.45 L134.82,512.12 L134.96,512.80 L135.11,513.47 L135.26,514.15 L135.41,514.82 L135.57,515.49 L135.74,516.17 L135.91,516.84 L136.08,517.52 L136.26,518.19 L136.44,518.86 L136.63,519.54 L136.83,520.21 L137.03,520.88 L137.23,521.55 L137.44,522.23 L137.65,522.90 L137.87,523.57 L138.09,524.24 L138.32,524.91 L138.55,525.58 L138.55,525.59 L138.79,524.93 L139.04,524.27 L139.29,523.61 L139.55,522.96 L139.81,522.30 L140.07,521.65 L140.34,520.99 L140.62,520.34 L140.90,519.69 L141.19,519.04 L141.48,518.39 L141.77,517.74 L142.07,517.09 L142.38,516.44 L142.69,515.80 L143.00,515.15 L143.32,514.50 L143.65,513.86 L143.98,513.22 L144.31,512.58 L144.65,511.93 L145.00,511.29 L145.35,510.66 L145.70,510.02 L146.06,509.38 L146.43,508.74 L146.79,508.11 L147.17,507.47 L147.55,506.84 L147.93,506.21 L148.32,505.58 L148.71,504.95 L149.11,504.32 L149.51,503.69 L149.92,503.07 L150.33,502.44 L150.75,501.82 L151.17,501.19 L151.60,500.57 L152.03,499.95 L152.47,499.33 L152.91,498.71 L153.36,498.10 L153.81,497.48 L154.26,496.87 L154.72,496.25 L155.19,495.64 L155.66,495.03 L156.13,494.42 L156.61,493.81 L157.09,493.20 L157.58,492.60 L158.07,491.99 L158.57,491.39 L159.07,490.79 L159.58,490.19 L160.09,489.59 L160.61,488.99 L161.13,488.40 L161.66,487.80 L162.19,487.21 L162.72,486.61 L163.26,486.02 L163.80,485.43 L164.35,484.85 L164.91,484.26 L165.46,483.67 L166.03,483.09 L166.59,482.51 L167.16,481.93 L167.74,481.35 L168.32,480.77 L168.90,480.19 L169.49,479.62 L170.09,479.05 L170.68,478.47 L171.29,477.90 L171.89,477.34 L172.51,476.77 L173.12,476.20 L173.74,475.64 L174.37,475.08 L175.00,474.52 L175.63,473.96 L176.27,473.40 L176.91,472.84 L177.55,472.29 L178.21,471.74 L178.86,471.18 L179.52,470.64 L180.18,470.09 L180.85,469.54 L181.52,469.00 L182.20,468.46 Z"/><path d="M122.44,498.97 L122.44,499.82 L122.45,500.66 L122.47,501.51 L122.49,502.36 L122.52,503.21 L122.56,504.05 L122.61,504.90 L122.66,505.75 L122.72,506.59 L122.78,507.44 L122.85,508.28 L122.93,509.13 L123.02,509.97 L123.11,510.81 L123.21,511.65 L123.32,512.50 L123.43,513.34 L123.55,514.18 L123.68,515.02 L123.81,515.86 L123.95,516.70 L124.10,517.53 L124.25,518.37 L124.42,519.21 L124.58,520.04 L124.76,520.88 L124.94,521.71 L125.13,522.55 L125.32,523.38 L125.53,524.21 L125.74,525.05 L125.95,525.88 L126.17,526.71 L126.40,527.54 L126.64,528.36 L126.88,529.19 L127.13,530.02 L127.39,530.84 L127.65,531.67 L127.92,532.49 L128.20,533.32 L128.48,534.14 L128.77,534.96 L129.07,535.78 L129.38,536.60 L129.69,537.42 L130.00,538.24 L130.33,539.05 L130.66,539.87 L131.00,540.68 L131.34,541.50 L131.69,542.31 L132.05,543.12 L132.42,543.93 L132.79,544.74 L133.17,545.55 L133.55,546.35 L133.94,547.16 L134.34,547.96 L134.75,548.77 L135.16,549.57 L135.58,550.37 L136.00,551.17 L136.43,551.97 L136.87,552.77 L137.32,553.56 L137.77,554.36 L138.23,555.15 L138.69,555.95 L139.16,556.74 L139.64,557.53 L140.13,558.32 L140.62,559.10 L141.11,559.89 L141.62,560.67 L142.13,561.46 L142.65,562.24 L143.17,563.02 L143.70,563.80 L144.24,564.58 L144.78,565.35 L145.33,566.13 L145.89,566.90 L146.45,567.67 L147.02,568.44 L147.60,569.21 L148.18,569.98 L148.77,570.75 L149.37,571.51 L149.97,572.27 L150.58,573.03 L151.19,573.79 L151.81,574.55 L152.44,575.31 L153.07,576.06 L153.71,576.82 L154.36,577.57 L155.01,578.32 L155.67,579.07 L156.34,579.81 L157.01,580.56 L157.69,581.30 L158.37,582.05 L159.06,582.79 L159.76,583.52 L160.46,584.26 L161.17,585.00 L161.89,585.73 L162.61,586.46 L163.34,587.19 L164.07,587.92 L164.82,588.64 L165.56,589.37 L166.32,590.09 L167.08,590.81 L167.84,591.53 L168.61,592.25 L169.39,592.96 L170.17,593.67 L170.96,594.39 L171.76,595.10 L172.56,595.80 L173.37,596.51 L174.18,597.21 L175.00,597.91 L175.83,598.61 L176.66,599.31 L177.50,600.01 L178.35,600.70 L179.20,601.39 L180.05,602.08 L180.91,602.77 L181.78,603.45 L182.66,604.14 L183.54,604.82 L184.42,605.50 L185.31,606.18 L186.21,606.85 L187.11,607.52 L188.02,608.20 L188.94,608.86 L189.86,609.53 L190.79,610.20 L191.72,610.86 L192.66,611.52 L193.60,612.18 L194.55,612.83 L195.51,613.49 L196.47,614.14 L197.43,614.79 L198.40,615.43 L199.38,616.08 L200.37,616.72 L201.36,617.36 L202.35,618.00 L203.35,618.63 L204.36,619.27 L205.37,619.90 L206.38,620.53 L207.41,621.15 L208.43,621.78 L209.47,622.40 L210.51,623.02 L211.55,623.63 L212.60,624.25 L213.66,624.86 L214.72,625.47 L215.78,626.08 L216.85,626.68 L217.93,627.29 L219.01,627.89 L220.10,628.48 L221.19,629.08 L222.29,629.67 L223.39,630.26 L224.50,630.85 L225.62,631.43 L226.73,632.02 L227.86,632.60 L228.99,633.18 L230.12,633.75 L231.26,634.32 L232.41,634.89 L233.56,635.46 L234.71,636.03 L235.87,636.59 L237.03,637.15 L238.20,637.70 L239.38,638.26 L240.56,638.81 L241.74,639.36 L242.93,639.91 L244.13,640.45 L245.33,640.99 L246.53,641.53 L247.74,642.07 L248.95,642.60 L250.17,643.13 L251.40,643.66 L252.63,644.18 L253.86,644.71 L255.10,645.23 L256.34,645.74 L257.59,646.26 L258.84,646.77 L260.10,647.28 L261.36,647.79 L262.62,648.29 L263.89,648.79 L265.17,649.29 L266.45,649.78 L267.73,650.27 L269.02,650.76 L270.32,651.25 L271.61,651.73 L272.92,652.21 L274.22,652.69 L275.53,653.17 L276.85,653.64 L278.17,654.11 L279.49,654.58 L280.82,655.04 L282.15,655.50 L283.49,655.96 L284.83,656.41 L286.18,656.87 L287.53,657.31 L288.88,657.76 L290.24,658.20 L291.60,658.64 L292.97,659.08 L294.34,659.52 L295.72,659.95 L295.72,725.95 L294.34,725.52 L292.97,725.08 L291.60,724.64 L290.24,724.20 L288.88,723.76 L287.53,723.31 L286.18,722.87 L284.83,722.41 L283.49,721.96 L282.15,721.50 L280.82,721.04 L279.49,720.58 L278.17,720.11 L276.85,719.64 L275.53,719.17 L274.22,718.69 L272.92,718.21 L271.61,717.73 L270.32,717.25 L269.02,716.76 L267.73,716.27 L266.45,715.78 L265.17,715.29 L263.89,714.79 L262.62,714.29 L261.36,713.79 L260.10,713.28 L258.84,712.77 L257.59,712.26 L256.34,711.74 L255.10,711.23 L253.86,710.71 L252.63,710.18 L251.40,709.66 L250.17,709.13 L248.95,708.60 L247.74,708.07 L246.53,707.53 L245.33,706.99 L244.13,706.45 L242.93,705.91 L241.74,705.36 L240.56,704.81 L239.38,704.26 L238.20,703.70 L237.03,703.15 L235.87,702.59 L234.71,702.03 L233.56,701.46 L232.41,700.89 L231.26,700.32 L230.12,699.75 L228.99,699.18 L227.86,698.60 L226.73,698.02 L225.62,697.43 L224.50,696.85 L223.39,696.26 L222.29,695.67 L221.19,695.08 L220.10,694.48 L219.01,693.89 L217.93,693.29 L216.85,692.68 L215.78,692.08 L214.72,691.47 L213.66,690.86 L212.60,690.25 L211.55,689.63 L210.51,689.02 L209.47,688.40 L208.43,687.78 L207.41,687.15 L206.38,686.53 L205.37,685.90 L204.36,685.27 L203.35,684.63 L202.35,684.00 L201.36,683.36 L200.37,682.72 L199.38,682.08 L198.40,681.43 L197.43,680.79 L196.47,680.14 L195.51,679.49 L194.55,678.83 L193.60,678.18 L192.66,677.52 L191.72,676.86 L190.79,676.20 L189.86,675.53 L188.94,674.86 L188.02,674.20 L187.11,673.52 L186.21,672.85 L185.31,672.18 L184.42,671.50 L183.54,670.82 L182.66,670.14 L181.78,669.45 L180.91,668.77 L180.05,668.08 L179.20,667.39 L178.35,666.70 L177.50,666.01 L176.66,665.31 L175.83,664.61 L175.00,663.91 L174.18,663.21 L173.37,662.51 L172.56,661.80 L171.76,661.10 L170.96,660.39 L170.17,659.67 L169.39,658.96 L168.61,658.25 L167.84,657.53 L167.08,656.81 L166.32,656.09 L165.56,655.37 L164.82,654.64 L164.07,653.92 L163.34,653.19 L162.61,652.46 L161.89,651.73 L161.17,651.00 L160.46,650.26 L159.76,649.52 L159.06,648.79 L158.37,648.05 L157.69,647.30 L157.01,646.56 L156.34,645.81 L155.67,645.07 L155.01,644.32 L154.36,643.57 L153.71,642.82 L153.07,642.06 L152.44,641.31 L151.81,640.55 L151.19,639.79 L150.58,639.03 L149.97,638.27 L149.37,637.51 L148.77,636.75 L148.18,635.98 L147.60,635.21 L147.02,634.44 L146.45,633.67 L145.89,632.90 L145.33,632.13 L144.78,631.35 L144.24,630.58 L143.70,629.80 L143.17,629.02 L142.65,628.24 L142.13,627.46 L141.62,626.67 L141.11,625.89 L140.62,625.10 L140.13,624.32 L139.64,623.53 L139.16,622.74 L138.69,621.95 L138.23,621.15 L137.77,620.36 L137.32,619.56 L136.87,618.77 L136.43,617.97 L136.00,617.17 L135.58,616.37 L135.16,615.57 L134.75,614.77 L134.34,613.96 L133.94,613.16 L133.55,612.35 L133.17,611.55 L132.79,610.74 L132.42,609.93 L132.05,609.12 L131.69,608.31 L131.34,607.50 L131.00,606.68 L130.66,605.87 L130.33,605.05 L130.00,604.24 L129.69,603.42 L129.38,602.60 L129.07,601.78 L128.77,600.96 L128.48,600.14 L128.20,599.32 L127.92,598.49 L127.65,597.67 L127.39,596.84 L127.13,596.02 L126.88,595.19 L126.64,594.36 L126.40,593.54 L126.17,592.71 L125.95,591.88 L125.74,591.05 L125.53,590.21 L125.32,589.38 L125.13,588.55 L124.94,587.71 L124.76,586.88 L124.58,586.04 L124.42,585.21 L124.25,584.37 L124.10,583.53 L123.95,582.70 L123.81,581.86 L123.68,581.02 L123.55,580.18 L123.43,579.34 L123.32,578.50 L123.21,577.65 L123.11,576.81 L123.02,575.97 L122.93,575.13 L122.85,574.28 L122.78,573.44 L122.72,572.59 L122.66,571.75 L122.61,570.90 L122.56,570.05 L122.52,569.21 L122.49,568.36 L122.47,567.51 L122.45,566.66 L122.44,565.82 L122.44,564.97 Z"/><path d="M295.70,660.00 L303.70,652.50 L303.70,716.40 L295.70,726.10 Z"/><path d="M170.57,398.84 L169.79,399.63 L169.01,400.43 L168.24,401.22 L167.47,402.02 L166.71,402.82 L165.95,403.62 L165.20,404.42 L164.46,405.22 L163.72,406.03 L162.99,406.83 L162.27,407.64 L161.55,408.44 L160.84,409.25 L160.13,410.06 L159.43,410.87 L158.74,411.68 L158.05,412.49 L157.37,413.31 L156.70,414.12 L156.03,414.94 L155.37,415.75 L154.71,416.57 L154.06,417.39 L153.42,418.21 L152.78,419.03 L152.15,419.85 L151.53,420.67 L150.91,421.49 L150.30,422.32 L149.70,423.14 L149.10,423.97 L148.51,424.79 L147.92,425.62 L147.34,426.45 L146.77,427.28 L146.20,428.11 L145.64,428.94 L145.09,429.77 L144.54,430.60 L144.00,431.43 L143.47,432.27 L142.94,433.10 L142.42,433.93 L141.91,434.77 L141.40,435.61 L140.90,436.44 L140.41,437.28 L139.92,438.12 L139.44,438.96 L138.96,439.80 L138.50,440.64 L138.03,441.48 L137.58,442.32 L137.13,443.16 L136.69,444.00 L136.25,444.84 L135.83,445.69 L135.40,446.53 L134.99,447.38 L134.58,448.22 L134.18,449.06 L133.78,449.91 L133.40,450.76 L133.01,451.60 L132.64,452.45 L132.27,453.30 L131.91,454.14 L131.55,454.99 L131.21,455.84 L130.86,456.69 L130.53,457.54 L130.20,458.39 L129.88,459.24 L129.57,460.09 L129.26,460.94 L128.96,461.79 L128.66,462.64 L128.37,463.49 L128.09,464.34 L127.82,465.19 L127.55,466.04 L127.29,466.89 L127.04,467.75 L126.79,468.60 L126.55,469.45 L126.32,470.30 L126.09,471.15 L125.87,472.01 L125.66,472.86 L125.45,473.71 L125.25,474.56 L125.06,475.42 L124.87,476.27 L124.69,477.12 L124.52,477.97 L124.36,478.83 L124.20,479.68 L124.05,480.53 L123.90,481.38 L123.76,482.24 L123.63,483.09 L123.51,483.94 L123.39,484.79 L123.28,485.64 L123.18,486.50 L123.08,487.35 L122.99,488.20 L122.90,489.05 L122.83,489.90 L122.76,490.75 L122.70,491.60 L122.64,492.45 L122.59,493.30 L122.55,494.15 L122.51,495.00 L122.48,495.85 L122.46,496.70 L122.45,497.55 L122.44,498.40 L122.44,499.25 L122.44,500.09 L122.46,500.94 L122.48,501.79 L122.50,502.63 L122.53,503.48 L122.57,504.32 L122.62,505.17 L122.68,506.01 L122.74,506.86 L122.80,507.70 L122.88,508.54 L122.96,509.39 L123.05,510.23 L123.14,511.07 L123.24,511.91 L123.35,512.75 L123.47,513.59 L123.59,514.43 L123.72,515.27 L123.85,516.11 L124.00,516.95 L124.14,517.78 L124.30,518.62 L124.46,519.45 L124.63,520.29 L124.81,521.12 L124.99,521.96 L125.18,522.79 L125.38,523.62 L125.59,524.45 L125.80,525.28 L126.01,526.11 L126.24,526.94 L126.47,527.77 L126.71,528.59 L126.95,529.42 L127.20,530.25 L127.46,531.07 L127.73,531.89 L128.00,532.72 L128.28,533.54 L128.56,534.36 L128.85,535.18 L129.15,536.00 L129.46,536.82 L129.77,537.63 L130.09,538.45 L130.42,539.26 L130.75,540.08 L131.09,540.89 L131.43,541.70 L131.79,542.51 L132.14,543.32 L132.51,544.13 L132.88,544.94 L133.26,545.75 L133.65,546.55 L134.04,547.36 L134.44,548.16 L134.85,548.96 L135.26,549.76 L135.68,550.56 L136.10,551.36 L136.54,552.16 L136.98,552.96 L137.42,553.75 L137.88,554.54 L138.33,555.34 L138.80,556.13 L139.27,556.92 L139.75,557.71 L140.24,558.49 L140.73,559.28 L141.23,560.06 L141.73,560.85 L142.24,561.63 L142.76,562.41 L143.29,563.19 L143.82,563.97 L144.36,564.74 L144.90,565.52 L145.45,566.29 L146.01,567.06 L146.57,567.83 L147.14,568.60 L147.72,569.37 L148.30,570.14 L148.89,570.90 L149.49,571.66 L150.09,572.43 L150.70,573.19 L151.31,573.94 L151.93,574.70 L152.56,575.46 L153.20,576.21 L153.84,576.96 L154.48,577.71 L155.14,578.46 L155.80,579.21 L156.46,579.95 L157.14,580.70 L157.81,581.44 L158.50,582.18 L159.19,582.92 L159.89,583.66 L160.59,584.39 L161.30,585.13 L162.02,585.86 L162.74,586.59 L163.47,587.32 L164.20,588.04 L164.94,588.77 L165.69,589.49 L166.44,590.21 L167.20,590.93 L167.97,591.65 L168.74,592.36 L169.52,593.08 L170.30,593.79 L171.09,594.50 L171.89,595.21 L172.69,595.91 L173.50,596.62 L174.31,597.32 L175.13,598.02 L175.96,598.72 L176.79,599.41 L177.63,600.11 L178.47,600.80 L179.32,601.49 L180.18,602.18 L181.04,602.87 L181.91,603.55 L182.78,604.23 L183.66,604.91 L184.54,605.59 L185.43,606.27 L186.33,606.94 L187.23,607.61 L188.14,608.28 L189.06,608.95 L189.98,609.62 L190.90,610.28 L191.84,610.94 L192.77,611.60 L193.72,612.26 L194.67,612.91 L195.62,613.56 L196.58,614.21 L197.55,614.86 L198.52,615.51 L199.49,616.15 L200.48,616.79 L201.47,617.43 L202.46,618.07 L203.46,618.70 L204.46,619.33 L205.47,619.96 L206.49,620.59 L207.51,621.22 L208.54,621.84 L209.57,622.46 L210.61,623.08 L211.65,623.69 L212.70,624.31 L213.76,624.92 L214.82,625.53 L215.88,626.13 L216.95,626.74 L218.03,627.34 L219.11,627.94 L220.19,628.53 L221.29,629.13 L222.38,629.72 L223.48,630.31 L224.59,630.90 L225.70,631.48 L226.82,632.06 L227.94,632.64 L229.07,633.22 L230.20,633.79 L231.34,634.36 L232.49,634.93 L233.63,635.50 L234.79,636.06 L235.95,636.62 L237.11,637.18 L238.28,637.74 L239.45,638.29 L240.63,638.84 L241.81,639.39 L243.00,639.94 L244.19,640.48 L245.39,641.02 L246.60,641.56 L247.80,642.10 L249.02,642.63 L250.23,643.16 L251.46,643.68 L252.68,644.21 L253.91,644.73 L255.15,645.25 L256.39,645.77 L257.64,646.28 L258.89,646.79 L260.14,647.30 L261.40,647.80 L262.67,648.31 L263.94,648.81 L265.21,649.30 L266.49,649.80 L267.77,650.29 L269.06,650.78 L270.35,651.26 L271.65,651.75 L272.95,652.23 L274.25,652.70 L275.56,653.18 L276.88,653.65 L278.19,654.12 L279.52,654.58 L280.84,655.05 L282.17,655.51 L283.51,655.96 L284.85,656.42 L286.19,656.87 L287.54,657.32 L288.89,657.76 L290.25,658.21 L291.61,658.65 L292.97,659.08 L294.34,659.52 L295.72,659.95 L303.24,650.73 L302.14,650.39 L301.05,650.04 L299.95,649.69 L298.86,649.34 L297.77,648.98 L296.69,648.63 L295.60,648.27 L294.52,647.90 L293.44,647.54 L292.37,647.17 L291.29,646.81 L290.22,646.44 L289.15,646.06 L288.08,645.69 L287.02,645.31 L285.95,644.93 L284.89,644.55 L283.84,644.16 L282.78,643.78 L281.73,643.39 L280.68,643.00 L279.63,642.60 L278.58,642.21 L277.54,641.81 L276.50,641.41 L275.46,641.01 L274.43,640.61 L273.40,640.20 L272.37,639.79 L271.34,639.38 L270.32,638.97 L269.29,638.56 L268.28,638.14 L267.26,637.72 L266.25,637.30 L265.24,636.88 L264.23,636.45 L263.22,636.02 L262.22,635.59 L261.22,635.16 L260.22,634.73 L259.23,634.29 L258.24,633.86 L257.25,633.42 L256.27,632.97 L255.28,632.53 L254.31,632.08 L253.33,631.64 L252.36,631.19 L251.39,630.74 L250.42,630.28 L249.45,629.83 L248.49,629.37 L247.54,628.91 L246.58,628.45 L245.63,627.98 L244.68,627.52 L243.73,627.05 L242.79,626.58 L241.85,626.11 L240.92,625.64 L239.98,625.16 L239.05,624.68 L238.13,624.20 L237.20,623.72 L236.28,623.24 L235.37,622.76 L234.45,622.27 L233.54,621.78 L232.63,621.29 L231.73,620.80 L230.83,620.30 L229.93,619.81 L229.04,619.31 L228.15,618.81 L227.26,618.31 L226.38,617.81 L225.50,617.30 L224.62,616.79 L223.75,616.29 L222.88,615.78 L222.01,615.26 L221.15,614.75 L220.29,614.23 L219.43,613.72 L218.58,613.20 L217.73,612.68 L216.88,612.16 L216.04,611.63 L215.20,611.11 L214.37,610.58 L213.54,610.05 L212.71,609.52 L211.89,608.99 L211.07,608.45 L210.25,607.92 L209.44,607.38 L208.63,606.84 L207.82,606.30 L207.02,605.76 L206.22,605.21 L205.43,604.67 L204.64,604.12 L203.85,603.57 L203.07,603.02 L202.29,602.47 L201.51,601.92 L200.74,601.36 L199.97,600.81 L199.21,600.25 L198.45,599.69 L197.69,599.13 L196.94,598.57 L196.19,598.00 L195.45,597.44 L194.70,596.87 L193.97,596.30 L193.23,595.74 L192.51,595.16 L191.78,594.59 L191.06,594.02 L190.34,593.44 L189.63,592.87 L188.92,592.29 L188.21,591.71 L187.51,591.13 L186.82,590.55 L186.12,589.96 L185.43,589.38 L184.75,588.79 L184.07,588.20 L183.39,587.62 L182.72,587.03 L182.05,586.43 L181.39,585.84 L180.73,585.25 L180.07,584.65 L179.42,584.06 L178.77,583.46 L178.13,582.86 L177.49,582.26 L176.85,581.66 L176.22,581.06 L175.59,580.45 L174.97,579.85 L174.35,579.24 L173.74,578.63 L173.13,578.03 L172.52,577.42 L171.92,576.81 L171.33,576.19 L170.73,575.58 L170.14,574.97 L169.56,574.35 L168.98,573.74 L168.41,573.12 L167.83,572.50 L167.27,571.88 L166.70,571.26 L166.15,570.64 L165.59,570.02 L165.04,569.39 L164.50,568.77 L163.96,568.14 L163.42,567.52 L162.89,566.89 L162.36,566.26 L161.84,565.63 L161.32,565.00 L160.81,564.37 L160.30,563.74 L159.79,563.10 L159.29,562.47 L158.80,561.83 L158.31,561.20 L157.82,560.56 L157.34,559.92 L156.86,559.28 L156.39,558.65 L155.92,558.01 L155.45,557.36 L154.99,556.72 L154.54,556.08 L154.09,555.44 L153.64,554.79 L153.20,554.15 L152.76,553.50 L152.33,552.85 L151.90,552.21 L151.48,551.56 L151.06,550.91 L150.65,550.26 L150.24,549.61 L149.83,548.96 L149.43,548.31 L149.04,547.66 L148.65,547.00 L148.26,546.35 L147.88,545.70 L147.50,545.04 L147.13,544.39 L146.77,543.73 L146.40,543.07 L146.04,542.42 L145.69,541.76 L145.34,541.10 L145.00,540.44 L144.66,539.78 L144.33,539.12 L144.00,538.46 L143.67,537.80 L143.35,537.14 L143.04,536.48 L142.73,535.82 L142.42,535.15 L142.12,534.49 L141.82,533.83 L141.53,533.16 L141.24,532.50 L140.96,531.83 L140.69,531.17 L140.41,530.50 L140.15,529.83 L139.88,529.17 L139.62,528.50 L139.37,527.83 L139.12,527.17 L138.88,526.50 L138.64,525.83 L138.41,525.16 L138.18,524.49 L137.95,523.82 L137.73,523.15 L137.52,522.48 L137.31,521.81 L137.10,521.14 L136.90,520.47 L136.71,519.80 L136.52,519.13 L136.33,518.46 L136.15,517.79 L135.98,517.12 L135.81,516.45 L135.64,515.78 L135.48,515.10 L135.32,514.43 L135.17,513.76 L135.02,513.09 L134.88,512.41 L134.75,511.74 L134.61,511.07 L134.49,510.40 L134.37,509.72 L134.25,509.05 L134.14,508.38 L134.03,507.71 L133.93,507.03 L133.83,506.36 L133.74,505.69 L133.65,505.02 L133.56,504.34 L133.49,503.67 L133.41,503.00 L133.35,502.32 L133.28,501.65 L133.22,500.98 L133.17,500.31 L133.12,499.64 L133.08,498.96 L133.04,498.29 L133.01,497.62 L132.98,496.95 L132.95,496.28 L132.93,495.60 L132.92,494.93 L132.91,494.26 L132.91,493.59 L132.91,492.92 L132.91,492.25 L132.92,491.58 L132.94,490.91 L132.96,490.24 L132.98,489.57 L133.01,488.90 L133.05,488.23 L133.09,487.57 L133.13,486.90 L133.18,486.23 L133.24,485.56 L133.30,484.90 L133.36,484.23 L133.43,483.56 L133.50,482.90 L133.58,482.23 L133.67,481.56 L133.76,480.90 L133.85,480.24 L133.95,479.57 L134.05,478.91 L134.16,478.24 L134.27,477.58 L134.39,476.92 L134.52,476.26 L134.64,475.60 L134.78,474.94 L134.91,474.28 L135.06,473.62 L135.21,472.96 L135.36,472.30 L135.51,471.64 L135.68,470.98 L135.84,470.33 L136.02,469.67 L136.19,469.01 L136.37,468.36 L136.56,467.70 L136.75,467.05 L136.95,466.40 L137.15,465.74 L137.36,465.09 L137.57,464.44 L137.78,463.79 L138.00,463.14 L138.23,462.49 L138.46,461.84 L138.69,461.20 L138.93,460.55 L139.18,459.90 L139.43,459.26 L139.68,458.61 L139.94,457.97 L140.21,457.32 L140.47,456.68 L140.75,456.04 L141.03,455.40 L141.31,454.76 L141.60,454.12 L141.89,453.48 L142.19,452.85 L142.49,452.21 L142.80,451.57 L143.11,450.94 L143.42,450.31 L143.74,449.67 L144.07,449.04 L144.40,448.41 L144.74,447.78 L145.08,447.15 L145.42,446.52 L145.77,445.89 L146.13,445.27 L146.48,444.64 L146.85,444.02 L147.22,443.40 L147.59,442.77 L147.97,442.15 L148.35,441.53 L148.74,440.91 L149.13,440.29 L149.52,439.68 L149.92,439.06 L150.33,438.45 L150.74,437.83 L151.16,437.22 L151.58,436.61 L152.00,436.00 L152.43,435.39 L152.86,434.78 L153.30,434.18 L153.74,433.57 L154.19,432.97 L154.64,432.36 L155.10,431.76 L155.56,431.16 L156.02,430.56 L156.49,429.96 L156.97,429.36 L157.45,428.77 L157.93,428.17 L158.42,427.58 L158.91,426.99 L159.41,426.40 L159.91,425.81 L160.41,425.22 L160.92,424.63 L161.44,424.05 L161.96,423.46 L162.48,422.88 L163.01,422.30 L163.54,421.72 L164.08,421.14 L164.62,420.56 L165.17,419.98 L165.72,419.41 L166.27,418.84 L166.83,418.26 L167.39,417.69 L167.96,417.12 L168.53,416.56 L169.11,415.99 L169.69,415.43 L170.28,414.86 L170.87,414.30 L171.46,413.74 L172.06,413.18 L172.66,412.63 L173.27,412.07 L173.88,411.52 L174.49,410.96 L175.11,410.41 L175.74,409.86 L176.36,409.31 L177.00,408.77 L177.63,408.22 L178.27,407.68 L178.92,407.14 L179.56,406.60 L180.22,406.06 L180.87,405.52 L181.54,404.99 L182.20,404.46 Z"/>
</g>
<path d="M122.97,509.48 L122.96,510.13 L122.95,510.77 L122.95,511.41 L122.95,512.05 L122.95,512.70 L122.96,513.34 L122.97,513.98 L122.99,514.63 L123.01,515.28 L123.04,515.92 L123.06,516.57 L123.10,517.22 L123.13,517.86 L123.17,518.51 L123.22,519.16 L123.27,519.81 L123.32,520.46 L123.38,521.11 L123.44,521.76 L123.50,522.42 L123.57,523.07 L123.64,523.72 L123.72,524.37 L123.80,525.03 L123.89,525.68 L124.05,526.32 L124.22,526.95 L124.39,527.58 L124.57,528.22 L124.75,528.85 L124.93,529.48 L125.12,530.11 L125.32,530.74 L125.51,531.38 L125.71,532.01 L125.92,532.63 L126.12,533.26 L126.34,533.89 L126.55,534.52 L126.77,535.15 L126.99,535.77 L127.22,536.40 L127.45,537.02 L127.69,537.65 L127.93,538.27 L128.17,538.90 L128.42,539.52 L128.67,540.14 L128.92,540.76 L129.18,541.39 L129.44,542.01 L129.71,542.63 L129.98,543.25 L130.25,543.86 L130.53,544.48 L130.81,545.10 L131.09,545.72 L131.38,546.33 L131.67,546.95 L131.97,547.56 L132.27,548.18 L132.57,548.79 L132.88,549.40 L133.19,550.01 L133.51,550.62 L133.83,551.23 L134.15,551.84 L134.48,552.45 L134.81,553.06 L135.14,553.67 L135.48,554.27 L135.82,554.88 L136.17,555.48 L136.52,556.09 L136.87,556.69 L137.23,557.30 L137.59,557.90 L137.95,558.50 L138.32,559.10 L138.69,559.70 L139.06,560.30 L139.44,560.90 L139.83,561.49 L140.21,562.09 L140.60,562.68 L141.00,563.28 L141.40,563.87 L141.80,564.47 L142.20,565.06 L142.61,565.65 L143.02,566.24 L143.44,566.83 L143.86,567.42 L144.28,568.01 L144.71,568.59 L145.14,569.18 L145.57,569.76 L146.01,570.35 L146.45,570.93 L146.90,571.51 L147.35,572.10 L147.80,572.68 L148.26,573.26 L148.72,573.83 L149.18,574.41 L149.65,574.99 L150.12,575.56 L150.59,576.14 L151.07,576.71 L151.55,577.29 L152.04,577.86 L152.53,578.43 L153.02,579.00 L153.52,579.57 L154.02,580.14 L154.52,580.71 L155.02,581.27 L155.54,581.84 L156.05,582.40 L156.57,582.96 L157.09,583.53 L157.61,584.09 L158.14,584.65 L158.67,585.21 L159.21,585.77 L159.74,586.32 L160.29,586.88 L160.83,587.43 L161.38,587.99 L161.93,588.54 L162.49,589.09 L163.05,589.64 L163.61,590.19 L164.18,590.74 L164.75,591.29 L165.32,591.84 L165.90,592.38 L166.48,592.93 L167.06,593.47 L167.65,594.01 L168.24,594.55 L168.84,595.09 L169.43,595.63 L170.03,596.17 L170.64,596.71 L171.25,597.24 L171.86,597.78 L172.47,598.31 L173.09,598.84 L173.71,599.37 L174.34,599.90 L174.96,600.43 L175.60,600.96 L176.23,601.49 L176.87,602.01 L177.51,602.53 L178.16,603.06 L178.80,603.58 L179.46,604.10 L180.11,604.62 L180.77,605.14 L181.43,605.65 L182.09,606.17 L182.76,606.68 L183.43,607.20 L184.11,607.71 L184.79,608.22 L185.47,608.73 L186.15,609.24 L186.84,609.75 L187.53,610.25 L188.23,610.76 L188.92,611.26 L189.63,611.76 L190.33,612.26 L191.04,612.76 L191.75,613.26 L192.46,613.76 L193.18,614.25 L193.90,614.75 L194.62,615.24 L195.35,615.73 L196.08,616.23 L196.81,616.72 L197.55,617.20 L198.29,617.69 L199.03,618.18 L199.77,618.66 L200.52,619.14 L201.27,619.63 L202.03,620.11 L202.79,620.58 L203.55,621.06 L204.31,621.54 L205.08,622.01 L205.85,622.49 L206.62,622.96 L207.40,623.43 L208.18,623.90 L208.96,624.37 L209.75,624.84 L210.54,625.30 L211.33,625.77 L212.13,626.23 L212.92,626.69 L213.72,627.15 L214.53,627.61 L215.34,628.07 L216.15,628.52 L216.96,628.98 L217.78,629.43 L218.59,629.88 L219.42,630.33 L220.24,630.78 L221.07,631.23 L221.90,631.67 L222.73,632.12 L223.57,632.56 L224.41,633.00 L225.25,633.45 L226.10,633.88 L226.95,634.32 L227.80,634.76 L228.65,635.19 L229.51,635.63 L230.37,636.06 L231.23,636.49 L232.10,636.92 L232.97,637.34 L233.84,637.77 L234.71,638.19 L235.59,638.62 L236.47,639.04 L237.35,639.46 L238.24,639.88 L239.12,640.29 L240.02,640.71 L240.91,641.12 L241.81,641.54 L242.71,641.95 L243.61,642.36 L244.51,642.76 L245.42,643.17 L246.33,643.58 L247.24,643.98 L248.16,644.38 L249.08,644.78 L250.00,645.18 L250.92,645.58 L251.85,645.97 L252.78,646.37 L253.71,646.76 L254.64,647.15 L255.58,647.54 L256.52,647.93 L257.46,648.31 L258.41,648.70 L259.36,649.08 L260.31,649.46 L261.26,649.84 L262.21,650.22 L263.17,650.60 L264.13,650.98 L265.10,651.35 L266.06,651.72 L267.03,652.09 L268.00,652.46 L268.97,652.83 L269.95,653.19 L270.93,653.56 L271.91,653.92 L272.89,654.28 L273.88,654.64 L274.87,655.00 L275.86,655.36 L276.85,655.71 L277.84,656.06 L278.84,656.41 L279.84,656.76 L280.85,657.11 L281.85,657.46 L282.86,657.80 L283.87,658.15 L284.88,658.49 L285.90,658.83 L286.91,659.17 L287.93,659.50 L288.95,659.84 L289.98,660.17 L291.01,660.50 L292.03,660.83 L293.07,661.16 L294.10,661.48 L295.13,661.81 L296.30,658.09 L295.27,657.76 L294.24,657.44 L293.22,657.12 L292.20,656.79 L291.18,656.46 L290.16,656.13 L289.15,655.80 L288.14,655.46 L287.13,655.13 L286.12,654.79 L285.12,654.45 L284.12,654.11 L283.12,653.77 L282.12,653.43 L281.13,653.08 L280.13,652.73 L279.14,652.39 L278.16,652.04 L277.17,651.68 L276.19,651.33 L275.21,650.98 L274.23,650.62 L273.26,650.26 L272.28,649.90 L271.31,649.54 L270.35,649.18 L269.38,648.81 L268.42,648.45 L267.46,648.08 L266.50,647.71 L265.55,647.34 L264.60,646.97 L263.65,646.60 L262.70,646.22 L261.76,645.84 L260.81,645.47 L259.87,645.09 L258.94,644.70 L258.00,644.32 L257.07,643.94 L256.15,643.55 L255.22,643.16 L254.30,642.78 L253.38,642.38 L252.46,641.99 L251.54,641.60 L250.63,641.20 L249.72,640.81 L248.81,640.41 L247.91,640.01 L247.01,639.61 L246.11,639.21 L245.21,638.80 L244.32,638.40 L243.43,637.99 L242.54,637.58 L241.66,637.17 L240.78,636.76 L239.90,636.35 L239.02,635.93 L238.15,635.52 L237.28,635.10 L236.41,634.68 L235.55,634.26 L234.68,633.84 L233.82,633.42 L232.97,633.00 L232.11,632.57 L231.26,632.14 L230.42,631.71 L229.57,631.28 L228.73,630.85 L227.89,630.42 L227.05,629.99 L226.22,629.55 L225.39,629.11 L224.56,628.68 L223.74,628.24 L222.92,627.80 L222.10,627.35 L221.29,626.91 L220.47,626.46 L219.66,626.02 L218.86,625.57 L218.05,625.12 L217.25,624.67 L216.46,624.22 L215.66,623.77 L214.87,623.31 L214.08,622.86 L213.30,622.40 L212.52,621.94 L211.74,621.48 L210.96,621.02 L210.19,620.56 L209.42,620.09 L208.65,619.63 L207.89,619.16 L207.13,618.69 L206.37,618.23 L205.62,617.76 L204.87,617.28 L204.12,616.81 L203.37,616.34 L202.63,615.86 L201.89,615.39 L201.16,614.91 L200.43,614.43 L199.70,613.95 L198.97,613.47 L198.25,612.99 L197.53,612.50 L196.81,612.02 L196.10,611.53 L195.39,611.04 L194.68,610.55 L193.98,610.07 L193.28,609.57 L192.58,609.08 L191.89,608.59 L191.20,608.09 L190.51,607.60 L189.83,607.10 L189.15,606.60 L188.47,606.10 L187.80,605.60 L187.13,605.10 L186.46,604.60 L185.80,604.10 L185.14,603.59 L184.48,603.08 L183.83,602.58 L183.17,602.07 L182.53,601.56 L181.88,601.05 L181.24,600.54 L180.61,600.02 L179.97,599.51 L179.34,598.99 L178.71,598.48 L178.09,597.96 L177.47,597.44 L176.85,596.92 L176.24,596.40 L175.63,595.88 L175.02,595.36 L174.42,594.84 L173.82,594.31 L173.22,593.79 L172.63,593.26 L172.04,592.73 L171.45,592.20 L170.87,591.67 L170.29,591.14 L169.71,590.61 L169.14,590.08 L168.57,589.54 L168.01,589.01 L167.45,588.47 L166.89,587.94 L166.33,587.40 L165.78,586.86 L165.23,586.32 L164.69,585.78 L164.15,585.24 L163.61,584.69 L163.07,584.15 L162.54,583.61 L162.02,583.06 L161.49,582.51 L160.97,581.97 L160.46,581.42 L159.94,580.87 L159.43,580.32 L158.93,579.77 L158.42,579.22 L157.93,578.66 L157.43,578.11 L156.94,577.56 L156.45,577.00 L155.97,576.45 L155.48,575.89 L155.01,575.33 L154.53,574.77 L154.06,574.21 L153.60,573.65 L153.13,573.09 L152.67,572.53 L152.22,571.96 L151.77,571.40 L151.32,570.84 L150.87,570.27 L150.43,569.70 L149.99,569.14 L149.56,568.57 L149.13,568.00 L148.70,567.43 L148.28,566.86 L147.86,566.29 L147.44,565.72 L147.03,565.15 L146.62,564.57 L146.21,564.00 L145.81,563.42 L145.42,562.85 L145.02,562.27 L144.63,561.69 L144.24,561.12 L143.86,560.54 L143.48,559.96 L143.10,559.38 L142.73,558.80 L142.36,558.22 L142.00,557.64 L141.64,557.05 L141.28,556.47 L140.93,555.89 L140.58,555.30 L140.23,554.72 L139.89,554.13 L139.55,553.54 L139.21,552.96 L138.88,552.37 L138.55,551.78 L138.23,551.19 L137.91,550.60 L137.59,550.01 L137.28,549.42 L136.97,548.83 L136.66,548.23 L136.36,547.64 L136.06,547.05 L135.77,546.45 L135.48,545.86 L135.19,545.26 L134.91,544.67 L134.63,544.07 L134.35,543.47 L134.08,542.88 L133.81,542.28 L133.55,541.68 L133.29,541.08 L133.03,540.48 L132.78,539.88 L132.53,539.28 L132.28,538.68 L132.04,538.08 L131.80,537.47 L131.57,536.87 L131.33,536.27 L131.11,535.66 L130.88,535.06 L130.66,534.45 L130.45,533.85 L130.24,533.24 L130.03,532.64 L129.82,532.03 L129.62,531.42 L129.43,530.81 L129.23,530.20 L129.04,529.60 L128.86,528.99 L128.68,528.38 L128.50,527.77 L128.32,527.16 L128.15,526.55 L127.99,525.93 L127.82,525.32 L127.66,524.71 L127.43,524.12 L127.20,523.52 L126.98,522.93 L126.75,522.33 L126.54,521.73 L126.32,521.13 L126.11,520.53 L125.91,519.93 L125.71,519.32 L125.51,518.72 L125.31,518.11 L125.12,517.50 L124.93,516.89 L124.75,516.28 L124.57,515.67 L124.39,515.06 L124.22,514.44 L124.05,513.83 L123.88,513.21 L123.72,512.59 L123.56,511.97 L123.41,511.35 L123.26,510.73 L123.11,510.11 L122.97,509.48 Z" fill="#000"/>
<g fill="none" stroke="#000" stroke-width="3.9" stroke-linejoin="miter" stroke-linecap="butt">
<path d="M183.64,405.45 L182.98,405.98 L182.32,406.51 L181.66,407.04 L181.01,407.58 L180.36,408.11 L179.72,408.65 L179.08,409.19 L178.45,409.73 L177.82,410.27 L177.19,410.82 L176.57,411.36 L175.95,411.91 L175.34,412.46 L174.73,413.01 L174.12,413.56 L173.52,414.11 L172.93,414.67 L172.34,415.23 L171.75,415.78 L171.17,416.34 L170.59,416.90 L170.01,417.47 L169.44,418.03 L168.88,418.59 L168.31,419.16 L167.76,419.73 L167.20,420.30 L166.66,420.87 L166.11,421.44 L165.57,422.01 L165.04,422.59 L164.51,423.16 L163.98,423.74 L163.46,424.32 L162.94,424.90 L162.43,425.48 L161.92,426.07 L161.42,426.65 L160.92,427.23 L160.42,427.82 L159.93,428.41 L159.44,429.00 L158.96,429.59 L158.49,430.18 L158.01,430.77 L157.55,431.37 L157.08,431.96 L156.62,432.56 L156.17,433.16 L155.72,433.76 L155.27,434.36 L154.83,434.96 L154.40,435.56 L153.97,436.17 L153.54,436.77 L153.12,437.38 L152.70,437.98 L152.29,438.59 L151.88,439.20 L151.48,439.81 L151.08,440.42 L150.68,441.04 L150.29,441.65 L149.91,442.27 L149.53,442.88 L149.15,443.50 L148.78,444.12 L148.42,444.74 L148.05,445.36 L147.70,445.98 L147.35,446.60 L147.00,447.22 L146.66,447.85 L146.32,448.47 L145.98,449.10 L145.66,449.72 L145.33,450.35 L145.01,450.98 L144.70,451.61 L144.39,452.24 L144.08,452.87 L143.79,453.50 L143.49,454.14 L143.20,454.77 L142.91,455.41 L142.63,456.04 L142.36,456.68 L142.09,457.31 L141.82,457.95 L141.56,458.59 L141.30,459.23 L141.05,459.87 L140.80,460.51 L140.56,461.15 L140.32,461.80 L140.09,462.44 L139.86,463.08 L139.64,463.73 L139.42,464.37 L139.21,465.02 L139.00,465.67 L138.80,466.32 L138.60,466.96 L138.40,467.61 L138.21,468.26 L138.03,468.91 L137.85,469.56 L137.68,470.21 L137.51,470.87 L137.34,471.52 L137.18,472.17 L137.03,472.82 L136.88,473.48 L136.73,474.13 L136.59,474.79 L136.46,475.44 L136.33,476.10 L136.20,476.76 L136.08,477.41 L135.96,478.07 L135.85,478.73 L135.75,479.39 L135.64,480.05 L135.55,480.71 L135.46,481.37 L135.37,482.03 L135.29,482.69 L135.21,483.35 L135.14,484.01 L135.07,484.67 L135.01,485.34 L134.96,486.00 L134.90,486.66 L134.86,487.33 L134.81,487.99 L134.78,488.65 L134.74,489.32 L134.72,489.98 L134.69,490.65 L134.68,491.31 L134.66,491.98 L134.66,492.64 L134.65,493.31 L134.66,493.97 L134.66,494.64 L134.68,495.31 L134.69,495.97 L134.71,496.64 L134.74,497.31 L134.77,497.97 L134.81,498.64 L134.85,499.31 L134.90,499.98 L134.95,500.64 L135.00,501.31 L135.07,501.98 L135.13,502.65 L135.20,503.31 L135.28,503.98 L135.36,504.65 L135.44,505.32 L135.54,505.99 L135.63,506.65 L135.73,507.32 L135.84,507.99 L135.95,508.66 L136.06,509.33 L136.18,509.99 L136.31,510.66 L136.44,511.33 L136.57,512.00 L136.71,512.67 L136.86,513.33 L137.00,514.00 L137.16,514.67 L137.32,515.34 L137.48,516.00 L137.65,516.67 L137.82,517.34 L138.00,518.00 L138.19,518.67 L138.38,519.34 L138.57,520.00 L138.77,520.67 L138.97,521.33 L139.18,522.00"/><path d="M302.60,651.40 L295.70,660.00 L295.70,726.10"/>
</g>
<circle cx="178.2" cy="394.3" r="40.5" fill="#bcff2f" stroke="#000" stroke-width="5"/>
<g fill="#1b1b1b">
<rect x="163" y="377.1" width="30.1" height="6.8"/>
<rect x="174.2" y="383.5" width="7.6" height="30.1"/>
</g>
<clipPath id="stemc"><rect x="174" y="393.4" width="8" height="6"/></clipPath>
<ellipse clip-path="url(#stemc)" cx="178.2" cy="393.45" rx="19.2" ry="2.2" fill="none" stroke="#bcff2f" stroke-width="1.3"/>
<ellipse cx="178.2" cy="393.45" rx="19.2" ry="3.6" fill="none" stroke="#1b1b1b" stroke-width="1.5"/>
<circle cx="543.5" cy="63.7" r="58" fill="#fff"/>
<g fill="#1c1c1c">
<path fill-rule="evenodd" d="M521.3,38.1 L550.9,38.1 C560,38.3 566.5,42.5 566.5,48.5 C566.5,53.5 563.5,57.2 559.5,58.8 C565.5,60.5 570.3,65 570.3,71 C570.3,79.5 563,84.8 551,84.8 L521.3,84.8 L522.4,77.2 L528.8,77.2 L528.8,44.1 L521.3,44.1 Z M539.8,44.5 L548,44.5 C552.5,44.5 554.6,47.2 554.6,51 C554.6,55 552,57.4 547.5,57.4 L539.8,57.4 Z M539.8,63.4 L549,63.4 C555,63.4 557.8,66.5 557.8,70.5 C557.8,75 554.5,77.7 549,77.7 L539.8,77.7 Z"/>
<rect x="533.9" y="28" width="5.9" height="10.6"/><rect x="544.9" y="28" width="6" height="10.6"/>
<rect x="533.9" y="84.5" width="5.9" height="10.6"/><rect x="544.9" y="84.5" width="6" height="10.6"/>
</g>
<circle cx="615" cy="699.4" r="47" fill="#fff"/>
<g fill="#000"><circle cx="595.4" cy="699.5" r="5.8"/><circle cx="615" cy="699.5" r="5.8"/><circle cx="635.8" cy="699.5" r="5.8"/></g>
</svg>
</body></html>
